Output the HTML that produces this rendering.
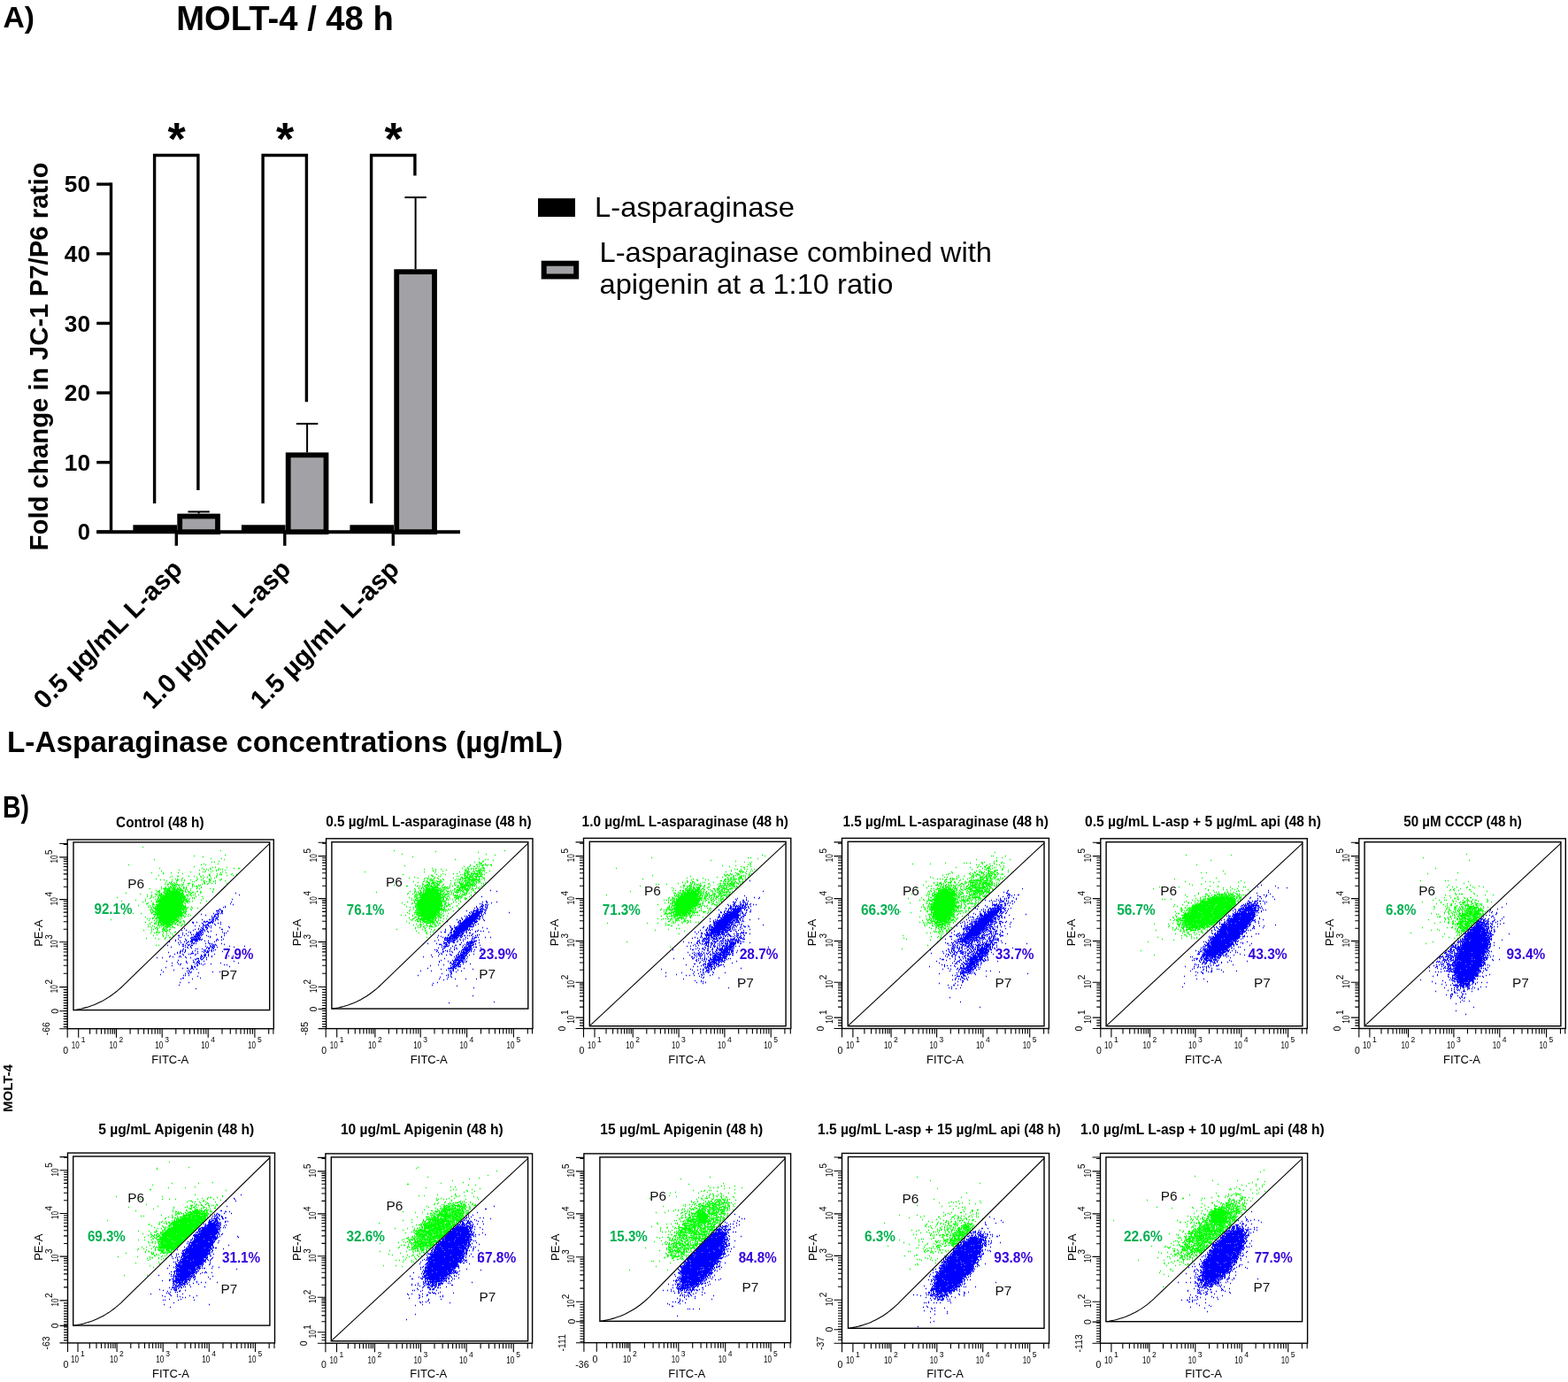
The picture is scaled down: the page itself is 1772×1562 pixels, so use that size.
<!DOCTYPE html>
<html><head><meta charset="utf-8"><title>MOLT-4 / 48 h</title>
<style>html,body{margin:0;padding:0;background:#fff;}svg{display:block;}</style></head>
<body><svg width="1772" height="1562" viewBox="0 0 1772 1562">
<rect width="1772" height="1562" fill="#fff"/>
<text x="3.5" y="31.2" font-family="Liberation Sans, Arial, sans-serif" font-weight="bold" font-size="33" textLength="35.5" lengthAdjust="spacingAndGlyphs">A)</text>
<text x="199.3" y="33.7" font-family="Liberation Sans, Arial, sans-serif" font-weight="bold" font-size="38.5" textLength="245.5" lengthAdjust="spacingAndGlyphs">MOLT-4 / 48 h</text>
<g stroke="#000" fill="none">
<line x1="125.5" y1="206.5" x2="125.5" y2="603" stroke-width="3.4"/>
<line x1="109.2" y1="601.2" x2="125.5" y2="601.2" stroke-width="3.4"/>
<line x1="109.2" y1="522.6" x2="125.5" y2="522.6" stroke-width="3.4"/>
<line x1="109.2" y1="444.0" x2="125.5" y2="444.0" stroke-width="3.4"/>
<line x1="109.2" y1="365.4" x2="125.5" y2="365.4" stroke-width="3.4"/>
<line x1="109.2" y1="286.8" x2="125.5" y2="286.8" stroke-width="3.4"/>
<line x1="109.2" y1="208.2" x2="125.5" y2="208.2" stroke-width="3.4"/>
<line x1="109.2" y1="601.2" x2="520" y2="601.2" stroke-width="3.9"/>
<line x1="199.3" y1="601" x2="199.3" y2="616.8" stroke-width="3.4"/>
<line x1="321.8" y1="601" x2="321.8" y2="616.8" stroke-width="3.4"/>
<line x1="444.3" y1="601" x2="444.3" y2="616.8" stroke-width="3.4"/>
</g>
<rect x="150.4" y="593.3" width="49.6" height="7.9" fill="#000"/>
<rect x="203.2" y="583.5" width="42.8" height="17.7" fill="#a2a2a6" stroke="#000" stroke-width="5.8"/>
<line x1="224.6" y1="578.4" x2="224.6" y2="580.6" stroke="#000" stroke-width="2"/>
<line x1="212.4" y1="578.4" x2="236.8" y2="578.4" stroke="#000" stroke-width="2"/>
<path d="M174.6 569 V175.5 H223.9 V554" fill="none" stroke="#000" stroke-width="3.4"/>
<text x="199.6" y="175" text-anchor="middle" font-family="Liberation Sans, Arial, sans-serif" font-weight="bold" font-size="52">*</text>
<rect x="272.9" y="593.3" width="49.6" height="7.9" fill="#000"/>
<rect x="325.7" y="514.3" width="42.8" height="86.9" fill="#a2a2a6" stroke="#000" stroke-width="5.8"/>
<line x1="347.1" y1="478.9" x2="347.1" y2="511.4" stroke="#000" stroke-width="2"/>
<line x1="334.9" y1="478.9" x2="359.3" y2="478.9" stroke="#000" stroke-width="2"/>
<path d="M297.1 569 V175.5 H346.4 V454.2" fill="none" stroke="#000" stroke-width="3.4"/>
<text x="322.1" y="175" text-anchor="middle" font-family="Liberation Sans, Arial, sans-serif" font-weight="bold" font-size="52">*</text>
<rect x="395.4" y="593.3" width="49.6" height="7.9" fill="#000"/>
<rect x="448.2" y="307.2" width="42.8" height="294.0" fill="#a2a2a6" stroke="#000" stroke-width="5.8"/>
<line x1="469.6" y1="223.1" x2="469.6" y2="304.3" stroke="#000" stroke-width="2"/>
<line x1="457.4" y1="223.1" x2="481.8" y2="223.1" stroke="#000" stroke-width="2"/>
<path d="M419.6 569 V175.5 H468.9 V198.5" fill="none" stroke="#000" stroke-width="3.4"/>
<text x="444.6" y="175" text-anchor="middle" font-family="Liberation Sans, Arial, sans-serif" font-weight="bold" font-size="52">*</text>
<text x="102" y="610.4" text-anchor="end" font-family="Liberation Sans, Arial, sans-serif" font-weight="bold" font-size="26" textLength="14.2" lengthAdjust="spacingAndGlyphs">0</text>
<text x="102" y="531.8" text-anchor="end" font-family="Liberation Sans, Arial, sans-serif" font-weight="bold" font-size="26" textLength="29.2" lengthAdjust="spacingAndGlyphs">10</text>
<text x="102" y="453.2" text-anchor="end" font-family="Liberation Sans, Arial, sans-serif" font-weight="bold" font-size="26" textLength="29.2" lengthAdjust="spacingAndGlyphs">20</text>
<text x="102" y="374.6" text-anchor="end" font-family="Liberation Sans, Arial, sans-serif" font-weight="bold" font-size="26" textLength="29.2" lengthAdjust="spacingAndGlyphs">30</text>
<text x="102" y="296.0" text-anchor="end" font-family="Liberation Sans, Arial, sans-serif" font-weight="bold" font-size="26" textLength="29.2" lengthAdjust="spacingAndGlyphs">40</text>
<text x="102" y="217.4" text-anchor="end" font-family="Liberation Sans, Arial, sans-serif" font-weight="bold" font-size="26" textLength="29.2" lengthAdjust="spacingAndGlyphs">50</text>
<text transform="translate(53.5 403) rotate(-90)" text-anchor="middle" font-family="Liberation Sans, Arial, sans-serif" font-weight="bold" font-size="29.5" textLength="439" lengthAdjust="spacingAndGlyphs">Fold change in JC-1 P7/P6 ratio</text>
<text transform="translate(207.8 645) rotate(-45)" text-anchor="end" font-family="Liberation Sans, Arial, sans-serif" font-weight="bold" font-size="29.5">0.5 µg/mL L-asp</text>
<text transform="translate(330.3 645) rotate(-45)" text-anchor="end" font-family="Liberation Sans, Arial, sans-serif" font-weight="bold" font-size="29.5">1.0 µg/mL L-asp</text>
<text transform="translate(452.8 645) rotate(-45)" text-anchor="end" font-family="Liberation Sans, Arial, sans-serif" font-weight="bold" font-size="29.5">1.5 µg/mL L-asp</text>
<text x="8" y="850.4" font-family="Liberation Sans, Arial, sans-serif" font-weight="bold" font-size="33" textLength="628" lengthAdjust="spacingAndGlyphs">L-Asparaginase concentrations (µg/mL)</text>
<rect x="608" y="224.2" width="42" height="20.8" fill="#000"/>
<rect x="614.7" y="297.7" width="36.5" height="14.8" fill="#a2a2a6" stroke="#000" stroke-width="6"/>
<text x="672" y="245" font-family="Liberation Sans, Arial, sans-serif" font-size="31.5" textLength="226" lengthAdjust="spacingAndGlyphs">L-asparaginase</text>
<text x="677.5" y="296.2" font-family="Liberation Sans, Arial, sans-serif" font-size="31.5" textLength="443.5" lengthAdjust="spacingAndGlyphs">L-asparaginase combined with</text>
<text x="677.5" y="331.9" font-family="Liberation Sans, Arial, sans-serif" font-size="31.5" textLength="332" lengthAdjust="spacingAndGlyphs">apigenin at a 1:10 ratio</text>
<text x="3" y="924.4" font-family="Liberation Sans, Arial, sans-serif" font-weight="bold" font-size="35" textLength="30" lengthAdjust="spacingAndGlyphs">B)</text>
<text transform="translate(13.8 1230.1) rotate(-90)" text-anchor="middle" font-family="Liberation Sans, Arial, sans-serif" font-weight="bold" font-size="15" textLength="54" lengthAdjust="spacingAndGlyphs">MOLT-4</text>
<text x="131.1" y="934.7" font-family="Liberation Sans, Arial, sans-serif" font-weight="bold" font-size="16.5" textLength="99.4" lengthAdjust="spacingAndGlyphs">Control (48 h)</text>
<clipPath id="c6a"><polygon points="83.0,1141.6 83.0,951.9 304.7,951.9 304.7,953.4 139.0,1114.1 137.0,1116.0 134.9,1117.8 132.9,1119.6 130.8,1121.3 128.7,1122.9 126.6,1124.5 124.4,1126.0 122.3,1127.4 120.1,1128.8 117.8,1130.1 115.6,1131.4 113.3,1132.5 111.0,1133.6 108.6,1134.7 106.3,1135.7 103.9,1136.6 101.4,1137.4 99.0,1138.2 96.5,1138.9 93.9,1139.6 91.4,1140.2 88.8,1140.7 86.1,1141.2 83.5,1141.6"/></clipPath>
<clipPath id="c7a"><polygon points="83.0,1141.6 83.5,1141.6 86.1,1141.2 88.8,1140.7 91.4,1140.2 93.9,1139.6 96.5,1138.9 99.0,1138.2 101.4,1137.4 103.9,1136.6 106.3,1135.7 108.6,1134.7 111.0,1133.6 113.3,1132.5 115.6,1131.4 117.8,1130.1 120.1,1128.8 122.3,1127.4 124.4,1126.0 126.6,1124.5 128.7,1122.9 130.8,1121.3 132.9,1119.6 134.9,1117.8 137.0,1116.0 139.0,1114.1 304.7,953.4 304.7,951.9 304.7,1141.6"/></clipPath>
<path d="M161 957.5h1M249 961.5h1M254 966.5h1M219 967.5h1M229 968.5h1M238 970.5h1M250 970.5h1M174 971.5h1M253 971.5h1M247 973.5h1M239 974.5h1M242 974.5h1M230 976.5h1M246 976.5h1M145 977.5h1M227 977.5h1M232 977.5h1M219 979.5h1M240 980.5h1M243 980.5h1M256 980.5h1M180 981.5h1M228 981.5h1M237 981.5h1M247 981.5h1M264 981.5h1M269 981.5h2M230 982.5h1M233 982.5h1M238 982.5h1M247 982.5h1M249 982.5h1M251 982.5h1M202 983.5h1M225 983.5h1M235 983.5h1M244 983.5h1M246 983.5h1M254 983.5h1M182 984.5h1M232 984.5h1M240 984.5h1M244 984.5h1M215 985.5h1M229 985.5h1M231 985.5h1M238 985.5h1M251 985.5h1M171 986.5h1M184 986.5h1M193 986.5h1M201 986.5h1M249 986.5h1M255 986.5h1M184 987.5h1M206 987.5h1M225 987.5h1M245 987.5h1M262 987.5h1M225 988.5h1M236 988.5h2M248 988.5h3M261 988.5h1M267 988.5h1M179 989.5h1M229 989.5h1M236 989.5h1M245 989.5h1M256 989.5h1M263 989.5h1M194 990.5h1M200 990.5h2M213 990.5h1M219 990.5h1M226 990.5h1M237 990.5h1M244 990.5h1M192 991.5h1M222 991.5h1M227 991.5h1M230 991.5h1M234 991.5h1M244 991.5h1M206 992.5h1M238 992.5h1M242 992.5h1M176 993.5h1M198 993.5h1M200 993.5h1M205 993.5h1M223 993.5h1M229 993.5h1M236 993.5h1M250 993.5h1M181 994.5h1M185 994.5h1M194 994.5h1M200 994.5h2M208 994.5h1M215 994.5h1M222 994.5h1M227 994.5h1M236 994.5h3M248 994.5h2M188 995.5h1M199 995.5h2M205 995.5h1M208 995.5h1M221 995.5h1M229 995.5h1M231 995.5h1M237 995.5h1M243 995.5h1M254 995.5h1M194 996.5h1M217 996.5h1M219 996.5h1M230 996.5h1M233 996.5h1M236 996.5h1M241 996.5h1M243 996.5h1M187 997.5h1M191 997.5h1M193 997.5h1M196 997.5h1M199 997.5h1M207 997.5h1M231 997.5h1M237 997.5h1M192 998.5h1M194 998.5h1M197 998.5h1M212 998.5h3M230 998.5h2M235 998.5h1M239 998.5h1M243 998.5h1M256 998.5h1M186 999.5h1M189 999.5h2M193 999.5h1M195 999.5h1M198 999.5h3M205 999.5h1M207 999.5h1M217 999.5h2M228 999.5h1M234 999.5h1M189 1000.5h1M194 1000.5h4M201 1000.5h3M206 1000.5h1M212 1000.5h1M217 1000.5h1M224 1000.5h1M226 1000.5h1M192 1001.5h1M194 1001.5h1M197 1001.5h3M205 1001.5h1M217 1001.5h1M219 1001.5h1M221 1001.5h2M225 1001.5h1M182 1002.5h1M187 1002.5h1M190 1002.5h1M192 1002.5h2M195 1002.5h2M202 1002.5h1M207 1002.5h1M210 1002.5h1M217 1002.5h1M223 1002.5h1M227 1002.5h1M186 1003.5h1M191 1003.5h1M193 1003.5h1M195 1003.5h4M200 1003.5h1M202 1003.5h2M207 1003.5h2M210 1003.5h1M222 1003.5h1M227 1003.5h1M169 1004.5h1M182 1004.5h1M184 1004.5h9M194 1004.5h4M200 1004.5h2M204 1004.5h1M207 1004.5h1M210 1004.5h1M215 1004.5h1M222 1004.5h1M225 1004.5h1M237 1004.5h1M241 1004.5h1M186 1005.5h2M189 1005.5h3M194 1005.5h1M196 1005.5h10M209 1005.5h1M211 1005.5h1M241 1005.5h1M176 1006.5h1M180 1006.5h1M185 1006.5h2M188 1006.5h6M195 1006.5h3M199 1006.5h2M203 1006.5h4M209 1006.5h1M215 1006.5h1M178 1007.5h3M186 1007.5h18M205 1007.5h1M207 1007.5h1M209 1007.5h1M212 1007.5h2M222 1007.5h2M226 1007.5h1M240 1007.5h1M171 1008.5h1M177 1008.5h1M179 1008.5h2M184 1008.5h2M188 1008.5h2M191 1008.5h13M205 1008.5h2M210 1008.5h1M214 1008.5h1M217 1008.5h2M227 1008.5h1M240 1008.5h1M142 1009.5h1M182 1009.5h1M185 1009.5h22M213 1009.5h1M215 1009.5h2M220 1009.5h1M226 1009.5h1M158 1010.5h1M175 1010.5h1M177 1010.5h1M179 1010.5h4M186 1010.5h22M215 1010.5h1M166 1011.5h1M171 1011.5h1M176 1011.5h2M180 1011.5h1M182 1011.5h3M186 1011.5h22M210 1011.5h3M214 1011.5h2M218 1011.5h1M220 1011.5h1M224 1011.5h1M171 1012.5h1M179 1012.5h4M184 1012.5h23M208 1012.5h1M212 1012.5h1M216 1012.5h1M166 1013.5h1M171 1013.5h1M175 1013.5h1M178 1013.5h1M181 1013.5h29M212 1013.5h1M221 1013.5h1M228 1013.5h1M132 1014.5h1M170 1014.5h1M173 1014.5h1M179 1014.5h1M181 1014.5h29M217 1014.5h1M219 1014.5h1M169 1015.5h1M178 1015.5h2M181 1015.5h28M211 1015.5h1M214 1015.5h1M217 1015.5h1M219 1015.5h1M229 1015.5h1M164 1016.5h1M175 1016.5h1M177 1016.5h1M180 1016.5h26M207 1016.5h4M213 1016.5h1M153 1017.5h1M178 1017.5h31M210 1017.5h2M227 1017.5h1M137 1018.5h1M164 1018.5h1M171 1018.5h1M176 1018.5h32M209 1018.5h5M217 1018.5h1M233 1018.5h1M161 1019.5h1M176 1019.5h1M178 1019.5h30M210 1019.5h2M214 1019.5h1M167 1020.5h1M173 1020.5h1M177 1020.5h1M179 1020.5h28M208 1020.5h1M212 1020.5h1M226 1020.5h1M165 1021.5h2M172 1021.5h1M179 1021.5h28M209 1021.5h1M172 1022.5h3M176 1022.5h31M156 1023.5h1M169 1023.5h1M177 1023.5h31M209 1023.5h1M167 1024.5h1M172 1024.5h1M175 1024.5h35M168 1025.5h1M170 1025.5h1M173 1025.5h1M175 1025.5h1M177 1025.5h29M207 1025.5h4M212 1025.5h1M216 1025.5h1M171 1026.5h1M173 1026.5h37M211 1026.5h1M217 1026.5h1M223 1026.5h1M171 1027.5h1M175 1027.5h34M210 1027.5h1M215 1027.5h1M169 1028.5h2M172 1028.5h1M175 1028.5h30M206 1028.5h2M209 1028.5h2M216 1028.5h1M172 1029.5h2M176 1029.5h30M207 1029.5h1M210 1029.5h1M170 1030.5h1M173 1030.5h3M177 1030.5h29M207 1030.5h4M171 1031.5h2M175 1031.5h33M209 1031.5h1M150 1032.5h1M159 1032.5h1M171 1032.5h1M176 1032.5h31M208 1032.5h2M140 1033.5h1M173 1033.5h33M210 1033.5h1M213 1033.5h1M175 1034.5h1M177 1034.5h31M215 1034.5h1M174 1035.5h1M177 1035.5h2M180 1035.5h26M207 1035.5h1M209 1035.5h1M212 1035.5h1M164 1036.5h1M174 1036.5h1M177 1036.5h25M204 1036.5h2M208 1036.5h1M172 1037.5h2M176 1037.5h24M201 1037.5h2M166 1038.5h1M169 1038.5h1M172 1038.5h1M175 1038.5h2M179 1038.5h22M203 1038.5h1M205 1038.5h1M125 1039.5h1M177 1039.5h1M179 1039.5h23M203 1039.5h1M168 1040.5h1M174 1040.5h1M177 1040.5h1M179 1040.5h16M196 1040.5h6M207 1040.5h1M176 1041.5h1M179 1041.5h18M200 1041.5h3M204 1041.5h1M207 1041.5h2M164 1042.5h1M171 1042.5h1M176 1042.5h1M178 1042.5h4M183 1042.5h15M199 1042.5h1M203 1042.5h1M208 1042.5h1M169 1043.5h1M174 1043.5h3M178 1043.5h2M181 1043.5h12M194 1043.5h2M198 1043.5h1M202 1043.5h1M204 1043.5h1M169 1044.5h1M174 1044.5h1M176 1044.5h1M179 1044.5h1M182 1044.5h1M184 1044.5h12M197 1044.5h2M200 1044.5h1M206 1044.5h1M208 1044.5h1M167 1045.5h1M178 1045.5h2M181 1045.5h5M187 1045.5h7M200 1045.5h2M205 1045.5h1M172 1046.5h1M178 1046.5h1M180 1046.5h1M184 1046.5h1M186 1046.5h1M188 1046.5h3M192 1046.5h1M194 1046.5h1M204 1046.5h2M167 1047.5h1M169 1047.5h1M174 1047.5h1M182 1047.5h1M186 1047.5h6M195 1047.5h1M171 1048.5h1M176 1048.5h2M180 1048.5h1M184 1048.5h2M188 1048.5h2M192 1048.5h1M194 1048.5h1M196 1048.5h2M175 1049.5h1M178 1049.5h1M184 1049.5h2M187 1049.5h1M171 1050.5h1M173 1050.5h1M177 1050.5h1M183 1050.5h4M188 1050.5h1M191 1050.5h2M162 1051.5h1M178 1051.5h1M185 1051.5h1M189 1051.5h1M171 1052.5h1M183 1052.5h2M186 1052.5h3M191 1052.5h1M176 1053.5h3M180 1053.5h1M188 1053.5h1M197 1053.5h2M170 1054.5h1M174 1054.5h1M176 1054.5h1M179 1054.5h1M184 1054.5h1M192 1054.5h1M188 1055.5h1M194 1055.5h1M177 1056.5h1M183 1056.5h1M173 1057.5h1M184 1057.5h1M188 1057.5h1M190 1057.5h1M195 1057.5h1M184 1058.5h1M187 1059.5h1M191 1059.5h2M165 1060.5h1M175 1060.5h1M186 1060.5h1M179 1061.5h1M186 1061.5h1M176 1068.5h1M179 1068.5h1" stroke="#00ff00" stroke-width="1.4" fill="none"/>
<path d="M266 1009.5h1M270 1011.5h1M262 1016.5h1M261 1019.5h1M260 1021.5h1M263 1022.5h1M254 1024.5h1M252 1025.5h1M254 1025.5h1M248 1027.5h1M247 1028.5h1M249 1028.5h1M244 1029.5h3M250 1029.5h2M247 1030.5h1M250 1030.5h2M245 1031.5h1M250 1031.5h1M241 1032.5h1M246 1032.5h2M249 1032.5h1M251 1032.5h1M227 1033.5h1M243 1033.5h4M232 1034.5h1M242 1034.5h1M246 1034.5h1M239 1035.5h1M242 1035.5h2M246 1035.5h1M241 1036.5h2M244 1036.5h1M246 1036.5h1M239 1037.5h2M245 1037.5h1M241 1038.5h1M243 1038.5h3M228 1039.5h1M236 1039.5h2M239 1039.5h3M246 1039.5h1M240 1040.5h1M243 1040.5h1M230 1041.5h2M233 1041.5h2M238 1041.5h2M241 1041.5h1M217 1042.5h2M222 1042.5h1M230 1042.5h1M232 1042.5h1M235 1042.5h6M249 1042.5h1M218 1043.5h1M228 1043.5h1M235 1043.5h3M240 1043.5h1M246 1043.5h1M229 1044.5h1M234 1044.5h1M242 1044.5h1M249 1044.5h1M230 1045.5h1M232 1045.5h4M243 1045.5h1M220 1046.5h1M225 1046.5h1M229 1046.5h1M231 1046.5h1M235 1046.5h1M238 1046.5h1M229 1047.5h1M232 1047.5h2M236 1047.5h1M258 1047.5h1M227 1048.5h1M229 1048.5h1M232 1048.5h3M238 1048.5h1M248 1048.5h1M259 1048.5h1M208 1049.5h1M224 1049.5h1M228 1049.5h2M234 1049.5h1M220 1050.5h1M224 1050.5h1M226 1050.5h1M229 1050.5h2M233 1050.5h1M250 1050.5h2M205 1051.5h1M210 1051.5h1M218 1051.5h1M227 1051.5h3M231 1051.5h1M225 1052.5h3M231 1052.5h1M234 1052.5h1M238 1052.5h1M257 1052.5h1M213 1053.5h1M215 1053.5h1M222 1053.5h1M224 1053.5h1M226 1053.5h1M228 1053.5h2M235 1053.5h1M251 1053.5h1M206 1054.5h1M215 1054.5h1M222 1054.5h6M253 1054.5h1M255 1054.5h1M210 1055.5h1M221 1055.5h4M227 1055.5h1M229 1055.5h1M253 1055.5h1M206 1056.5h1M216 1056.5h1M218 1056.5h1M221 1056.5h6M228 1056.5h1M244 1056.5h1M201 1057.5h2M208 1057.5h1M212 1057.5h1M220 1057.5h1M222 1057.5h4M227 1057.5h1M233 1057.5h1M253 1057.5h1M219 1058.5h5M225 1058.5h1M235 1058.5h1M237 1058.5h1M250 1058.5h1M202 1059.5h1M204 1059.5h1M216 1059.5h3M220 1059.5h2M223 1059.5h2M226 1059.5h1M237 1059.5h1M250 1059.5h1M215 1060.5h1M219 1060.5h1M221 1060.5h2M224 1060.5h2M201 1061.5h1M209 1061.5h1M216 1061.5h11M228 1061.5h1M245 1061.5h1M252 1061.5h1M198 1062.5h1M210 1062.5h1M216 1062.5h7M225 1062.5h1M227 1062.5h1M244 1062.5h1M246 1062.5h1M250 1062.5h1M198 1063.5h1M203 1063.5h1M210 1063.5h1M215 1063.5h3M220 1063.5h4M231 1063.5h1M235 1063.5h1M244 1063.5h1M191 1064.5h1M208 1064.5h1M212 1064.5h2M215 1064.5h3M221 1064.5h1M242 1064.5h1M201 1065.5h1M204 1065.5h1M211 1065.5h1M217 1065.5h1M219 1065.5h1M235 1065.5h1M210 1066.5h1M216 1066.5h1M218 1066.5h2M221 1066.5h1M232 1066.5h1M236 1066.5h2M239 1066.5h1M250 1066.5h1M202 1067.5h1M206 1067.5h2M212 1067.5h1M214 1067.5h1M239 1067.5h1M241 1067.5h1M243 1067.5h1M253 1067.5h1M189 1068.5h1M209 1068.5h1M212 1068.5h2M216 1068.5h2M237 1068.5h1M240 1068.5h1M242 1068.5h1M244 1068.5h1M206 1069.5h2M215 1069.5h1M232 1069.5h1M238 1069.5h1M240 1069.5h2M259 1069.5h1M276 1069.5h1M193 1070.5h1M209 1070.5h1M211 1070.5h1M215 1070.5h1M234 1070.5h1M237 1070.5h1M239 1070.5h2M242 1070.5h1M245 1070.5h1M264 1070.5h1M212 1071.5h1M216 1071.5h1M233 1071.5h1M235 1071.5h2M239 1071.5h3M207 1072.5h1M221 1072.5h1M223 1072.5h1M228 1072.5h1M235 1072.5h2M241 1072.5h1M206 1073.5h1M209 1073.5h1M230 1073.5h1M232 1073.5h1M239 1073.5h1M243 1073.5h1M258 1073.5h1M204 1074.5h1M206 1074.5h1M209 1074.5h1M220 1074.5h1M231 1074.5h1M234 1074.5h1M236 1074.5h1M238 1074.5h2M241 1074.5h1M203 1075.5h2M206 1075.5h1M209 1075.5h1M217 1075.5h1M223 1075.5h1M228 1075.5h1M230 1075.5h1M232 1075.5h1M234 1075.5h2M239 1075.5h1M251 1075.5h1M190 1076.5h1M200 1076.5h1M203 1076.5h1M208 1076.5h1M230 1076.5h1M233 1076.5h3M200 1077.5h1M203 1077.5h1M216 1077.5h3M223 1077.5h1M197 1078.5h1M206 1078.5h1M213 1078.5h1M215 1078.5h1M221 1078.5h1M231 1078.5h2M235 1078.5h1M242 1078.5h1M207 1079.5h1M220 1079.5h1M227 1079.5h1M230 1079.5h3M235 1079.5h1M192 1080.5h1M203 1080.5h1M227 1080.5h2M231 1080.5h2M235 1080.5h1M239 1080.5h1M258 1080.5h1M263 1080.5h1M191 1081.5h1M195 1081.5h1M202 1081.5h1M204 1081.5h1M209 1081.5h1M226 1081.5h1M228 1081.5h1M230 1081.5h1M239 1081.5h1M177 1082.5h1M183 1082.5h1M210 1082.5h1M215 1082.5h1M227 1082.5h1M230 1082.5h1M233 1082.5h1M266 1082.5h1M222 1083.5h3M226 1083.5h1M229 1083.5h1M220 1084.5h2M227 1084.5h2M233 1084.5h1M201 1085.5h1M218 1085.5h1M224 1085.5h1M188 1086.5h1M210 1086.5h1M223 1086.5h1M225 1086.5h1M230 1086.5h1M264 1086.5h1M200 1087.5h1M210 1087.5h1M218 1087.5h2M222 1087.5h3M194 1088.5h1M211 1088.5h1M222 1088.5h1M224 1088.5h2M249 1088.5h1M269 1088.5h1M201 1089.5h1M204 1089.5h1M220 1089.5h1M222 1089.5h1M225 1089.5h1M227 1089.5h1M231 1089.5h1M238 1089.5h1M203 1090.5h1M223 1090.5h1M229 1090.5h1M253 1090.5h1M256 1090.5h1M194 1091.5h1M216 1091.5h1M222 1091.5h2M216 1092.5h2M219 1092.5h2M259 1092.5h1M187 1093.5h1M216 1093.5h2M220 1093.5h1M206 1094.5h1M211 1094.5h2M216 1094.5h2M215 1095.5h1M218 1095.5h1M222 1095.5h1M182 1096.5h1M196 1096.5h1M213 1096.5h1M211 1097.5h1M213 1097.5h1M184 1098.5h1M214 1098.5h1M216 1098.5h1M240 1098.5h1M248 1098.5h1M212 1099.5h1M215 1099.5h1M224 1099.5h1M209 1100.5h1M213 1100.5h1M181 1101.5h1M207 1102.5h1M209 1102.5h1M213 1102.5h1M223 1103.5h1M206 1105.5h2M226 1105.5h1M204 1106.5h1M217 1106.5h1M203 1110.5h1M213 1110.5h1M202 1113.5h1M221 1117.5h1" stroke="#0000ff" stroke-width="1.4" fill="none"/>
<g fill="none" stroke="#000">
<rect x="76.2" y="949.0" width="233.1" height="213.7" stroke-width="1.4"/>
<rect x="83.0" y="951.9" width="221.7" height="189.7" stroke-width="1.4"/>
<path d="M83.5 1141.6 L86.1 1141.2 L88.8 1140.7 L91.4 1140.2 L93.9 1139.6 L96.5 1138.9 L99.0 1138.2 L101.4 1137.4 L103.9 1136.6 L106.3 1135.7 L108.6 1134.7 L111.0 1133.6 L113.3 1132.5 L115.6 1131.4 L117.8 1130.1 L120.1 1128.8 L122.3 1127.4 L124.4 1126.0 L126.6 1124.5 L128.7 1122.9 L130.8 1121.3 L132.9 1119.6 L134.9 1117.8 L137.0 1116.0 L139.0 1114.1 L304.7 953.4" stroke-width="1.1"/>
<path d="M76.2 1162.7V1172.7M88.7 1162.7V1172.7M131.5 1162.7V1172.7M183.2 1162.7V1172.7M235.2 1162.7V1172.7M287.9 1162.7V1172.7M101.6 1162.7V1168.7M109.1 1162.7V1168.7M114.5 1162.7V1168.7M118.6 1162.7V1168.7M122.0 1162.7V1168.7M124.9 1162.7V1168.7M127.4 1162.7V1168.7M129.6 1162.7V1168.7M147.1 1162.7V1168.7M156.2 1162.7V1168.7M162.6 1162.7V1168.7M167.6 1162.7V1168.7M171.7 1162.7V1168.7M175.2 1162.7V1168.7M178.2 1162.7V1168.7M180.8 1162.7V1168.7M198.8 1162.7V1168.7M208.0 1162.7V1168.7M214.5 1162.7V1168.7M219.5 1162.7V1168.7M223.7 1162.7V1168.7M227.1 1162.7V1168.7M230.2 1162.7V1168.7M232.8 1162.7V1168.7M251.0 1162.7V1168.7M260.3 1162.7V1168.7M266.9 1162.7V1168.7M272.0 1162.7V1168.7M276.2 1162.7V1168.7M279.7 1162.7V1168.7M282.7 1162.7V1168.7M285.4 1162.7V1168.7M303.7 1162.7V1168.7M308.9 1162.7V1168.7M67.2 968.9H76.2M67.2 1016.6H76.2M67.2 1064.8H76.2M67.2 1115.6H76.2M67.2 1142.8H76.2M67.2 1162.7H76.2M71.7 954.5H76.2M67.2 953.5H76.2M71.7 1002.2H76.2M71.7 993.8H76.2M71.7 987.9H76.2M71.7 983.2H76.2M71.7 979.5H76.2M71.7 976.3H76.2M71.7 973.5H76.2M71.7 971.1H76.2M71.7 1050.3H76.2M71.7 1041.8H76.2M71.7 1035.8H76.2M71.7 1031.1H76.2M71.7 1027.3H76.2M71.7 1024.1H76.2M71.7 1021.3H76.2M71.7 1018.8H76.2M71.7 1100.3H76.2M71.7 1091.3H76.2M71.7 1085.0H76.2M71.7 1080.1H76.2M71.7 1076.0H76.2M71.7 1072.6H76.2M71.7 1069.7H76.2M71.7 1067.1H76.2M71.7 1118.6H76.2M71.7 1121.6H76.2M71.7 1124.6H76.2M71.7 1127.6H76.2M71.7 1130.6H76.2M71.7 1133.6H76.2M71.7 1136.6H76.2M71.7 1139.6H76.2M71.7 1142.6H76.2M71.7 1145.6H76.2M71.7 1148.6H76.2M71.7 1151.6H76.2M71.7 1154.6H76.2M71.7 1157.6H76.2M71.7 1160.6H76.2M67.2 1162.7H76.2" stroke-width="1.1"/>
</g>
<g font-family="Liberation Sans, Arial, sans-serif"><text x="74.2" y="1190.7" text-anchor="middle" font-size="10.5">0</text><text x="85.2" y="1185.2" text-anchor="middle" font-size="10.5" textLength="9" lengthAdjust="spacingAndGlyphs">10</text><text x="91.7" y="1178.2" font-size="8.5">1</text><text x="128.0" y="1185.2" text-anchor="middle" font-size="10.5" textLength="9" lengthAdjust="spacingAndGlyphs">10</text><text x="134.5" y="1178.2" font-size="8.5">2</text><text x="179.7" y="1185.2" text-anchor="middle" font-size="10.5" textLength="9" lengthAdjust="spacingAndGlyphs">10</text><text x="186.2" y="1178.2" font-size="8.5">3</text><text x="231.7" y="1185.2" text-anchor="middle" font-size="10.5" textLength="9" lengthAdjust="spacingAndGlyphs">10</text><text x="238.2" y="1178.2" font-size="8.5">4</text><text x="284.4" y="1185.2" text-anchor="middle" font-size="10.5" textLength="9" lengthAdjust="spacingAndGlyphs">10</text><text x="290.9" y="1178.2" font-size="8.5">5</text><text transform="translate(65.4 975.5) rotate(-90)" font-size="10.5" textLength="9" lengthAdjust="spacingAndGlyphs">10</text><text transform="translate(58.8 965.9) rotate(-90)" font-size="10">5</text><text transform="translate(65.4 1023.2) rotate(-90)" font-size="10.5" textLength="9" lengthAdjust="spacingAndGlyphs">10</text><text transform="translate(58.8 1013.6) rotate(-90)" font-size="10">4</text><text transform="translate(65.4 1071.4) rotate(-90)" font-size="10.5" textLength="9" lengthAdjust="spacingAndGlyphs">10</text><text transform="translate(58.8 1061.8) rotate(-90)" font-size="10">3</text><text transform="translate(65.4 1122.2) rotate(-90)" font-size="10.5" textLength="9" lengthAdjust="spacingAndGlyphs">10</text><text transform="translate(58.8 1112.6) rotate(-90)" font-size="10">2</text><text transform="translate(65.9 1142.8) rotate(-90)" text-anchor="middle" font-size="10.5">0</text><text transform="translate(55.7 1162.7) rotate(-90)" text-anchor="middle" font-size="10.5">-66</text><text x="192.3" y="1201.7" text-anchor="middle" font-size="13">FITC-A</text><text transform="translate(48.4 1054.7) rotate(-90)" text-anchor="middle" font-size="13">PE-A</text><text x="144.3" y="1003.7" font-size="15.4" fill="#111">P6</text><text x="249.2" y="1106.8" font-size="15.4" fill="#111">P7</text><text x="106.5" y="1033.4" font-size="17" font-weight="bold" fill="#00b050" textLength="43.0" lengthAdjust="spacingAndGlyphs">92.1%</text><text x="252.0" y="1083.6" font-size="17" font-weight="bold" fill="#3300e0" textLength="34.4" lengthAdjust="spacingAndGlyphs">7.9%</text></g>
<text x="368.2" y="934.0" font-family="Liberation Sans, Arial, sans-serif" font-weight="bold" font-size="16.5" textLength="232.4" lengthAdjust="spacingAndGlyphs">0.5 µg/mL L-asparaginase (48 h)</text>
<clipPath id="c6b"><polygon points="374.9,1140.1 374.9,951.7 596.8,951.7 596.8,953.2 430.9,1112.6 428.9,1114.5 426.9,1116.4 424.8,1118.1 422.7,1119.8 420.6,1121.5 418.5,1123.0 416.4,1124.5 414.2,1126.0 412.0,1127.3 409.8,1128.6 407.5,1129.9 405.2,1131.1 402.9,1132.2 400.6,1133.2 398.2,1134.2 395.8,1135.1 393.4,1136.0 390.9,1136.7 388.4,1137.5 385.9,1138.1 383.3,1138.7 380.7,1139.2 378.1,1139.7 375.4,1140.1"/></clipPath>
<clipPath id="c7b"><polygon points="374.9,1140.1 375.4,1140.1 378.1,1139.7 380.7,1139.2 383.3,1138.7 385.9,1138.1 388.4,1137.5 390.9,1136.7 393.4,1136.0 395.8,1135.1 398.2,1134.2 400.6,1133.2 402.9,1132.2 405.2,1131.1 407.5,1129.9 409.8,1128.6 412.0,1127.3 414.2,1126.0 416.4,1124.5 418.5,1123.0 420.6,1121.5 422.7,1119.8 424.8,1118.1 426.9,1116.4 428.9,1114.5 430.9,1112.6 596.8,953.2 596.8,951.7 596.8,1140.1"/></clipPath>
<path d="M445 961.5h1M570 961.5h1M492 962.5h1M540 963.5h1M454 965.5h1M549 965.5h1M559 966.5h1M466 968.5h1M541 970.5h1M514 971.5h1M548 971.5h1M551 971.5h1M557 972.5h1M545 973.5h2M536 974.5h1M541 974.5h1M541 975.5h4M543 976.5h1M548 976.5h1M531 977.5h1M538 977.5h2M541 977.5h1M543 977.5h1M545 977.5h2M548 977.5h2M551 977.5h1M554 977.5h2M457 978.5h1M531 978.5h1M544 978.5h2M550 978.5h1M555 978.5h1M524 979.5h1M530 979.5h1M535 979.5h2M539 979.5h1M541 979.5h1M528 980.5h1M545 980.5h2M488 981.5h1M522 981.5h1M528 981.5h2M532 981.5h1M534 981.5h1M537 981.5h2M540 981.5h1M542 981.5h1M544 981.5h1M546 981.5h2M479 982.5h1M492 982.5h1M498 982.5h1M526 982.5h1M529 982.5h1M532 982.5h1M535 982.5h1M542 982.5h1M489 983.5h1M504 983.5h1M525 983.5h1M527 983.5h1M529 983.5h1M537 983.5h1M540 983.5h5M546 983.5h2M489 984.5h1M492 984.5h1M500 984.5h1M526 984.5h1M528 984.5h1M535 984.5h1M538 984.5h2M541 984.5h1M545 984.5h1M553 984.5h1M412 985.5h1M479 985.5h1M519 985.5h1M525 985.5h1M527 985.5h4M534 985.5h1M536 985.5h1M540 985.5h4M547 985.5h1M491 986.5h1M525 986.5h1M527 986.5h2M532 986.5h1M536 986.5h1M539 986.5h1M541 986.5h1M544 986.5h1M549 986.5h1M500 987.5h1M512 987.5h1M516 987.5h1M524 987.5h3M528 987.5h2M532 987.5h8M541 987.5h3M455 988.5h1M493 988.5h1M498 988.5h1M503 988.5h1M520 988.5h1M522 988.5h1M524 988.5h1M528 988.5h3M532 988.5h1M535 988.5h1M537 988.5h4M542 988.5h1M544 988.5h2M547 988.5h1M487 989.5h2M524 989.5h3M528 989.5h1M531 989.5h1M533 989.5h2M539 989.5h1M543 989.5h1M484 990.5h1M488 990.5h2M495 990.5h1M497 990.5h1M516 990.5h1M518 990.5h1M525 990.5h1M527 990.5h2M530 990.5h3M534 990.5h1M536 990.5h9M468 991.5h1M491 991.5h1M521 991.5h2M526 991.5h3M530 991.5h5M537 991.5h2M541 991.5h1M545 991.5h1M462 992.5h1M472 992.5h1M480 992.5h1M482 992.5h1M484 992.5h1M490 992.5h1M494 992.5h1M512 992.5h1M520 992.5h1M522 992.5h1M524 992.5h7M533 992.5h1M535 992.5h1M538 992.5h1M541 992.5h1M546 992.5h2M479 993.5h1M483 993.5h1M486 993.5h2M490 993.5h1M495 993.5h1M500 993.5h1M516 993.5h1M518 993.5h1M520 993.5h1M522 993.5h2M525 993.5h2M529 993.5h3M533 993.5h6M541 993.5h2M544 993.5h1M485 994.5h1M488 994.5h2M497 994.5h1M501 994.5h1M514 994.5h1M519 994.5h2M526 994.5h1M528 994.5h14M547 994.5h1M479 995.5h1M482 995.5h1M486 995.5h4M491 995.5h1M493 995.5h1M497 995.5h2M509 995.5h1M517 995.5h1M522 995.5h1M524 995.5h4M530 995.5h1M532 995.5h5M540 995.5h1M542 995.5h1M467 996.5h1M478 996.5h1M482 996.5h2M489 996.5h1M494 996.5h4M499 996.5h1M519 996.5h1M521 996.5h1M525 996.5h1M528 996.5h3M532 996.5h2M535 996.5h1M537 996.5h2M541 996.5h2M472 997.5h1M481 997.5h1M483 997.5h3M488 997.5h5M497 997.5h2M514 997.5h1M516 997.5h1M518 997.5h2M523 997.5h1M526 997.5h6M534 997.5h2M538 997.5h1M540 997.5h1M542 997.5h1M548 997.5h1M477 998.5h1M484 998.5h2M487 998.5h4M493 998.5h2M496 998.5h1M509 998.5h1M513 998.5h1M519 998.5h5M526 998.5h1M528 998.5h1M530 998.5h2M533 998.5h1M535 998.5h2M538 998.5h1M544 998.5h1M546 998.5h1M478 999.5h1M482 999.5h2M485 999.5h1M489 999.5h1M491 999.5h1M494 999.5h2M501 999.5h1M513 999.5h1M520 999.5h4M525 999.5h4M530 999.5h5M537 999.5h1M546 999.5h1M445 1000.5h1M469 1000.5h1M477 1000.5h1M480 1000.5h6M487 1000.5h1M490 1000.5h2M493 1000.5h4M500 1000.5h1M508 1000.5h1M514 1000.5h2M517 1000.5h1M520 1000.5h3M524 1000.5h6M531 1000.5h6M459 1001.5h2M471 1001.5h2M474 1001.5h1M479 1001.5h1M483 1001.5h2M486 1001.5h3M490 1001.5h1M492 1001.5h1M494 1001.5h1M499 1001.5h1M511 1001.5h1M517 1001.5h2M521 1001.5h11M533 1001.5h2M536 1001.5h1M538 1001.5h1M544 1001.5h1M477 1002.5h1M480 1002.5h3M484 1002.5h1M486 1002.5h4M491 1002.5h4M502 1002.5h2M505 1002.5h1M508 1002.5h1M516 1002.5h2M520 1002.5h6M529 1002.5h1M531 1002.5h1M542 1002.5h1M473 1003.5h1M476 1003.5h1M478 1003.5h1M481 1003.5h3M485 1003.5h1M488 1003.5h8M497 1003.5h1M499 1003.5h4M504 1003.5h1M507 1003.5h1M516 1003.5h1M518 1003.5h9M528 1003.5h1M530 1003.5h2M533 1003.5h1M538 1003.5h1M540 1003.5h1M468 1004.5h1M473 1004.5h1M476 1004.5h1M478 1004.5h2M481 1004.5h11M493 1004.5h1M496 1004.5h2M503 1004.5h1M505 1004.5h2M513 1004.5h2M519 1004.5h1M522 1004.5h1M524 1004.5h1M526 1004.5h3M530 1004.5h1M533 1004.5h2M537 1004.5h1M541 1004.5h1M469 1005.5h1M480 1005.5h16M498 1005.5h2M501 1005.5h2M513 1005.5h1M516 1005.5h5M522 1005.5h1M524 1005.5h6M532 1005.5h1M534 1005.5h1M474 1006.5h2M478 1006.5h2M481 1006.5h18M500 1006.5h2M504 1006.5h1M509 1006.5h1M511 1006.5h1M515 1006.5h1M517 1006.5h3M521 1006.5h1M523 1006.5h1M526 1006.5h4M534 1006.5h2M463 1007.5h1M468 1007.5h2M472 1007.5h1M475 1007.5h1M478 1007.5h1M480 1007.5h16M497 1007.5h4M505 1007.5h3M509 1007.5h1M513 1007.5h1M516 1007.5h1M518 1007.5h1M520 1007.5h1M522 1007.5h2M527 1007.5h2M425 1008.5h1M470 1008.5h1M472 1008.5h1M475 1008.5h2M478 1008.5h1M480 1008.5h16M497 1008.5h2M502 1008.5h1M505 1008.5h1M510 1008.5h1M514 1008.5h5M523 1008.5h2M527 1008.5h1M532 1008.5h1M536 1008.5h2M461 1009.5h1M468 1009.5h1M473 1009.5h4M478 1009.5h21M500 1009.5h2M507 1009.5h1M512 1009.5h1M516 1009.5h1M520 1009.5h1M525 1009.5h3M530 1009.5h1M460 1010.5h1M466 1010.5h1M470 1010.5h1M473 1010.5h3M477 1010.5h22M501 1010.5h1M503 1010.5h4M510 1010.5h1M512 1010.5h1M522 1010.5h1M524 1010.5h1M527 1010.5h1M469 1011.5h1M471 1011.5h2M474 1011.5h27M502 1011.5h3M508 1011.5h1M512 1011.5h1M514 1011.5h1M516 1011.5h1M519 1011.5h1M522 1011.5h5M532 1011.5h1M468 1012.5h1M470 1012.5h1M474 1012.5h24M500 1012.5h1M502 1012.5h1M506 1012.5h1M513 1012.5h5M521 1012.5h1M532 1012.5h1M469 1013.5h1M471 1013.5h1M475 1013.5h24M500 1013.5h3M505 1013.5h1M507 1013.5h1M515 1013.5h1M518 1013.5h3M522 1013.5h1M530 1013.5h1M462 1014.5h1M468 1014.5h1M470 1014.5h1M473 1014.5h29M503 1014.5h1M513 1014.5h2M516 1014.5h3M521 1014.5h1M525 1014.5h1M465 1015.5h1M470 1015.5h3M476 1015.5h23M500 1015.5h2M504 1015.5h2M508 1015.5h1M515 1015.5h4M520 1015.5h1M525 1015.5h3M469 1016.5h1M474 1016.5h25M500 1016.5h2M504 1016.5h1M506 1016.5h1M511 1016.5h1M515 1016.5h1M525 1016.5h2M465 1017.5h1M467 1017.5h1M469 1017.5h30M500 1017.5h2M504 1017.5h1M506 1017.5h1M514 1017.5h1M518 1017.5h1M468 1018.5h1M471 1018.5h30M502 1018.5h2M520 1018.5h1M460 1019.5h1M468 1019.5h1M472 1019.5h28M501 1019.5h2M512 1019.5h1M515 1019.5h1M520 1019.5h1M454 1020.5h1M466 1020.5h1M468 1020.5h1M471 1020.5h29M503 1020.5h2M506 1020.5h1M465 1021.5h1M469 1021.5h31M502 1021.5h2M510 1021.5h1M518 1021.5h1M457 1022.5h1M470 1022.5h30M502 1022.5h2M506 1022.5h3M469 1023.5h1M471 1023.5h30M504 1023.5h1M506 1023.5h1M516 1023.5h1M459 1024.5h1M469 1024.5h31M502 1024.5h1M504 1024.5h2M508 1024.5h1M516 1024.5h1M463 1025.5h1M467 1025.5h1M469 1025.5h1M471 1025.5h26M499 1025.5h1M501 1025.5h1M511 1025.5h1M470 1026.5h1M472 1026.5h28M502 1026.5h1M518 1026.5h1M467 1027.5h1M470 1027.5h32M506 1027.5h1M509 1027.5h1M463 1028.5h1M471 1028.5h28M500 1028.5h5M507 1028.5h1M462 1029.5h1M469 1029.5h2M472 1029.5h25M499 1029.5h1M501 1029.5h1M505 1029.5h1M512 1029.5h1M471 1030.5h2M474 1030.5h23M501 1030.5h1M503 1030.5h1M460 1031.5h1M468 1031.5h29M498 1031.5h1M462 1032.5h1M471 1032.5h23M495 1032.5h2M500 1032.5h1M506 1032.5h1M468 1033.5h1M470 1033.5h2M473 1033.5h1M475 1033.5h20M496 1033.5h3M453 1034.5h1M458 1034.5h1M466 1034.5h1M471 1034.5h23M495 1034.5h1M499 1034.5h1M501 1034.5h1M466 1035.5h1M473 1035.5h20M494 1035.5h4M501 1035.5h1M505 1035.5h1M469 1036.5h2M472 1036.5h2M476 1036.5h1M478 1036.5h15M495 1036.5h2M498 1036.5h1M462 1037.5h1M468 1037.5h1M472 1037.5h1M476 1037.5h15M492 1037.5h2M497 1037.5h2M466 1038.5h2M472 1038.5h21M495 1038.5h1M501 1038.5h1M504 1038.5h1M463 1039.5h1M465 1039.5h1M470 1039.5h2M474 1039.5h13M488 1039.5h2M492 1039.5h1M465 1040.5h1M469 1040.5h1M472 1040.5h1M474 1040.5h1M477 1040.5h3M482 1040.5h8M491 1040.5h2M495 1040.5h1M497 1040.5h1M459 1041.5h1M471 1041.5h3M475 1041.5h1M478 1041.5h5M484 1041.5h7M493 1041.5h2M500 1041.5h1M475 1042.5h1M477 1042.5h1M479 1042.5h2M482 1042.5h3M486 1042.5h5M493 1042.5h1M462 1043.5h1M481 1043.5h6M489 1043.5h1M491 1043.5h1M494 1043.5h1M496 1043.5h2M470 1044.5h1M474 1044.5h2M478 1044.5h1M488 1044.5h1M490 1044.5h1M467 1045.5h1M475 1045.5h2M481 1045.5h2M486 1045.5h1M491 1045.5h2M495 1045.5h1M472 1046.5h1M474 1046.5h1M479 1046.5h1M483 1046.5h1M485 1046.5h3M492 1046.5h2M498 1046.5h1M475 1047.5h1M478 1047.5h1M485 1047.5h5M491 1047.5h1M469 1048.5h1M472 1048.5h1M474 1048.5h1M479 1048.5h1M481 1048.5h1M469 1049.5h1M480 1049.5h1M485 1049.5h1M495 1049.5h1M448 1050.5h1M477 1050.5h1M487 1050.5h1M491 1050.5h1M480 1051.5h2M490 1051.5h1M470 1052.5h1M480 1052.5h1M482 1053.5h1M486 1053.5h1M489 1053.5h1M473 1054.5h1M481 1054.5h1M482 1055.5h1M486 1056.5h1M482 1059.5h1" stroke="#00ff00" stroke-width="1.4" fill="none"/>
<path d="M554 1006.5h1M561 1007.5h1M544 1013.5h1M549 1018.5h1M545 1019.5h1M549 1019.5h2M561 1019.5h1M550 1020.5h1M555 1020.5h1M542 1021.5h1M544 1021.5h1M545 1022.5h1M548 1022.5h2M551 1022.5h1M544 1023.5h1M546 1023.5h1M550 1023.5h1M538 1024.5h1M543 1024.5h3M548 1024.5h1M550 1024.5h1M538 1025.5h1M542 1025.5h1M545 1025.5h1M548 1025.5h1M550 1025.5h1M536 1026.5h1M539 1026.5h1M544 1026.5h1M549 1026.5h2M539 1027.5h2M542 1027.5h5M535 1028.5h1M538 1028.5h3M542 1028.5h1M547 1028.5h3M527 1029.5h1M535 1029.5h6M542 1029.5h4M532 1030.5h1M534 1030.5h2M538 1030.5h8M548 1030.5h1M530 1031.5h1M533 1031.5h1M535 1031.5h1M537 1031.5h6M544 1031.5h1M547 1031.5h1M575 1031.5h1M531 1032.5h1M533 1032.5h11M548 1032.5h1M533 1033.5h9M544 1033.5h1M546 1033.5h1M529 1034.5h2M532 1034.5h10M544 1034.5h1M525 1035.5h1M527 1035.5h1M530 1035.5h14M545 1035.5h1M527 1036.5h2M530 1036.5h10M542 1036.5h1M521 1037.5h1M526 1037.5h1M528 1037.5h12M541 1037.5h1M545 1037.5h1M522 1038.5h1M526 1038.5h15M542 1038.5h1M516 1039.5h1M522 1039.5h1M525 1039.5h13M541 1039.5h1M546 1039.5h1M519 1040.5h2M524 1040.5h13M538 1040.5h1M547 1040.5h1M505 1041.5h1M518 1041.5h1M520 1041.5h1M523 1041.5h17M517 1042.5h2M520 1042.5h1M522 1042.5h12M536 1042.5h3M519 1043.5h16M536 1043.5h1M518 1044.5h1M520 1044.5h14M535 1044.5h1M540 1044.5h1M519 1045.5h13M534 1045.5h1M537 1045.5h1M508 1046.5h1M513 1046.5h1M517 1046.5h16M535 1046.5h1M509 1047.5h1M515 1047.5h2M518 1047.5h17M509 1048.5h1M513 1048.5h16M545 1048.5h1M510 1049.5h2M514 1049.5h15M530 1049.5h1M550 1049.5h1M503 1050.5h1M510 1050.5h2M514 1050.5h15M530 1050.5h1M533 1050.5h1M503 1051.5h1M509 1051.5h2M513 1051.5h1M515 1051.5h12M529 1051.5h1M531 1051.5h1M540 1051.5h1M512 1052.5h13M527 1052.5h1M537 1052.5h1M539 1052.5h1M543 1052.5h1M546 1052.5h1M498 1053.5h1M502 1053.5h2M509 1053.5h2M512 1053.5h11M524 1053.5h1M526 1053.5h1M537 1053.5h1M552 1053.5h1M508 1054.5h3M513 1054.5h7M521 1054.5h3M527 1054.5h1M530 1054.5h2M512 1055.5h9M522 1055.5h2M534 1055.5h1M506 1056.5h2M509 1056.5h10M521 1056.5h2M533 1056.5h1M539 1056.5h1M541 1056.5h1M495 1057.5h1M506 1057.5h1M509 1057.5h13M524 1057.5h2M528 1057.5h1M530 1057.5h1M532 1057.5h1M537 1057.5h1M539 1057.5h1M498 1058.5h1M508 1058.5h9M518 1058.5h1M520 1058.5h1M522 1058.5h1M534 1058.5h1M494 1059.5h1M500 1059.5h1M503 1059.5h1M505 1059.5h1M507 1059.5h3M511 1059.5h7M520 1059.5h2M526 1059.5h1M536 1059.5h3M540 1059.5h1M548 1059.5h1M554 1059.5h1M502 1060.5h15M528 1060.5h1M533 1060.5h2M536 1060.5h1M502 1061.5h1M505 1061.5h1M507 1061.5h3M511 1061.5h1M513 1061.5h1M515 1061.5h2M519 1061.5h1M523 1061.5h1M525 1061.5h1M533 1061.5h1M535 1061.5h1M495 1062.5h1M502 1062.5h7M510 1062.5h5M520 1062.5h1M533 1062.5h1M541 1062.5h1M491 1063.5h1M505 1063.5h5M512 1063.5h2M517 1063.5h1M523 1063.5h1M532 1063.5h2M535 1063.5h4M501 1064.5h1M505 1064.5h2M508 1064.5h1M510 1064.5h3M516 1064.5h1M528 1064.5h1M530 1064.5h5M536 1064.5h1M502 1065.5h3M506 1065.5h3M512 1065.5h2M521 1065.5h1M527 1065.5h3M531 1065.5h5M541 1065.5h1M483 1066.5h1M493 1066.5h1M501 1066.5h2M504 1066.5h1M507 1066.5h1M527 1066.5h1M529 1066.5h5M537 1066.5h1M496 1067.5h3M503 1067.5h3M519 1067.5h2M525 1067.5h1M527 1067.5h3M531 1067.5h1M534 1067.5h2M537 1067.5h1M499 1068.5h1M504 1068.5h1M507 1068.5h1M514 1068.5h2M523 1068.5h1M527 1068.5h1M529 1068.5h6M542 1068.5h1M501 1069.5h6M511 1069.5h1M526 1069.5h1M529 1069.5h4M499 1070.5h1M503 1070.5h1M513 1070.5h1M522 1070.5h1M524 1070.5h2M527 1070.5h6M535 1070.5h1M537 1070.5h2M495 1071.5h1M501 1071.5h2M509 1071.5h1M515 1071.5h1M525 1071.5h4M530 1071.5h3M543 1071.5h1M500 1072.5h1M513 1072.5h1M516 1072.5h1M523 1072.5h9M533 1072.5h1M491 1073.5h1M493 1073.5h1M500 1073.5h1M508 1073.5h1M513 1073.5h1M522 1073.5h11M536 1073.5h1M544 1073.5h1M494 1074.5h1M503 1074.5h1M505 1074.5h1M521 1074.5h1M523 1074.5h1M525 1074.5h6M532 1074.5h1M493 1075.5h1M500 1075.5h2M505 1075.5h1M508 1075.5h1M510 1075.5h1M519 1075.5h1M521 1075.5h1M523 1075.5h2M526 1075.5h3M530 1075.5h1M532 1075.5h1M535 1075.5h1M495 1076.5h1M500 1076.5h1M511 1076.5h1M518 1076.5h1M521 1076.5h7M529 1076.5h1M498 1077.5h1M520 1077.5h1M523 1077.5h6M544 1077.5h1M496 1078.5h1M499 1078.5h1M508 1078.5h1M517 1078.5h2M520 1078.5h6M527 1078.5h1M535 1078.5h1M487 1079.5h1M504 1079.5h1M509 1079.5h2M516 1079.5h1M518 1079.5h1M520 1079.5h4M525 1079.5h3M530 1079.5h1M495 1080.5h1M515 1080.5h1M518 1080.5h9M478 1081.5h1M488 1081.5h1M513 1081.5h1M516 1081.5h4M521 1081.5h4M528 1081.5h1M515 1082.5h1M517 1082.5h9M502 1083.5h1M514 1083.5h1M516 1083.5h2M519 1083.5h1M521 1083.5h4M527 1083.5h1M514 1084.5h5M520 1084.5h2M523 1084.5h1M525 1084.5h1M498 1085.5h1M511 1085.5h1M513 1085.5h11M525 1085.5h1M496 1086.5h1M506 1086.5h1M512 1086.5h1M515 1086.5h1M518 1086.5h2M521 1086.5h2M527 1086.5h1M496 1087.5h1M509 1087.5h1M512 1087.5h4M517 1087.5h4M522 1087.5h3M526 1087.5h1M508 1088.5h2M512 1088.5h1M514 1088.5h1M516 1088.5h4M510 1089.5h5M516 1089.5h4M523 1089.5h1M531 1089.5h1M495 1090.5h1M501 1090.5h1M511 1090.5h1M513 1090.5h6M520 1090.5h1M486 1091.5h1M509 1091.5h1M512 1091.5h2M515 1091.5h2M518 1091.5h1M511 1092.5h5M517 1092.5h4M509 1093.5h2M512 1093.5h2M483 1094.5h1M506 1094.5h7M514 1094.5h2M524 1094.5h1M498 1095.5h1M512 1095.5h1M534 1095.5h1M504 1096.5h1M507 1096.5h1M509 1096.5h1M511 1096.5h2M517 1096.5h1M475 1097.5h1M487 1097.5h1M509 1097.5h1M512 1097.5h1M521 1097.5h1M508 1098.5h1M510 1098.5h1M515 1098.5h1M509 1099.5h1M499 1100.5h1M510 1100.5h1M506 1101.5h1M509 1101.5h1M472 1102.5h1M504 1102.5h1M506 1102.5h1M509 1103.5h1M497 1104.5h1M506 1104.5h1M510 1104.5h1M496 1106.5h1M505 1106.5h1M514 1106.5h1M526 1106.5h1M538 1106.5h1M501 1107.5h1M494 1110.5h1M489 1111.5h1M488 1113.5h1M516 1114.5h1M535 1116.5h1M534 1125.5h1M558 1132.5h1M507 1133.5h1" stroke="#0000ff" stroke-width="1.4" fill="none"/>
<g fill="none" stroke="#000">
<rect x="368.6" y="947.8" width="233.4" height="214.8" stroke-width="1.4"/>
<rect x="374.9" y="951.7" width="221.9" height="188.4" stroke-width="1.4"/>
<path d="M375.4 1140.1 L378.1 1139.7 L380.7 1139.2 L383.3 1138.7 L385.9 1138.1 L388.4 1137.5 L390.9 1136.7 L393.4 1136.0 L395.8 1135.1 L398.2 1134.2 L400.6 1133.2 L402.9 1132.2 L405.2 1131.1 L407.5 1129.9 L409.8 1128.6 L412.0 1127.3 L414.2 1126.0 L416.4 1124.5 L418.5 1123.0 L420.6 1121.5 L422.7 1119.8 L424.8 1118.1 L426.9 1116.4 L428.9 1114.5 L430.9 1112.6 L596.8 953.2" stroke-width="1.1"/>
<path d="M368.2 1162.6V1172.6M380.7 1162.6V1172.6M423.9 1162.6V1172.6M475.2 1162.6V1172.6M527.6 1162.6V1172.6M580.4 1162.6V1172.6M393.7 1162.6V1168.6M401.3 1162.6V1168.6M406.7 1162.6V1168.6M410.9 1162.6V1168.6M414.3 1162.6V1168.6M417.2 1162.6V1168.6M419.7 1162.6V1168.6M421.9 1162.6V1168.6M439.3 1162.6V1168.6M448.4 1162.6V1168.6M454.8 1162.6V1168.6M459.7 1162.6V1168.6M463.8 1162.6V1168.6M467.2 1162.6V1168.6M470.2 1162.6V1168.6M472.8 1162.6V1168.6M491.0 1162.6V1168.6M500.2 1162.6V1168.6M506.8 1162.6V1168.6M511.8 1162.6V1168.6M516.0 1162.6V1168.6M519.5 1162.6V1168.6M522.5 1162.6V1168.6M525.2 1162.6V1168.6M543.5 1162.6V1168.6M552.8 1162.6V1168.6M559.4 1162.6V1168.6M564.5 1162.6V1168.6M568.7 1162.6V1168.6M572.3 1162.6V1168.6M575.3 1162.6V1168.6M578.0 1162.6V1168.6M596.3 1162.6V1168.6M601.5 1162.6V1168.6M359.6 967.6H368.6M359.6 1015.6H368.6M359.6 1064.6H368.6M359.6 1115.5H368.6M359.6 1140.5H368.6M359.6 1162.6H368.6M364.1 953.2H368.6M359.6 952.3H368.6M364.1 1001.2H368.6M364.1 992.7H368.6M364.1 986.7H368.6M364.1 982.1H368.6M364.1 978.3H368.6M364.1 975.1H368.6M364.1 972.3H368.6M364.1 969.8H368.6M364.1 1049.9H368.6M364.1 1041.3H368.6M364.1 1035.1H368.6M364.1 1030.4H368.6M364.1 1026.5H368.6M364.1 1023.2H368.6M364.1 1020.4H368.6M364.1 1017.9H368.6M364.1 1100.2H368.6M364.1 1091.2H368.6M364.1 1084.9H368.6M364.1 1080.0H368.6M364.1 1075.9H368.6M364.1 1072.5H368.6M364.1 1069.6H368.6M364.1 1067.0H368.6M364.1 1118.5H368.6M364.1 1121.5H368.6M364.1 1124.5H368.6M364.1 1127.5H368.6M364.1 1130.5H368.6M364.1 1133.5H368.6M364.1 1136.5H368.6M364.1 1139.5H368.6M364.1 1142.5H368.6M364.1 1145.5H368.6M364.1 1148.5H368.6M364.1 1151.5H368.6M364.1 1154.5H368.6M364.1 1157.5H368.6M364.1 1160.5H368.6M359.6 1162.6H368.6" stroke-width="1.1"/>
</g>
<g font-family="Liberation Sans, Arial, sans-serif"><text x="366.2" y="1190.6" text-anchor="middle" font-size="10.5">0</text><text x="377.2" y="1185.1" text-anchor="middle" font-size="10.5" textLength="9" lengthAdjust="spacingAndGlyphs">10</text><text x="383.7" y="1178.1" font-size="8.5">1</text><text x="420.4" y="1185.1" text-anchor="middle" font-size="10.5" textLength="9" lengthAdjust="spacingAndGlyphs">10</text><text x="426.9" y="1178.1" font-size="8.5">2</text><text x="471.7" y="1185.1" text-anchor="middle" font-size="10.5" textLength="9" lengthAdjust="spacingAndGlyphs">10</text><text x="478.2" y="1178.1" font-size="8.5">3</text><text x="524.1" y="1185.1" text-anchor="middle" font-size="10.5" textLength="9" lengthAdjust="spacingAndGlyphs">10</text><text x="530.6" y="1178.1" font-size="8.5">4</text><text x="576.9" y="1185.1" text-anchor="middle" font-size="10.5" textLength="9" lengthAdjust="spacingAndGlyphs">10</text><text x="583.4" y="1178.1" font-size="8.5">5</text><text transform="translate(357.8 974.2) rotate(-90)" font-size="10.5" textLength="9" lengthAdjust="spacingAndGlyphs">10</text><text transform="translate(351.2 964.6) rotate(-90)" font-size="10">5</text><text transform="translate(357.8 1022.2) rotate(-90)" font-size="10.5" textLength="9" lengthAdjust="spacingAndGlyphs">10</text><text transform="translate(351.2 1012.6) rotate(-90)" font-size="10">4</text><text transform="translate(357.8 1071.2) rotate(-90)" font-size="10.5" textLength="9" lengthAdjust="spacingAndGlyphs">10</text><text transform="translate(351.2 1061.6) rotate(-90)" font-size="10">3</text><text transform="translate(357.8 1122.1) rotate(-90)" font-size="10.5" textLength="9" lengthAdjust="spacingAndGlyphs">10</text><text transform="translate(351.2 1112.5) rotate(-90)" font-size="10">2</text><text transform="translate(358.3 1140.5) rotate(-90)" text-anchor="middle" font-size="10.5">0</text><text transform="translate(348.1 1162.6) rotate(-90)" text-anchor="middle" font-size="10.5">-85</text><text x="484.8" y="1201.6" text-anchor="middle" font-size="13">FITC-A</text><text transform="translate(340.3 1054.1) rotate(-90)" text-anchor="middle" font-size="13">PE-A</text><text x="436.1" y="1001.8" font-size="15.4" fill="#111">P6</text><text x="541.2" y="1105.5" font-size="15.4" fill="#111">P7</text><text x="391.8" y="1033.5" font-size="17" font-weight="bold" fill="#00b050" textLength="42.6" lengthAdjust="spacingAndGlyphs">76.1%</text><text x="541.1" y="1083.8" font-size="17" font-weight="bold" fill="#3300e0" textLength="43.6" lengthAdjust="spacingAndGlyphs">23.9%</text></g>
<text x="657.6" y="934.0" font-family="Liberation Sans, Arial, sans-serif" font-weight="bold" font-size="16.5" textLength="233.3" lengthAdjust="spacingAndGlyphs">1.0 µg/mL L-asparaginase (48 h)</text>
<clipPath id="c6c"><polygon points="666.3,1159.7 666.3,951.3 888.1,951.3 888.1,952.8 667.1,1158.9"/></clipPath>
<clipPath id="c7c"><polygon points="666.3,1159.7 667.1,1158.9 888.1,952.8 888.1,951.3 888.1,1159.7"/></clipPath>
<path d="M861 966.5h1M864 967.5h1M736 969.5h1M845 969.5h1M848 969.5h1M856 970.5h1M803 972.5h1M831 973.5h1M841 974.5h1M849 974.5h1M847 975.5h1M848 976.5h1M845 977.5h1M847 977.5h1M816 978.5h1M831 978.5h1M824 979.5h1M837 979.5h1M844 979.5h1M848 979.5h1M840 980.5h2M696 981.5h1M830 982.5h1M833 982.5h1M837 982.5h1M841 982.5h1M844 982.5h1M849 982.5h1M852 982.5h1M826 983.5h1M826 984.5h1M835 984.5h4M843 984.5h1M848 984.5h1M850 984.5h1M820 985.5h1M836 985.5h1M839 985.5h2M831 986.5h1M836 986.5h1M838 986.5h1M842 986.5h1M847 986.5h1M825 987.5h1M832 987.5h3M843 987.5h1M849 987.5h1M818 988.5h1M821 988.5h2M826 988.5h2M834 988.5h2M846 988.5h2M737 989.5h1M819 989.5h2M823 989.5h2M829 989.5h1M831 989.5h1M833 989.5h1M838 989.5h1M840 989.5h1M842 989.5h1M846 989.5h1M780 990.5h1M820 990.5h1M828 990.5h2M836 990.5h3M840 990.5h1M810 991.5h1M816 991.5h1M822 991.5h1M826 991.5h1M828 991.5h2M835 991.5h3M842 991.5h1M845 991.5h1M776 992.5h1M794 992.5h1M822 992.5h1M825 992.5h2M834 992.5h1M836 992.5h3M726 993.5h1M783 993.5h1M819 993.5h2M822 993.5h2M826 993.5h1M828 993.5h5M835 993.5h2M838 993.5h2M842 993.5h1M781 994.5h1M787 994.5h2M797 994.5h1M800 994.5h1M818 994.5h3M822 994.5h2M825 994.5h2M828 994.5h1M830 994.5h1M834 994.5h1M776 995.5h1M788 995.5h1M814 995.5h2M818 995.5h1M824 995.5h1M828 995.5h1M830 995.5h1M835 995.5h1M839 995.5h1M777 996.5h1M782 996.5h2M817 996.5h1M819 996.5h2M822 996.5h2M826 996.5h2M831 996.5h1M835 996.5h2M839 996.5h1M771 997.5h1M776 997.5h1M780 997.5h1M782 997.5h1M784 997.5h1M794 997.5h1M796 997.5h1M806 997.5h1M822 997.5h1M826 997.5h2M829 997.5h2M832 997.5h1M836 997.5h1M838 997.5h1M766 998.5h1M774 998.5h1M780 998.5h1M782 998.5h1M785 998.5h1M791 998.5h1M801 998.5h1M813 998.5h2M817 998.5h3M821 998.5h2M824 998.5h3M828 998.5h3M832 998.5h3M741 999.5h1M744 999.5h1M753 999.5h1M781 999.5h1M784 999.5h1M787 999.5h1M789 999.5h1M800 999.5h1M811 999.5h1M813 999.5h1M819 999.5h1M822 999.5h2M825 999.5h5M834 999.5h1M836 999.5h1M772 1000.5h2M779 1000.5h2M784 1000.5h1M786 1000.5h1M788 1000.5h1M790 1000.5h3M796 1000.5h1M802 1000.5h1M814 1000.5h1M816 1000.5h1M818 1000.5h3M822 1000.5h1M824 1000.5h1M826 1000.5h1M828 1000.5h2M723 1001.5h1M772 1001.5h2M776 1001.5h1M778 1001.5h2M781 1001.5h1M791 1001.5h1M795 1001.5h2M812 1001.5h2M815 1001.5h1M817 1001.5h1M821 1001.5h1M824 1001.5h2M827 1001.5h4M832 1001.5h1M769 1002.5h1M777 1002.5h1M779 1002.5h3M783 1002.5h2M787 1002.5h1M789 1002.5h3M795 1002.5h1M800 1002.5h2M812 1002.5h1M814 1002.5h1M818 1002.5h1M820 1002.5h1M823 1002.5h1M829 1002.5h1M832 1002.5h2M759 1003.5h1M772 1003.5h1M776 1003.5h1M779 1003.5h1M783 1003.5h1M785 1003.5h1M787 1003.5h4M795 1003.5h1M799 1003.5h1M811 1003.5h1M815 1003.5h4M820 1003.5h2M826 1003.5h2M829 1003.5h1M831 1003.5h1M761 1004.5h1M774 1004.5h2M778 1004.5h4M783 1004.5h3M788 1004.5h3M793 1004.5h2M806 1004.5h2M810 1004.5h4M817 1004.5h4M824 1004.5h4M831 1004.5h1M774 1005.5h1M776 1005.5h2M779 1005.5h2M782 1005.5h2M785 1005.5h6M792 1005.5h1M795 1005.5h2M800 1005.5h1M802 1005.5h1M807 1005.5h1M810 1005.5h2M815 1005.5h2M819 1005.5h1M821 1005.5h3M825 1005.5h1M760 1006.5h1M763 1006.5h1M768 1006.5h2M771 1006.5h2M775 1006.5h9M785 1006.5h5M791 1006.5h1M804 1006.5h1M808 1006.5h1M810 1006.5h1M812 1006.5h1M814 1006.5h1M816 1006.5h1M818 1006.5h1M823 1006.5h1M712 1007.5h1M771 1007.5h2M774 1007.5h1M776 1007.5h3M781 1007.5h10M792 1007.5h1M795 1007.5h1M798 1007.5h1M803 1007.5h1M805 1007.5h1M808 1007.5h1M812 1007.5h2M815 1007.5h2M821 1007.5h3M827 1007.5h1M766 1008.5h1M768 1008.5h1M771 1008.5h4M776 1008.5h11M789 1008.5h4M794 1008.5h1M797 1008.5h1M805 1008.5h1M810 1008.5h2M813 1008.5h2M817 1008.5h5M824 1008.5h2M761 1009.5h3M767 1009.5h1M769 1009.5h1M771 1009.5h1M773 1009.5h18M792 1009.5h1M794 1009.5h1M798 1009.5h1M800 1009.5h2M807 1009.5h1M812 1009.5h3M816 1009.5h1M818 1009.5h1M821 1009.5h1M824 1009.5h1M765 1010.5h1M767 1010.5h1M769 1010.5h21M791 1010.5h1M793 1010.5h1M795 1010.5h1M797 1010.5h3M805 1010.5h4M812 1010.5h4M820 1010.5h1M824 1010.5h1M685 1011.5h1M762 1011.5h1M764 1011.5h1M766 1011.5h2M769 1011.5h3M773 1011.5h17M791 1011.5h2M799 1011.5h1M801 1011.5h1M804 1011.5h1M807 1011.5h1M813 1011.5h1M817 1011.5h3M822 1011.5h2M762 1012.5h1M764 1012.5h1M766 1012.5h2M769 1012.5h20M790 1012.5h2M793 1012.5h2M796 1012.5h4M802 1012.5h3M806 1012.5h2M809 1012.5h1M811 1012.5h2M814 1012.5h3M818 1012.5h1M820 1012.5h2M763 1013.5h1M765 1013.5h2M768 1013.5h23M796 1013.5h1M798 1013.5h1M801 1013.5h1M807 1013.5h1M809 1013.5h3M815 1013.5h1M820 1013.5h2M756 1014.5h1M759 1014.5h2M766 1014.5h22M790 1014.5h4M796 1014.5h2M801 1014.5h1M804 1014.5h1M806 1014.5h1M809 1014.5h2M814 1014.5h1M817 1014.5h1M755 1015.5h1M760 1015.5h3M764 1015.5h1M766 1015.5h28M795 1015.5h3M799 1015.5h1M803 1015.5h1M808 1015.5h1M812 1015.5h1M814 1015.5h1M816 1015.5h1M759 1016.5h1M762 1016.5h1M764 1016.5h28M797 1016.5h1M800 1016.5h1M803 1016.5h1M805 1016.5h2M809 1016.5h1M814 1016.5h4M750 1017.5h1M753 1017.5h1M755 1017.5h1M757 1017.5h2M760 1017.5h2M764 1017.5h27M792 1017.5h2M795 1017.5h1M797 1017.5h2M803 1017.5h2M807 1017.5h1M812 1017.5h1M814 1017.5h1M760 1018.5h1M762 1018.5h1M764 1018.5h27M797 1018.5h1M804 1018.5h1M806 1018.5h1M814 1018.5h2M755 1019.5h1M759 1019.5h31M794 1019.5h1M800 1019.5h2M806 1019.5h1M809 1019.5h1M812 1019.5h1M815 1019.5h1M751 1020.5h1M755 1020.5h1M760 1020.5h1M762 1020.5h28M794 1020.5h1M800 1020.5h2M804 1020.5h1M810 1020.5h1M757 1021.5h4M762 1021.5h27M790 1021.5h2M793 1021.5h2M805 1021.5h2M812 1021.5h1M743 1022.5h1M762 1022.5h26M789 1022.5h3M804 1022.5h1M807 1022.5h2M810 1022.5h1M721 1023.5h1M756 1023.5h1M759 1023.5h30M791 1023.5h1M793 1023.5h1M795 1023.5h1M799 1023.5h1M809 1023.5h1M756 1024.5h1M759 1024.5h1M761 1024.5h1M764 1024.5h23M790 1024.5h1M792 1024.5h1M796 1024.5h1M798 1024.5h1M810 1024.5h1M754 1025.5h3M758 1025.5h2M761 1025.5h22M784 1025.5h1M788 1025.5h3M756 1026.5h1M761 1026.5h23M785 1026.5h2M792 1026.5h1M799 1026.5h1M802 1026.5h1M747 1027.5h1M753 1027.5h3M757 1027.5h1M759 1027.5h22M782 1027.5h2M786 1027.5h1M801 1027.5h1M803 1027.5h1M746 1028.5h1M750 1028.5h1M752 1028.5h1M756 1028.5h4M762 1028.5h20M785 1028.5h2M792 1028.5h1M753 1029.5h1M758 1029.5h1M760 1029.5h1M762 1029.5h23M790 1029.5h1M792 1029.5h1M800 1029.5h1M802 1029.5h1M750 1030.5h1M752 1030.5h1M758 1030.5h1M760 1030.5h18M779 1030.5h3M784 1030.5h1M786 1030.5h1M788 1030.5h1M794 1030.5h4M706 1031.5h1M752 1031.5h1M756 1031.5h1M758 1031.5h4M763 1031.5h17M782 1031.5h4M787 1031.5h2M795 1031.5h1M800 1031.5h1M751 1032.5h3M755 1032.5h4M761 1032.5h1M763 1032.5h13M777 1032.5h4M784 1032.5h1M799 1032.5h1M750 1033.5h1M752 1033.5h1M754 1033.5h1M758 1033.5h1M761 1033.5h9M771 1033.5h6M778 1033.5h2M782 1033.5h1M758 1034.5h1M760 1034.5h1M762 1034.5h10M773 1034.5h2M776 1034.5h1M778 1034.5h2M781 1034.5h1M783 1034.5h1M785 1034.5h1M788 1034.5h1M790 1034.5h1M747 1035.5h1M753 1035.5h1M756 1035.5h1M758 1035.5h2M761 1035.5h2M764 1035.5h2M768 1035.5h2M771 1035.5h6M780 1035.5h2M754 1036.5h1M759 1036.5h1M761 1036.5h3M765 1036.5h1M767 1036.5h1M769 1036.5h2M779 1036.5h2M794 1036.5h1M761 1037.5h1M766 1037.5h7M775 1037.5h1M780 1037.5h1M743 1038.5h1M749 1038.5h1M752 1038.5h1M754 1038.5h2M758 1038.5h2M763 1038.5h4M770 1038.5h1M772 1038.5h1M774 1038.5h1M747 1039.5h1M757 1039.5h1M759 1039.5h1M763 1039.5h1M766 1039.5h1M770 1039.5h1M773 1039.5h1M757 1040.5h1M763 1040.5h3M767 1040.5h1M773 1040.5h2M776 1040.5h2M780 1040.5h1M755 1041.5h2M760 1041.5h1M772 1041.5h3M778 1041.5h1M761 1042.5h1M763 1042.5h1M770 1042.5h1M777 1042.5h1M780 1042.5h1M786 1042.5h1M789 1042.5h1M686 1043.5h1M731 1043.5h1M743 1043.5h1M752 1043.5h1M759 1043.5h1M761 1043.5h1M771 1043.5h1M776 1043.5h1M752 1045.5h1M754 1045.5h3M766 1045.5h1M758 1046.5h2M764 1049.5h1M767 1049.5h1M755 1050.5h1M740 1051.5h1M773 1052.5h1M767 1055.5h1M708 1064.5h1M757 1070.5h1" stroke="#00ff00" stroke-width="1.4" fill="none"/>
<path d="M847 995.5h1M862 1007.5h1M841 1012.5h1M843 1014.5h1M852 1014.5h1M858 1014.5h1M833 1015.5h1M857 1015.5h1M831 1016.5h1M843 1016.5h1M832 1017.5h1M839 1017.5h2M843 1017.5h1M840 1018.5h1M845 1018.5h1M828 1019.5h2M831 1019.5h1M836 1019.5h1M839 1019.5h1M841 1019.5h1M830 1020.5h1M840 1020.5h1M842 1020.5h1M844 1020.5h1M829 1021.5h2M836 1021.5h2M842 1021.5h1M844 1021.5h1M848 1021.5h1M822 1022.5h1M828 1022.5h1M830 1022.5h1M836 1022.5h2M839 1022.5h2M842 1022.5h3M847 1022.5h1M851 1022.5h1M854 1022.5h1M823 1023.5h1M825 1023.5h1M829 1023.5h1M832 1023.5h1M834 1023.5h1M836 1023.5h1M838 1023.5h3M842 1023.5h1M825 1024.5h2M828 1024.5h1M830 1024.5h4M835 1024.5h2M838 1024.5h2M841 1024.5h2M845 1024.5h1M848 1024.5h1M825 1025.5h2M831 1025.5h1M834 1025.5h1M836 1025.5h2M839 1025.5h1M841 1025.5h1M843 1025.5h1M845 1025.5h1M820 1026.5h1M824 1026.5h3M828 1026.5h1M830 1026.5h2M833 1026.5h8M842 1026.5h1M846 1026.5h1M820 1027.5h1M823 1027.5h1M825 1027.5h1M827 1027.5h11M841 1027.5h1M812 1028.5h1M823 1028.5h1M826 1028.5h1M828 1028.5h10M841 1028.5h1M843 1028.5h2M848 1028.5h1M819 1029.5h1M822 1029.5h1M826 1029.5h1M828 1029.5h8M837 1029.5h1M843 1029.5h1M814 1030.5h1M818 1030.5h1M821 1030.5h5M827 1030.5h10M838 1030.5h1M847 1030.5h2M814 1031.5h2M818 1031.5h1M822 1031.5h13M838 1031.5h2M843 1031.5h1M819 1032.5h4M824 1032.5h10M836 1032.5h1M838 1032.5h2M842 1032.5h1M812 1033.5h1M817 1033.5h2M820 1033.5h15M840 1033.5h1M813 1034.5h1M816 1034.5h1M818 1034.5h19M841 1034.5h2M812 1035.5h1M816 1035.5h1M818 1035.5h17M839 1035.5h2M811 1036.5h3M816 1036.5h19M837 1036.5h2M840 1036.5h1M811 1037.5h1M814 1037.5h2M817 1037.5h18M837 1037.5h1M802 1038.5h1M815 1038.5h14M830 1038.5h1M832 1038.5h2M835 1038.5h2M839 1038.5h1M857 1038.5h1M808 1039.5h1M810 1039.5h1M813 1039.5h15M829 1039.5h1M831 1039.5h3M836 1039.5h1M847 1039.5h1M806 1040.5h1M810 1040.5h17M828 1040.5h3M832 1040.5h3M836 1040.5h1M839 1040.5h1M802 1041.5h1M806 1041.5h1M808 1041.5h2M811 1041.5h15M827 1041.5h2M830 1041.5h1M832 1041.5h1M834 1041.5h1M838 1041.5h1M840 1041.5h1M806 1042.5h2M809 1042.5h20M831 1042.5h5M806 1043.5h17M824 1043.5h3M828 1043.5h1M830 1043.5h1M807 1044.5h1M809 1044.5h16M826 1044.5h3M835 1044.5h1M838 1044.5h1M802 1045.5h2M806 1045.5h19M826 1045.5h1M829 1045.5h2M833 1045.5h1M837 1045.5h1M862 1045.5h1M801 1046.5h1M807 1046.5h15M823 1046.5h1M825 1046.5h2M828 1046.5h1M830 1046.5h2M840 1046.5h1M845 1046.5h1M795 1047.5h1M802 1047.5h4M807 1047.5h16M824 1047.5h2M828 1047.5h1M832 1047.5h1M837 1047.5h1M841 1047.5h2M846 1047.5h1M794 1048.5h1M799 1048.5h1M801 1048.5h1M804 1048.5h22M827 1048.5h1M829 1048.5h1M836 1048.5h1M799 1049.5h1M801 1049.5h1M803 1049.5h1M805 1049.5h15M821 1049.5h3M825 1049.5h1M827 1049.5h1M838 1049.5h1M798 1050.5h1M801 1050.5h20M824 1050.5h2M827 1050.5h1M829 1050.5h1M831 1050.5h1M836 1050.5h1M847 1050.5h1M791 1051.5h1M797 1051.5h2M800 1051.5h1M802 1051.5h13M816 1051.5h9M829 1051.5h1M834 1051.5h1M840 1051.5h1M801 1052.5h1M803 1052.5h11M815 1052.5h3M819 1052.5h1M821 1052.5h1M825 1052.5h2M831 1052.5h1M785 1053.5h1M789 1053.5h1M798 1053.5h2M803 1053.5h15M819 1053.5h4M832 1053.5h1M838 1053.5h1M840 1053.5h1M792 1054.5h2M798 1054.5h2M801 1054.5h13M815 1054.5h4M820 1054.5h1M837 1054.5h4M842 1054.5h2M787 1055.5h1M792 1055.5h2M796 1055.5h1M799 1055.5h2M803 1055.5h4M808 1055.5h1M810 1055.5h4M815 1055.5h2M818 1055.5h1M822 1055.5h2M829 1055.5h1M832 1055.5h3M836 1055.5h1M847 1055.5h1M797 1056.5h8M806 1056.5h9M816 1056.5h3M821 1056.5h1M823 1056.5h2M840 1056.5h1M792 1057.5h1M797 1057.5h8M806 1057.5h2M809 1057.5h1M811 1057.5h2M819 1057.5h2M824 1057.5h2M830 1057.5h1M832 1057.5h3M837 1057.5h1M841 1057.5h1M792 1058.5h1M798 1058.5h1M801 1058.5h1M803 1058.5h2M806 1058.5h3M810 1058.5h1M814 1058.5h1M817 1058.5h1M819 1058.5h1M822 1058.5h1M825 1058.5h2M828 1058.5h1M832 1058.5h1M836 1058.5h1M785 1059.5h1M791 1059.5h1M793 1059.5h1M798 1059.5h1M800 1059.5h2M803 1059.5h3M809 1059.5h1M812 1059.5h1M814 1059.5h2M830 1059.5h1M833 1059.5h1M835 1059.5h1M837 1059.5h1M840 1059.5h1M782 1060.5h1M788 1060.5h1M795 1060.5h3M799 1060.5h3M805 1060.5h3M809 1060.5h2M812 1060.5h3M817 1060.5h2M829 1060.5h1M834 1060.5h1M836 1060.5h3M794 1061.5h6M801 1061.5h1M803 1061.5h1M806 1061.5h5M812 1061.5h1M816 1061.5h2M822 1061.5h1M825 1061.5h6M832 1061.5h1M834 1061.5h1M839 1061.5h3M790 1062.5h1M794 1062.5h1M798 1062.5h1M800 1062.5h2M805 1062.5h1M810 1062.5h1M819 1062.5h2M822 1062.5h2M826 1062.5h1M828 1062.5h1M830 1062.5h3M834 1062.5h2M788 1063.5h2M793 1063.5h1M795 1063.5h2M800 1063.5h2M805 1063.5h1M807 1063.5h1M810 1063.5h2M814 1063.5h4M819 1063.5h2M822 1063.5h4M827 1063.5h2M830 1063.5h1M832 1063.5h3M836 1063.5h1M772 1064.5h1M788 1064.5h1M790 1064.5h1M794 1064.5h1M797 1064.5h4M806 1064.5h4M813 1064.5h1M821 1064.5h1M824 1064.5h1M826 1064.5h1M828 1064.5h1M831 1064.5h1M833 1064.5h2M836 1064.5h1M838 1064.5h1M840 1064.5h1M778 1065.5h1M781 1065.5h1M787 1065.5h1M790 1065.5h1M797 1065.5h5M803 1065.5h2M808 1065.5h1M815 1065.5h1M817 1065.5h1M819 1065.5h1M822 1065.5h1M824 1065.5h8M833 1065.5h2M847 1065.5h1M787 1066.5h2M791 1066.5h1M793 1066.5h1M796 1066.5h3M800 1066.5h1M803 1066.5h1M805 1066.5h1M807 1066.5h1M811 1066.5h1M813 1066.5h1M815 1066.5h2M819 1066.5h4M825 1066.5h7M836 1066.5h2M785 1067.5h1M793 1067.5h1M795 1067.5h1M798 1067.5h1M800 1067.5h1M804 1067.5h1M807 1067.5h1M813 1067.5h1M820 1067.5h1M822 1067.5h1M824 1067.5h7M783 1068.5h1M789 1068.5h1M797 1068.5h2M800 1068.5h1M803 1068.5h1M806 1068.5h1M811 1068.5h1M813 1068.5h1M815 1068.5h1M817 1068.5h2M820 1068.5h3M824 1068.5h3M828 1068.5h2M776 1069.5h1M780 1069.5h1M786 1069.5h1M799 1069.5h2M806 1069.5h3M813 1069.5h1M816 1069.5h2M819 1069.5h3M823 1069.5h7M831 1069.5h1M835 1069.5h1M796 1070.5h1M800 1070.5h1M802 1070.5h2M807 1070.5h1M810 1070.5h1M816 1070.5h1M818 1070.5h1M820 1070.5h8M868 1070.5h1M788 1071.5h1M794 1071.5h1M797 1071.5h1M805 1071.5h1M810 1071.5h2M813 1071.5h1M815 1071.5h2M819 1071.5h4M824 1071.5h3M828 1071.5h2M780 1072.5h1M786 1072.5h1M790 1072.5h1M793 1072.5h2M799 1072.5h2M805 1072.5h1M810 1072.5h2M813 1072.5h4M818 1072.5h8M827 1072.5h1M760 1073.5h1M782 1073.5h2M795 1073.5h2M804 1073.5h2M809 1073.5h1M812 1073.5h15M828 1073.5h1M789 1074.5h1M799 1074.5h2M809 1074.5h2M813 1074.5h3M817 1074.5h6M824 1074.5h1M826 1074.5h3M833 1074.5h1M793 1075.5h1M802 1075.5h1M805 1075.5h1M808 1075.5h1M815 1075.5h8M824 1075.5h1M826 1075.5h3M843 1075.5h1M777 1076.5h1M784 1076.5h1M790 1076.5h1M795 1076.5h1M801 1076.5h1M805 1076.5h1M809 1076.5h1M811 1076.5h2M814 1076.5h11M826 1076.5h1M832 1076.5h1M782 1077.5h1M786 1077.5h1M788 1077.5h2M792 1077.5h1M795 1077.5h1M798 1077.5h1M800 1077.5h1M805 1077.5h3M809 1077.5h2M813 1077.5h2M816 1077.5h4M821 1077.5h1M823 1077.5h1M827 1077.5h2M784 1078.5h1M789 1078.5h3M793 1078.5h1M799 1078.5h1M802 1078.5h2M808 1078.5h1M810 1078.5h6M817 1078.5h9M779 1079.5h1M785 1079.5h1M787 1079.5h1M789 1079.5h1M793 1079.5h1M796 1079.5h1M802 1079.5h2M805 1079.5h1M807 1079.5h3M812 1079.5h7M820 1079.5h3M824 1079.5h1M827 1079.5h2M785 1080.5h1M790 1080.5h3M806 1080.5h6M813 1080.5h2M816 1080.5h5M781 1081.5h2M787 1081.5h1M796 1081.5h1M800 1081.5h1M805 1081.5h1M807 1081.5h8M817 1081.5h5M784 1082.5h1M791 1082.5h1M796 1082.5h1M802 1082.5h1M805 1082.5h4M810 1082.5h10M761 1083.5h1M772 1083.5h1M782 1083.5h2M789 1083.5h1M791 1083.5h1M793 1083.5h1M796 1083.5h1M798 1083.5h1M802 1083.5h2M806 1083.5h4M811 1083.5h4M816 1083.5h1M818 1083.5h3M823 1083.5h1M825 1083.5h1M787 1084.5h1M795 1084.5h2M798 1084.5h1M802 1084.5h15M821 1084.5h1M786 1085.5h1M789 1085.5h1M793 1085.5h1M800 1085.5h3M804 1085.5h1M806 1085.5h8M815 1085.5h2M818 1085.5h2M787 1086.5h1M795 1086.5h1M797 1086.5h1M801 1086.5h1M804 1086.5h4M809 1086.5h1M811 1086.5h2M814 1086.5h1M816 1086.5h2M832 1086.5h1M791 1087.5h1M797 1087.5h1M801 1087.5h9M811 1087.5h3M815 1087.5h1M818 1087.5h1M790 1088.5h1M800 1088.5h1M802 1088.5h1M806 1088.5h4M827 1088.5h1M784 1089.5h2M795 1089.5h3M799 1089.5h7M807 1089.5h1M809 1089.5h4M775 1090.5h1M794 1090.5h1M797 1090.5h1M800 1090.5h5M806 1090.5h1M809 1090.5h1M811 1090.5h1M814 1090.5h2M817 1090.5h1M792 1091.5h1M795 1091.5h1M799 1091.5h5M807 1091.5h1M809 1091.5h1M812 1091.5h2M783 1092.5h1M788 1092.5h1M797 1092.5h1M799 1092.5h1M801 1092.5h5M807 1092.5h1M811 1092.5h1M818 1092.5h1M796 1093.5h1M798 1093.5h3M803 1093.5h1M808 1093.5h1M797 1094.5h2M800 1094.5h2M803 1094.5h2M806 1094.5h2M837 1094.5h1M747 1095.5h1M780 1095.5h1M791 1095.5h1M794 1095.5h2M801 1095.5h1M803 1095.5h2M807 1095.5h1M782 1096.5h1M788 1096.5h1M794 1096.5h1M798 1096.5h4M803 1096.5h1M794 1097.5h1M798 1097.5h1M800 1097.5h1M784 1098.5h1M791 1098.5h1M797 1098.5h1M799 1098.5h1M801 1098.5h1M805 1098.5h1M752 1099.5h1M770 1099.5h1M794 1099.5h2M800 1099.5h1M806 1099.5h1M819 1099.5h1M783 1100.5h1M789 1100.5h1M764 1101.5h1M792 1101.5h2M795 1101.5h1M805 1101.5h1M775 1102.5h1M779 1102.5h1M784 1102.5h1M793 1102.5h1M802 1102.5h1M752 1103.5h1M790 1103.5h1M792 1104.5h1M795 1104.5h1M794 1105.5h1M812 1105.5h1M772 1106.5h1M834 1106.5h1M785 1108.5h1M792 1108.5h1M834 1108.5h1M792 1109.5h1M794 1109.5h1M787 1110.5h1M797 1110.5h1M794 1111.5h1M823 1116.5h1" stroke="#0000ff" stroke-width="1.4" fill="none"/>
<g fill="none" stroke="#000">
<rect x="659.5" y="947.4" width="234.3" height="215.1" stroke-width="1.4"/>
<rect x="666.3" y="951.3" width="221.8" height="208.4" stroke-width="1.4"/>
<path d="M667.1 1158.9 L888.1 952.8" stroke-width="1.1"/>
<path d="M659.5 1162.5V1172.5M672.0 1162.5V1172.5M715.2 1162.5V1172.5M767.1 1162.5V1172.5M818.9 1162.5V1172.5M871.2 1162.5V1172.5M685.0 1162.5V1168.5M692.6 1162.5V1168.5M698.0 1162.5V1168.5M702.2 1162.5V1168.5M705.6 1162.5V1168.5M708.5 1162.5V1168.5M711.0 1162.5V1168.5M713.3 1162.5V1168.5M730.8 1162.5V1168.5M740.0 1162.5V1168.5M746.4 1162.5V1168.5M751.5 1162.5V1168.5M755.6 1162.5V1168.5M759.1 1162.5V1168.5M762.1 1162.5V1168.5M764.7 1162.5V1168.5M782.7 1162.5V1168.5M791.8 1162.5V1168.5M798.3 1162.5V1168.5M803.3 1162.5V1168.5M807.4 1162.5V1168.5M810.9 1162.5V1168.5M813.9 1162.5V1168.5M816.6 1162.5V1168.5M834.7 1162.5V1168.5M843.9 1162.5V1168.5M850.4 1162.5V1168.5M855.4 1162.5V1168.5M859.6 1162.5V1168.5M863.1 1162.5V1168.5M866.1 1162.5V1168.5M868.8 1162.5V1168.5M886.9 1162.5V1168.5M893.3 1162.5V1168.5M650.5 967.6H659.5M650.5 1015.6H659.5M650.5 1063.6H659.5M650.5 1110.3H659.5M650.5 1150.1H659.5M650.5 1162.5H659.5M655.0 953.2H659.5M650.5 951.9H659.5M655.0 1001.2H659.5M655.0 992.7H659.5M655.0 986.7H659.5M655.0 982.1H659.5M655.0 978.3H659.5M655.0 975.1H659.5M655.0 972.3H659.5M655.0 969.8H659.5M655.0 1049.2H659.5M655.0 1040.7H659.5M655.0 1034.7H659.5M655.0 1030.1H659.5M655.0 1026.3H659.5M655.0 1023.1H659.5M655.0 1020.3H659.5M655.0 1017.8H659.5M655.0 1096.3H659.5M655.0 1088.0H659.5M655.0 1082.2H659.5M655.0 1077.7H659.5M655.0 1074.0H659.5M655.0 1070.9H659.5M655.0 1068.2H659.5M655.0 1065.8H659.5M655.0 1138.1H659.5M655.0 1131.1H659.5M655.0 1126.1H659.5M655.0 1122.3H659.5M655.0 1119.1H659.5M655.0 1116.5H659.5M655.0 1114.2H659.5M655.0 1112.1H659.5M655.0 1153.1H659.5M655.0 1156.1H659.5M655.0 1159.1H659.5M650.5 1162.5H659.5" stroke-width="1.1"/>
</g>
<g font-family="Liberation Sans, Arial, sans-serif"><text x="657.5" y="1190.5" text-anchor="middle" font-size="10.5">0</text><text x="668.5" y="1185.0" text-anchor="middle" font-size="10.5" textLength="9" lengthAdjust="spacingAndGlyphs">10</text><text x="675.0" y="1178.0" font-size="8.5">1</text><text x="711.7" y="1185.0" text-anchor="middle" font-size="10.5" textLength="9" lengthAdjust="spacingAndGlyphs">10</text><text x="718.2" y="1178.0" font-size="8.5">2</text><text x="763.6" y="1185.0" text-anchor="middle" font-size="10.5" textLength="9" lengthAdjust="spacingAndGlyphs">10</text><text x="770.1" y="1178.0" font-size="8.5">3</text><text x="815.4" y="1185.0" text-anchor="middle" font-size="10.5" textLength="9" lengthAdjust="spacingAndGlyphs">10</text><text x="821.9" y="1178.0" font-size="8.5">4</text><text x="867.7" y="1185.0" text-anchor="middle" font-size="10.5" textLength="9" lengthAdjust="spacingAndGlyphs">10</text><text x="874.2" y="1178.0" font-size="8.5">5</text><text transform="translate(648.7 974.2) rotate(-90)" font-size="10.5" textLength="9" lengthAdjust="spacingAndGlyphs">10</text><text transform="translate(642.1 964.6) rotate(-90)" font-size="10">5</text><text transform="translate(648.7 1022.2) rotate(-90)" font-size="10.5" textLength="9" lengthAdjust="spacingAndGlyphs">10</text><text transform="translate(642.1 1012.6) rotate(-90)" font-size="10">4</text><text transform="translate(648.7 1070.2) rotate(-90)" font-size="10.5" textLength="9" lengthAdjust="spacingAndGlyphs">10</text><text transform="translate(642.1 1060.6) rotate(-90)" font-size="10">3</text><text transform="translate(648.7 1116.9) rotate(-90)" font-size="10.5" textLength="9" lengthAdjust="spacingAndGlyphs">10</text><text transform="translate(642.1 1107.3) rotate(-90)" font-size="10">2</text><text transform="translate(648.7 1156.7) rotate(-90)" font-size="10.5" textLength="9" lengthAdjust="spacingAndGlyphs">10</text><text transform="translate(642.1 1147.1) rotate(-90)" font-size="10">1</text><text transform="translate(639.0 1162.5) rotate(-90)" text-anchor="middle" font-size="10.5">0</text><text x="776.2" y="1201.5" text-anchor="middle" font-size="13">FITC-A</text><text transform="translate(630.7 1054.0) rotate(-90)" text-anchor="middle" font-size="13">PE-A</text><text x="728.0" y="1011.8" font-size="15.4" fill="#111">P6</text><text x="833.1" y="1115.5" font-size="15.4" fill="#111">P7</text><text x="680.7" y="1033.5" font-size="17" font-weight="bold" fill="#00b050" textLength="43.2" lengthAdjust="spacingAndGlyphs">71.3%</text><text x="835.8" y="1083.8" font-size="17" font-weight="bold" fill="#3300e0" textLength="43.6" lengthAdjust="spacingAndGlyphs">28.7%</text></g>
<text x="952.4" y="934.0" font-family="Liberation Sans, Arial, sans-serif" font-weight="bold" font-size="16.5" textLength="232.4" lengthAdjust="spacingAndGlyphs">1.5 µg/mL L-asparaginase (48 h)</text>
<clipPath id="c6d"><polygon points="958.2,1159.7 958.2,951.3 1180.0,951.3 1180.0,952.8 959.0,1158.9"/></clipPath>
<clipPath id="c7d"><polygon points="958.2,1159.7 959.0,1158.9 1180.0,952.8 1180.0,951.3 1180.0,1159.7"/></clipPath>
<path d="M1124 963.5h1M1120 967.5h1M1122 967.5h1M1136 967.5h1M1126 969.5h1M1132 969.5h1M1103 971.5h1M1141 971.5h1M1126 972.5h1M1123 973.5h1M1126 973.5h1M1109 974.5h1M1112 974.5h1M1132 974.5h1M1068 975.5h1M1089 975.5h1M1092 975.5h1M1096 975.5h1M1109 975.5h2M1123 975.5h1M1131 975.5h1M1134 975.5h1M1031 976.5h1M1051 976.5h1M1110 976.5h1M1118 976.5h1M1123 976.5h1M1103 977.5h1M1106 977.5h1M1115 977.5h1M1126 977.5h1M1129 977.5h1M1114 978.5h1M1119 978.5h1M1121 978.5h1M1134 978.5h1M1105 979.5h1M1108 979.5h1M1112 979.5h2M1117 979.5h2M1130 979.5h1M1080 980.5h1M1096 980.5h1M1104 980.5h1M1113 980.5h1M1116 980.5h1M1118 980.5h1M1123 980.5h1M1125 980.5h1M1134 980.5h1M1110 981.5h1M1115 981.5h4M1121 981.5h1M1132 981.5h1M1098 982.5h1M1112 982.5h1M1114 982.5h1M1119 982.5h1M1133 982.5h1M1107 983.5h1M1114 983.5h1M1116 983.5h2M1124 983.5h1M1126 983.5h2M1132 983.5h1M1139 983.5h1M1103 984.5h1M1116 984.5h3M1123 984.5h3M1075 985.5h1M1101 985.5h1M1106 985.5h4M1112 985.5h1M1117 985.5h1M1119 985.5h3M1123 985.5h2M1139 985.5h1M1076 986.5h1M1096 986.5h1M1101 986.5h2M1109 986.5h3M1114 986.5h1M1116 986.5h2M1119 986.5h1M1122 986.5h1M1126 986.5h2M1071 987.5h1M1073 987.5h1M1095 987.5h1M1099 987.5h1M1104 987.5h1M1109 987.5h1M1111 987.5h1M1116 987.5h3M1120 987.5h2M1123 987.5h1M1128 987.5h1M1132 987.5h1M1069 988.5h1M1071 988.5h1M1096 988.5h1M1100 988.5h1M1103 988.5h4M1112 988.5h1M1114 988.5h1M1116 988.5h1M1118 988.5h1M1121 988.5h1M1123 988.5h3M1127 988.5h1M1131 988.5h1M1133 988.5h1M1065 989.5h1M1083 989.5h1M1098 989.5h1M1100 989.5h1M1102 989.5h1M1106 989.5h2M1111 989.5h1M1114 989.5h2M1117 989.5h4M1124 989.5h1M1081 990.5h1M1089 990.5h1M1098 990.5h3M1103 990.5h1M1108 990.5h1M1110 990.5h1M1113 990.5h3M1117 990.5h2M1120 990.5h1M1124 990.5h1M1126 990.5h1M1135 990.5h1M1051 991.5h1M1067 991.5h1M1070 991.5h1M1083 991.5h1M1097 991.5h1M1100 991.5h1M1107 991.5h4M1112 991.5h1M1114 991.5h2M1117 991.5h1M1119 991.5h1M1122 991.5h2M1125 991.5h1M1130 991.5h1M1054 992.5h1M1074 992.5h1M1076 992.5h1M1081 992.5h1M1095 992.5h1M1097 992.5h1M1099 992.5h1M1107 992.5h1M1109 992.5h1M1111 992.5h2M1114 992.5h3M1118 992.5h2M1124 992.5h1M1133 992.5h1M1059 993.5h1M1062 993.5h1M1065 993.5h1M1069 993.5h1M1073 993.5h2M1076 993.5h3M1081 993.5h1M1088 993.5h1M1093 993.5h1M1105 993.5h1M1107 993.5h2M1110 993.5h1M1115 993.5h2M1119 993.5h3M1123 993.5h1M1127 993.5h2M1130 993.5h1M1132 993.5h1M1068 994.5h2M1076 994.5h1M1085 994.5h1M1097 994.5h2M1100 994.5h1M1102 994.5h4M1107 994.5h5M1114 994.5h3M1118 994.5h1M1125 994.5h1M1127 994.5h2M1067 995.5h1M1074 995.5h1M1084 995.5h1M1095 995.5h3M1099 995.5h3M1103 995.5h6M1112 995.5h3M1116 995.5h1M1118 995.5h3M1129 995.5h1M1046 996.5h1M1067 996.5h1M1069 996.5h1M1074 996.5h2M1078 996.5h1M1090 996.5h2M1095 996.5h2M1098 996.5h1M1102 996.5h1M1104 996.5h1M1106 996.5h1M1108 996.5h2M1111 996.5h1M1113 996.5h1M1115 996.5h1M1118 996.5h2M1121 996.5h1M1055 997.5h1M1059 997.5h1M1062 997.5h2M1068 997.5h1M1071 997.5h4M1078 997.5h2M1083 997.5h1M1092 997.5h1M1094 997.5h1M1096 997.5h6M1103 997.5h2M1107 997.5h2M1110 997.5h6M1117 997.5h1M1120 997.5h2M1126 997.5h1M1055 998.5h1M1061 998.5h3M1066 998.5h1M1074 998.5h1M1079 998.5h1M1086 998.5h2M1090 998.5h2M1096 998.5h1M1098 998.5h2M1102 998.5h1M1104 998.5h1M1106 998.5h3M1110 998.5h9M1120 998.5h2M1123 998.5h1M1128 998.5h1M1059 999.5h1M1064 999.5h1M1066 999.5h1M1069 999.5h1M1071 999.5h1M1081 999.5h1M1085 999.5h1M1088 999.5h1M1094 999.5h1M1096 999.5h1M1099 999.5h1M1101 999.5h3M1105 999.5h1M1107 999.5h1M1109 999.5h3M1113 999.5h2M1116 999.5h4M1121 999.5h1M1126 999.5h1M1043 1000.5h1M1057 1000.5h3M1061 1000.5h1M1063 1000.5h1M1068 1000.5h2M1072 1000.5h1M1074 1000.5h2M1077 1000.5h1M1080 1000.5h1M1083 1000.5h2M1089 1000.5h1M1094 1000.5h1M1097 1000.5h5M1103 1000.5h1M1106 1000.5h2M1109 1000.5h3M1114 1000.5h4M1120 1000.5h2M1123 1000.5h1M1126 1000.5h1M1128 1000.5h1M1049 1001.5h1M1052 1001.5h1M1060 1001.5h1M1063 1001.5h1M1065 1001.5h2M1068 1001.5h1M1071 1001.5h1M1073 1001.5h1M1075 1001.5h1M1078 1001.5h2M1086 1001.5h1M1092 1001.5h2M1096 1001.5h7M1104 1001.5h2M1107 1001.5h1M1110 1001.5h3M1114 1001.5h2M1117 1001.5h3M1123 1001.5h1M1125 1001.5h1M1062 1002.5h1M1065 1002.5h1M1068 1002.5h4M1073 1002.5h1M1077 1002.5h1M1079 1002.5h1M1082 1002.5h1M1085 1002.5h1M1089 1002.5h1M1092 1002.5h1M1095 1002.5h2M1098 1002.5h2M1101 1002.5h3M1106 1002.5h2M1109 1002.5h5M1115 1002.5h1M1118 1002.5h1M1035 1003.5h1M1047 1003.5h1M1059 1003.5h1M1062 1003.5h1M1064 1003.5h3M1068 1003.5h2M1071 1003.5h2M1074 1003.5h1M1077 1003.5h1M1079 1003.5h2M1091 1003.5h1M1094 1003.5h3M1098 1003.5h16M1116 1003.5h1M1118 1003.5h3M1052 1004.5h1M1055 1004.5h1M1059 1004.5h4M1066 1004.5h4M1071 1004.5h4M1076 1004.5h1M1078 1004.5h4M1085 1004.5h1M1089 1004.5h1M1092 1004.5h3M1096 1004.5h3M1102 1004.5h2M1106 1004.5h3M1110 1004.5h2M1114 1004.5h3M1118 1004.5h1M1121 1004.5h1M1057 1005.5h2M1061 1005.5h1M1063 1005.5h14M1081 1005.5h1M1086 1005.5h2M1090 1005.5h2M1095 1005.5h4M1103 1005.5h4M1109 1005.5h1M1112 1005.5h2M1115 1005.5h1M1117 1005.5h2M1121 1005.5h2M1051 1006.5h1M1055 1006.5h1M1060 1006.5h12M1073 1006.5h3M1077 1006.5h2M1080 1006.5h2M1084 1006.5h1M1088 1006.5h1M1093 1006.5h1M1096 1006.5h1M1098 1006.5h13M1113 1006.5h2M1117 1006.5h2M1049 1007.5h1M1052 1007.5h1M1056 1007.5h1M1060 1007.5h1M1062 1007.5h12M1075 1007.5h5M1085 1007.5h1M1092 1007.5h1M1094 1007.5h1M1096 1007.5h3M1100 1007.5h3M1104 1007.5h7M1112 1007.5h6M1050 1008.5h1M1056 1008.5h1M1058 1008.5h1M1060 1008.5h19M1081 1008.5h1M1083 1008.5h1M1086 1008.5h2M1095 1008.5h1M1100 1008.5h1M1102 1008.5h5M1108 1008.5h2M1111 1008.5h2M1115 1008.5h4M1048 1009.5h1M1054 1009.5h2M1059 1009.5h21M1081 1009.5h1M1084 1009.5h1M1087 1009.5h2M1092 1009.5h2M1095 1009.5h1M1097 1009.5h1M1099 1009.5h4M1104 1009.5h1M1106 1009.5h2M1110 1009.5h2M1114 1009.5h1M1117 1009.5h1M1030 1010.5h1M1050 1010.5h1M1053 1010.5h1M1056 1010.5h25M1083 1010.5h1M1085 1010.5h2M1088 1010.5h1M1095 1010.5h1M1100 1010.5h2M1103 1010.5h2M1107 1010.5h3M1111 1010.5h1M1047 1011.5h1M1049 1011.5h1M1053 1011.5h1M1055 1011.5h27M1083 1011.5h1M1085 1011.5h1M1095 1011.5h8M1106 1011.5h1M1108 1011.5h1M1113 1011.5h1M1115 1011.5h1M1047 1012.5h1M1053 1012.5h3M1057 1012.5h23M1081 1012.5h1M1084 1012.5h1M1089 1012.5h1M1092 1012.5h1M1096 1012.5h1M1104 1012.5h1M1107 1012.5h1M1110 1012.5h1M1112 1012.5h1M1114 1012.5h2M1049 1013.5h1M1056 1013.5h21M1078 1013.5h1M1080 1013.5h1M1082 1013.5h2M1086 1013.5h3M1091 1013.5h1M1094 1013.5h2M1098 1013.5h2M1101 1013.5h3M1105 1013.5h2M1111 1013.5h3M1041 1014.5h1M1051 1014.5h2M1055 1014.5h1M1057 1014.5h22M1080 1014.5h1M1082 1014.5h3M1089 1014.5h1M1091 1014.5h1M1096 1014.5h1M1098 1014.5h10M1026 1015.5h1M1049 1015.5h1M1055 1015.5h26M1086 1015.5h1M1093 1015.5h4M1100 1015.5h1M1102 1015.5h1M1106 1015.5h3M1043 1016.5h1M1049 1016.5h1M1053 1016.5h30M1088 1016.5h2M1091 1016.5h1M1093 1016.5h1M1096 1016.5h1M1098 1016.5h1M1102 1016.5h1M1105 1016.5h1M1107 1016.5h1M1110 1016.5h1M1039 1017.5h1M1044 1017.5h1M1049 1017.5h4M1054 1017.5h26M1084 1017.5h1M1086 1017.5h5M1092 1017.5h3M1098 1017.5h1M1103 1017.5h1M1107 1017.5h1M1109 1017.5h1M1047 1018.5h2M1051 1018.5h3M1056 1018.5h23M1080 1018.5h1M1082 1018.5h1M1085 1018.5h1M1088 1018.5h1M1090 1018.5h1M1092 1018.5h2M1095 1018.5h1M1097 1018.5h1M1102 1018.5h1M1105 1018.5h1M1055 1019.5h25M1081 1019.5h3M1086 1019.5h1M1088 1019.5h4M1028 1020.5h1M1047 1020.5h1M1050 1020.5h1M1053 1020.5h31M1095 1020.5h2M1098 1020.5h1M1102 1020.5h2M1105 1020.5h1M1047 1021.5h1M1050 1021.5h1M1052 1021.5h1M1054 1021.5h25M1080 1021.5h1M1086 1021.5h1M1089 1021.5h1M1093 1021.5h2M1097 1021.5h3M1101 1021.5h1M1043 1022.5h1M1049 1022.5h1M1051 1022.5h30M1086 1022.5h1M1090 1022.5h1M1102 1022.5h1M1104 1022.5h1M1052 1023.5h1M1054 1023.5h27M1083 1023.5h2M1086 1023.5h1M1091 1023.5h1M1101 1023.5h1M1043 1024.5h1M1048 1024.5h3M1052 1024.5h32M1085 1024.5h1M1091 1024.5h1M1098 1024.5h1M1100 1024.5h1M1041 1025.5h1M1044 1025.5h1M1051 1025.5h28M1080 1025.5h4M1086 1025.5h1M1090 1025.5h1M1095 1025.5h1M1045 1026.5h1M1048 1026.5h1M1050 1026.5h1M1052 1026.5h26M1079 1026.5h1M1081 1026.5h3M1085 1026.5h1M1089 1026.5h1M1094 1026.5h3M1045 1027.5h1M1051 1027.5h28M1090 1027.5h1M1045 1028.5h1M1050 1028.5h32M1083 1028.5h1M1094 1028.5h1M1040 1029.5h1M1047 1029.5h2M1052 1029.5h2M1055 1029.5h21M1077 1029.5h2M1080 1029.5h1M1083 1029.5h1M1085 1029.5h3M1091 1029.5h2M1017 1030.5h1M1047 1030.5h2M1052 1030.5h1M1055 1030.5h23M1079 1030.5h1M1081 1030.5h2M1084 1030.5h1M1091 1030.5h1M1095 1030.5h1M1029 1031.5h1M1052 1031.5h25M1078 1031.5h1M1088 1031.5h1M1091 1031.5h1M1052 1032.5h1M1054 1032.5h22M1077 1032.5h1M1083 1032.5h1M1085 1032.5h1M1049 1033.5h4M1054 1033.5h25M1082 1033.5h1M1052 1034.5h1M1054 1034.5h24M1081 1034.5h1M1046 1035.5h1M1050 1035.5h1M1053 1035.5h20M1074 1035.5h2M1077 1035.5h2M1087 1035.5h1M1039 1036.5h1M1050 1036.5h1M1054 1036.5h21M1076 1036.5h3M1051 1037.5h1M1053 1037.5h3M1057 1037.5h18M1079 1037.5h1M1082 1037.5h1M1047 1038.5h1M1050 1038.5h1M1052 1038.5h1M1055 1038.5h15M1071 1038.5h4M1077 1038.5h1M1081 1038.5h1M1047 1039.5h1M1049 1039.5h2M1052 1039.5h1M1054 1039.5h1M1057 1039.5h17M1075 1039.5h3M1080 1039.5h1M1042 1040.5h1M1048 1040.5h1M1051 1040.5h2M1054 1040.5h1M1056 1040.5h1M1059 1040.5h11M1071 1040.5h2M1074 1040.5h3M1078 1040.5h1M1052 1041.5h5M1058 1041.5h2M1061 1041.5h10M1072 1041.5h1M1079 1041.5h1M1039 1042.5h1M1043 1042.5h1M1048 1042.5h2M1052 1042.5h1M1056 1042.5h9M1067 1042.5h8M1077 1042.5h1M1044 1043.5h1M1046 1043.5h1M1048 1043.5h1M1050 1043.5h2M1053 1043.5h1M1057 1043.5h3M1061 1043.5h1M1064 1043.5h3M1068 1043.5h2M1072 1043.5h1M1077 1043.5h1M1056 1044.5h3M1060 1044.5h9M1070 1044.5h3M1044 1045.5h1M1047 1045.5h1M1053 1045.5h1M1058 1045.5h8M1067 1045.5h1M1073 1045.5h1M1045 1046.5h1M1053 1046.5h2M1057 1046.5h1M1059 1046.5h2M1064 1046.5h2M1067 1046.5h2M1070 1046.5h1M1058 1047.5h1M1060 1047.5h2M1063 1047.5h3M1070 1047.5h1M1072 1047.5h1M1050 1048.5h1M1057 1048.5h2M1062 1048.5h3M1066 1048.5h1M1068 1048.5h1M1074 1048.5h2M1052 1049.5h1M1060 1049.5h1M1064 1049.5h1M1067 1049.5h2M1071 1049.5h1M1057 1050.5h1M1061 1050.5h1M1063 1050.5h1M1066 1050.5h1M1072 1050.5h1M1064 1051.5h1M1069 1051.5h2M1072 1051.5h1M1055 1052.5h1M1057 1052.5h1M1061 1052.5h2M1065 1052.5h1M1070 1052.5h1M1056 1053.5h1M1058 1053.5h1M1060 1053.5h1M1063 1053.5h1M1065 1053.5h1M1069 1053.5h1M1047 1054.5h1M1051 1054.5h1M1061 1054.5h1M1061 1055.5h1M1063 1055.5h1M1065 1055.5h1M1020 1057.5h1M1063 1057.5h1M1052 1058.5h1M1060 1058.5h1M1059 1059.5h1M1063 1059.5h1M1021 1060.5h1M1062 1060.5h1M1024 1061.5h1M1051 1062.5h1M1059 1064.5h1M1048 1068.5h1M1019 1072.5h1" stroke="#00ff00" stroke-width="1.4" fill="none"/>
<path d="M1155 1004.5h1M1139 1006.5h1M1138 1007.5h1M1134 1008.5h1M1137 1009.5h2M1139 1010.5h2M1139 1011.5h1M1141 1011.5h1M1146 1011.5h1M1150 1011.5h2M1128 1012.5h1M1138 1012.5h1M1140 1012.5h1M1143 1012.5h1M1133 1013.5h1M1139 1014.5h2M1145 1014.5h1M1130 1015.5h1M1135 1015.5h1M1137 1015.5h1M1139 1015.5h1M1148 1015.5h1M1126 1016.5h1M1130 1016.5h1M1135 1016.5h1M1148 1016.5h1M1113 1017.5h1M1120 1017.5h1M1128 1017.5h1M1130 1017.5h2M1137 1017.5h1M1118 1018.5h1M1123 1018.5h1M1125 1018.5h1M1132 1018.5h3M1137 1018.5h1M1139 1018.5h1M1143 1018.5h2M1121 1019.5h1M1129 1019.5h3M1133 1019.5h1M1146 1019.5h1M1135 1020.5h1M1139 1020.5h1M1141 1020.5h1M1121 1021.5h1M1126 1021.5h1M1129 1021.5h1M1135 1021.5h2M1138 1021.5h1M1144 1021.5h1M1122 1022.5h5M1128 1022.5h1M1130 1022.5h3M1136 1022.5h1M1113 1023.5h1M1121 1023.5h1M1123 1023.5h3M1127 1023.5h2M1131 1023.5h1M1135 1023.5h2M1140 1023.5h1M1105 1024.5h1M1115 1024.5h1M1124 1024.5h1M1126 1024.5h5M1132 1024.5h1M1115 1025.5h1M1124 1025.5h1M1127 1025.5h2M1130 1025.5h2M1134 1025.5h1M1102 1026.5h1M1118 1026.5h2M1121 1026.5h10M1132 1026.5h3M1136 1026.5h1M1142 1026.5h1M1104 1027.5h1M1111 1027.5h1M1117 1027.5h1M1119 1027.5h4M1124 1027.5h2M1127 1027.5h5M1134 1027.5h2M1139 1027.5h1M1109 1028.5h1M1113 1028.5h1M1116 1028.5h1M1119 1028.5h2M1122 1028.5h10M1135 1028.5h1M1111 1029.5h1M1117 1029.5h1M1119 1029.5h10M1130 1029.5h2M1136 1029.5h1M1138 1029.5h1M1107 1030.5h1M1111 1030.5h1M1113 1030.5h1M1115 1030.5h14M1130 1030.5h3M1134 1030.5h1M1112 1031.5h2M1116 1031.5h12M1130 1031.5h1M1133 1031.5h1M1137 1031.5h1M1100 1032.5h1M1107 1032.5h2M1112 1032.5h1M1114 1032.5h1M1116 1032.5h11M1129 1032.5h1M1131 1032.5h2M1136 1032.5h1M1102 1033.5h1M1107 1033.5h3M1112 1033.5h15M1159 1033.5h1M1094 1034.5h1M1107 1034.5h4M1112 1034.5h16M1130 1034.5h2M1140 1034.5h1M1105 1035.5h1M1108 1035.5h16M1127 1035.5h3M1132 1035.5h1M1096 1036.5h1M1098 1036.5h2M1104 1036.5h1M1107 1036.5h1M1109 1036.5h1M1111 1036.5h13M1125 1036.5h1M1127 1036.5h3M1131 1036.5h1M1135 1036.5h1M1094 1037.5h1M1100 1037.5h1M1106 1037.5h1M1108 1037.5h14M1123 1037.5h3M1132 1037.5h1M1135 1037.5h1M1103 1038.5h18M1122 1038.5h4M1127 1038.5h1M1129 1038.5h1M1145 1038.5h1M1092 1039.5h1M1098 1039.5h1M1100 1039.5h1M1102 1039.5h1M1106 1039.5h16M1124 1039.5h2M1128 1039.5h1M1095 1040.5h1M1103 1040.5h1M1105 1040.5h18M1089 1041.5h1M1098 1041.5h1M1100 1041.5h22M1123 1041.5h3M1129 1041.5h3M1137 1041.5h1M1087 1042.5h1M1093 1042.5h1M1097 1042.5h1M1099 1042.5h1M1101 1042.5h3M1105 1042.5h13M1119 1042.5h4M1126 1042.5h1M1132 1042.5h2M1136 1042.5h1M1142 1042.5h1M1085 1043.5h1M1090 1043.5h1M1097 1043.5h1M1099 1043.5h1M1101 1043.5h17M1119 1043.5h1M1124 1043.5h2M1129 1043.5h2M1095 1044.5h4M1101 1044.5h15M1117 1044.5h1M1119 1044.5h3M1123 1044.5h1M1130 1044.5h1M1141 1044.5h1M1090 1045.5h1M1093 1045.5h1M1098 1045.5h2M1101 1045.5h19M1123 1045.5h1M1130 1045.5h1M1081 1046.5h1M1086 1046.5h1M1090 1046.5h1M1092 1046.5h1M1097 1046.5h17M1115 1046.5h1M1118 1046.5h1M1120 1046.5h1M1127 1046.5h1M1135 1046.5h1M1086 1047.5h1M1090 1047.5h1M1093 1047.5h4M1098 1047.5h17M1117 1047.5h1M1119 1047.5h3M1124 1047.5h1M1126 1047.5h1M1131 1047.5h1M1141 1047.5h1M1091 1048.5h3M1095 1048.5h1M1097 1048.5h16M1114 1048.5h3M1118 1048.5h1M1122 1048.5h1M1127 1048.5h1M1088 1049.5h3M1092 1049.5h1M1094 1049.5h2M1097 1049.5h18M1118 1049.5h2M1121 1049.5h2M1136 1049.5h1M1088 1050.5h2M1091 1050.5h22M1114 1050.5h3M1119 1050.5h1M1122 1050.5h3M1091 1051.5h1M1095 1051.5h17M1113 1051.5h3M1117 1051.5h1M1126 1051.5h1M1130 1051.5h1M1078 1052.5h1M1089 1052.5h1M1092 1052.5h2M1095 1052.5h14M1110 1052.5h1M1112 1052.5h1M1117 1052.5h4M1124 1052.5h3M1132 1052.5h1M1092 1053.5h1M1094 1053.5h14M1109 1053.5h3M1113 1053.5h1M1115 1053.5h1M1119 1053.5h1M1122 1053.5h1M1124 1053.5h2M1132 1053.5h2M1075 1054.5h1M1084 1054.5h1M1088 1054.5h2M1093 1054.5h16M1111 1054.5h1M1119 1054.5h2M1130 1054.5h1M1082 1055.5h2M1088 1055.5h1M1090 1055.5h19M1112 1055.5h1M1117 1055.5h2M1120 1055.5h1M1122 1055.5h1M1124 1055.5h4M1138 1055.5h1M1078 1056.5h1M1081 1056.5h1M1085 1056.5h1M1087 1056.5h4M1092 1056.5h15M1110 1056.5h2M1114 1056.5h3M1120 1056.5h1M1124 1056.5h1M1129 1056.5h2M1080 1057.5h1M1083 1057.5h2M1086 1057.5h1M1088 1057.5h1M1090 1057.5h15M1106 1057.5h1M1109 1057.5h2M1112 1057.5h2M1121 1057.5h1M1123 1057.5h1M1131 1057.5h3M1073 1058.5h3M1081 1058.5h2M1086 1058.5h1M1088 1058.5h1M1090 1058.5h9M1100 1058.5h2M1103 1058.5h1M1105 1058.5h1M1109 1058.5h2M1115 1058.5h1M1118 1058.5h1M1120 1058.5h1M1122 1058.5h1M1124 1058.5h1M1130 1058.5h1M1084 1059.5h1M1086 1059.5h1M1088 1059.5h13M1102 1059.5h6M1109 1059.5h4M1117 1059.5h1M1120 1059.5h1M1122 1059.5h2M1085 1060.5h3M1089 1060.5h8M1098 1060.5h6M1107 1060.5h4M1112 1060.5h1M1117 1060.5h3M1122 1060.5h2M1125 1060.5h1M1127 1060.5h1M1068 1061.5h1M1075 1061.5h1M1082 1061.5h13M1096 1061.5h3M1100 1061.5h1M1103 1061.5h2M1106 1061.5h1M1111 1061.5h1M1113 1061.5h1M1117 1061.5h1M1122 1061.5h2M1125 1061.5h1M1127 1061.5h2M1080 1062.5h1M1082 1062.5h1M1085 1062.5h1M1087 1062.5h5M1093 1062.5h12M1106 1062.5h1M1108 1062.5h1M1110 1062.5h1M1115 1062.5h1M1118 1062.5h2M1121 1062.5h2M1124 1062.5h1M1126 1062.5h2M1078 1063.5h1M1082 1063.5h2M1085 1063.5h8M1095 1063.5h2M1098 1063.5h2M1101 1063.5h1M1103 1063.5h1M1105 1063.5h2M1115 1063.5h1M1118 1063.5h5M1128 1063.5h1M1131 1063.5h1M1079 1064.5h2M1082 1064.5h14M1097 1064.5h3M1101 1064.5h1M1104 1064.5h1M1107 1064.5h1M1110 1064.5h1M1114 1064.5h1M1116 1064.5h1M1118 1064.5h1M1120 1064.5h1M1068 1065.5h1M1075 1065.5h1M1077 1065.5h1M1081 1065.5h1M1087 1065.5h1M1090 1065.5h3M1094 1065.5h2M1097 1065.5h2M1104 1065.5h2M1107 1065.5h1M1110 1065.5h1M1112 1065.5h1M1114 1065.5h1M1119 1065.5h3M1123 1065.5h4M1132 1065.5h1M1070 1066.5h2M1076 1066.5h1M1080 1066.5h1M1082 1066.5h1M1084 1066.5h1M1087 1066.5h1M1091 1066.5h4M1096 1066.5h3M1107 1066.5h1M1111 1066.5h1M1113 1066.5h3M1117 1066.5h1M1119 1066.5h1M1121 1066.5h1M1136 1066.5h1M1160 1066.5h1M1076 1067.5h1M1078 1067.5h1M1085 1067.5h2M1088 1067.5h2M1091 1067.5h1M1095 1067.5h1M1097 1067.5h2M1100 1067.5h1M1102 1067.5h1M1105 1067.5h2M1109 1067.5h3M1113 1067.5h7M1121 1067.5h3M1072 1068.5h1M1074 1068.5h1M1077 1068.5h1M1079 1068.5h1M1082 1068.5h1M1087 1068.5h2M1090 1068.5h2M1094 1068.5h2M1097 1068.5h2M1103 1068.5h6M1110 1068.5h1M1112 1068.5h1M1114 1068.5h5M1122 1068.5h1M1126 1068.5h1M1076 1069.5h2M1081 1069.5h1M1087 1069.5h1M1090 1069.5h1M1092 1069.5h3M1096 1069.5h1M1098 1069.5h2M1104 1069.5h1M1106 1069.5h1M1108 1069.5h1M1110 1069.5h1M1112 1069.5h6M1119 1069.5h1M1121 1069.5h1M1078 1070.5h2M1081 1070.5h1M1084 1070.5h1M1086 1070.5h1M1093 1070.5h2M1097 1070.5h1M1099 1070.5h2M1102 1070.5h1M1104 1070.5h3M1109 1070.5h2M1112 1070.5h1M1114 1070.5h6M1121 1070.5h1M1126 1070.5h1M1075 1071.5h3M1081 1071.5h2M1084 1071.5h1M1086 1071.5h2M1092 1071.5h1M1095 1071.5h1M1098 1071.5h2M1104 1071.5h1M1106 1071.5h1M1108 1071.5h8M1119 1071.5h1M1121 1071.5h1M1123 1071.5h1M1144 1071.5h1M1071 1072.5h1M1076 1072.5h1M1078 1072.5h1M1083 1072.5h2M1090 1072.5h1M1096 1072.5h1M1099 1072.5h1M1101 1072.5h2M1104 1072.5h2M1107 1072.5h9M1117 1072.5h3M1124 1072.5h1M1051 1073.5h1M1072 1073.5h1M1075 1073.5h1M1077 1073.5h1M1083 1073.5h1M1087 1073.5h1M1093 1073.5h2M1097 1073.5h1M1100 1073.5h1M1102 1073.5h1M1104 1073.5h13M1119 1073.5h2M1069 1074.5h1M1075 1074.5h1M1077 1074.5h2M1083 1074.5h1M1085 1074.5h2M1093 1074.5h1M1097 1074.5h1M1100 1074.5h1M1104 1074.5h8M1113 1074.5h5M1065 1075.5h1M1072 1075.5h1M1075 1075.5h1M1079 1075.5h1M1082 1075.5h1M1084 1075.5h2M1087 1075.5h1M1089 1075.5h1M1091 1075.5h1M1095 1075.5h1M1098 1075.5h2M1101 1075.5h1M1103 1075.5h2M1106 1075.5h9M1116 1075.5h2M1073 1076.5h1M1076 1076.5h1M1078 1076.5h1M1080 1076.5h2M1086 1076.5h3M1091 1076.5h1M1096 1076.5h2M1101 1076.5h1M1103 1076.5h2M1107 1076.5h10M1120 1076.5h1M1052 1077.5h1M1066 1077.5h1M1074 1077.5h1M1078 1077.5h1M1081 1077.5h1M1085 1077.5h2M1088 1077.5h1M1090 1077.5h1M1093 1077.5h3M1099 1077.5h2M1102 1077.5h14M1130 1077.5h1M1069 1078.5h1M1071 1078.5h1M1077 1078.5h2M1087 1078.5h2M1094 1078.5h1M1097 1078.5h1M1099 1078.5h2M1102 1078.5h1M1104 1078.5h7M1112 1078.5h2M1115 1078.5h2M1122 1078.5h1M1071 1079.5h2M1076 1079.5h1M1079 1079.5h2M1091 1079.5h1M1093 1079.5h1M1098 1079.5h1M1100 1079.5h3M1104 1079.5h4M1109 1079.5h3M1113 1079.5h2M1068 1080.5h1M1075 1080.5h1M1089 1080.5h2M1093 1080.5h2M1096 1080.5h1M1099 1080.5h5M1105 1080.5h9M1115 1080.5h1M1070 1081.5h1M1076 1081.5h1M1079 1081.5h1M1083 1081.5h2M1087 1081.5h1M1089 1081.5h2M1095 1081.5h1M1097 1081.5h1M1099 1081.5h12M1113 1081.5h1M1115 1081.5h1M1084 1082.5h1M1091 1082.5h1M1096 1082.5h9M1106 1082.5h5M1116 1082.5h1M1062 1083.5h1M1073 1083.5h1M1079 1083.5h1M1088 1083.5h1M1091 1083.5h1M1093 1083.5h2M1096 1083.5h9M1106 1083.5h4M1112 1083.5h1M1064 1084.5h3M1079 1084.5h1M1085 1084.5h1M1093 1084.5h18M1113 1084.5h1M1116 1084.5h1M1069 1085.5h1M1084 1085.5h1M1086 1085.5h1M1091 1085.5h1M1094 1085.5h1M1096 1085.5h4M1101 1085.5h5M1107 1085.5h2M1110 1085.5h2M1113 1085.5h2M1116 1085.5h1M1058 1086.5h1M1078 1086.5h1M1082 1086.5h2M1091 1086.5h3M1095 1086.5h10M1106 1086.5h1M1108 1086.5h1M1111 1086.5h2M1127 1086.5h1M1081 1087.5h1M1084 1087.5h1M1088 1087.5h1M1096 1087.5h6M1103 1087.5h3M1061 1088.5h1M1076 1088.5h1M1080 1088.5h1M1089 1088.5h2M1092 1088.5h12M1108 1088.5h2M1079 1089.5h1M1081 1089.5h1M1086 1089.5h2M1090 1089.5h3M1094 1089.5h8M1103 1089.5h3M1064 1090.5h1M1067 1090.5h1M1088 1090.5h1M1091 1090.5h3M1095 1090.5h7M1103 1090.5h3M1108 1090.5h1M1067 1091.5h1M1070 1091.5h1M1074 1091.5h1M1078 1091.5h1M1085 1091.5h1M1088 1091.5h2M1093 1091.5h6M1100 1091.5h3M1105 1091.5h1M1050 1092.5h1M1067 1092.5h1M1079 1092.5h1M1088 1092.5h2M1092 1092.5h6M1099 1092.5h3M1103 1092.5h1M1085 1093.5h2M1089 1093.5h1M1091 1093.5h9M1101 1093.5h2M1105 1093.5h1M1107 1093.5h1M1071 1094.5h1M1082 1094.5h1M1085 1094.5h10M1096 1094.5h3M1101 1094.5h2M1065 1095.5h1M1074 1095.5h1M1081 1095.5h1M1084 1095.5h1M1089 1095.5h3M1093 1095.5h8M1106 1095.5h1M1083 1096.5h1M1086 1096.5h3M1091 1096.5h7M1099 1096.5h1M1103 1096.5h1M1073 1097.5h1M1088 1097.5h2M1091 1097.5h7M1099 1097.5h1M1114 1097.5h1M1119 1097.5h1M1083 1098.5h1M1085 1098.5h7M1094 1098.5h2M1097 1098.5h1M1129 1098.5h1M1081 1099.5h1M1085 1099.5h1M1087 1099.5h8M1096 1099.5h1M1099 1099.5h1M1101 1099.5h1M1061 1100.5h1M1085 1100.5h4M1095 1100.5h1M1097 1100.5h1M1101 1100.5h1M1161 1100.5h1M1081 1101.5h1M1085 1101.5h1M1088 1101.5h2M1093 1101.5h1M1102 1101.5h1M1076 1102.5h1M1079 1102.5h1M1088 1102.5h3M1081 1103.5h4M1086 1103.5h1M1089 1103.5h1M1091 1103.5h1M1114 1103.5h1M1086 1104.5h2M1094 1104.5h1M1080 1105.5h1M1087 1105.5h2M1092 1105.5h1M1079 1106.5h1M1083 1106.5h1M1085 1106.5h1M1089 1106.5h2M1092 1106.5h1M1076 1107.5h1M1079 1107.5h1M1085 1107.5h1M1093 1107.5h1M1087 1108.5h2M1082 1109.5h1M1088 1109.5h1M1087 1110.5h1M1061 1111.5h1M1079 1111.5h1M1071 1113.5h1M1077 1113.5h2M1082 1113.5h1M1086 1113.5h1M1075 1115.5h1M1072 1116.5h1M1085 1116.5h1M1075 1117.5h1M1080 1117.5h1M1073 1127.5h1M1085 1132.5h1M1107 1138.5h1" stroke="#0000ff" stroke-width="1.4" fill="none"/>
<g fill="none" stroke="#000">
<rect x="951.5" y="947.4" width="233.9" height="215.1" stroke-width="1.4"/>
<rect x="958.2" y="951.3" width="221.8" height="208.4" stroke-width="1.4"/>
<path d="M959.0 1158.9 L1180.0 952.8" stroke-width="1.1"/>
<path d="M951.5 1162.5V1172.5M963.9 1162.5V1172.5M1007.1 1162.5V1172.5M1058.6 1162.5V1172.5M1110.9 1162.5V1172.5M1163.7 1162.5V1172.5M976.9 1162.5V1168.5M984.6 1162.5V1168.5M990.0 1162.5V1168.5M994.1 1162.5V1168.5M997.6 1162.5V1168.5M1000.5 1162.5V1168.5M1003.0 1162.5V1168.5M1005.2 1162.5V1168.5M1022.6 1162.5V1168.5M1031.7 1162.5V1168.5M1038.1 1162.5V1168.5M1043.1 1162.5V1168.5M1047.2 1162.5V1168.5M1050.6 1162.5V1168.5M1053.6 1162.5V1168.5M1056.3 1162.5V1168.5M1074.3 1162.5V1168.5M1083.5 1162.5V1168.5M1090.1 1162.5V1168.5M1095.1 1162.5V1168.5M1099.3 1162.5V1168.5M1102.8 1162.5V1168.5M1105.8 1162.5V1168.5M1108.5 1162.5V1168.5M1126.8 1162.5V1168.5M1136.1 1162.5V1168.5M1142.7 1162.5V1168.5M1147.8 1162.5V1168.5M1152.0 1162.5V1168.5M1155.5 1162.5V1168.5M1158.6 1162.5V1168.5M1161.3 1162.5V1168.5M1179.6 1162.5V1168.5M1184.9 1162.5V1168.5M942.5 967.6H951.5M942.5 1015.6H951.5M942.5 1063.6H951.5M942.5 1110.3H951.5M942.5 1150.1H951.5M942.5 1162.5H951.5M947.0 953.2H951.5M942.5 951.9H951.5M947.0 1001.2H951.5M947.0 992.7H951.5M947.0 986.7H951.5M947.0 982.1H951.5M947.0 978.3H951.5M947.0 975.1H951.5M947.0 972.3H951.5M947.0 969.8H951.5M947.0 1049.2H951.5M947.0 1040.7H951.5M947.0 1034.7H951.5M947.0 1030.1H951.5M947.0 1026.3H951.5M947.0 1023.1H951.5M947.0 1020.3H951.5M947.0 1017.8H951.5M947.0 1096.3H951.5M947.0 1088.0H951.5M947.0 1082.2H951.5M947.0 1077.7H951.5M947.0 1074.0H951.5M947.0 1070.9H951.5M947.0 1068.2H951.5M947.0 1065.8H951.5M947.0 1138.1H951.5M947.0 1131.1H951.5M947.0 1126.1H951.5M947.0 1122.3H951.5M947.0 1119.1H951.5M947.0 1116.5H951.5M947.0 1114.2H951.5M947.0 1112.1H951.5M947.0 1153.1H951.5M947.0 1156.1H951.5M947.0 1159.1H951.5M942.5 1162.5H951.5" stroke-width="1.1"/>
</g>
<g font-family="Liberation Sans, Arial, sans-serif"><text x="949.5" y="1190.5" text-anchor="middle" font-size="10.5">0</text><text x="960.4" y="1185.0" text-anchor="middle" font-size="10.5" textLength="9" lengthAdjust="spacingAndGlyphs">10</text><text x="966.9" y="1178.0" font-size="8.5">1</text><text x="1003.6" y="1185.0" text-anchor="middle" font-size="10.5" textLength="9" lengthAdjust="spacingAndGlyphs">10</text><text x="1010.1" y="1178.0" font-size="8.5">2</text><text x="1055.1" y="1185.0" text-anchor="middle" font-size="10.5" textLength="9" lengthAdjust="spacingAndGlyphs">10</text><text x="1061.6" y="1178.0" font-size="8.5">3</text><text x="1107.4" y="1185.0" text-anchor="middle" font-size="10.5" textLength="9" lengthAdjust="spacingAndGlyphs">10</text><text x="1113.9" y="1178.0" font-size="8.5">4</text><text x="1160.2" y="1185.0" text-anchor="middle" font-size="10.5" textLength="9" lengthAdjust="spacingAndGlyphs">10</text><text x="1166.7" y="1178.0" font-size="8.5">5</text><text transform="translate(940.7 974.2) rotate(-90)" font-size="10.5" textLength="9" lengthAdjust="spacingAndGlyphs">10</text><text transform="translate(934.1 964.6) rotate(-90)" font-size="10">5</text><text transform="translate(940.7 1022.2) rotate(-90)" font-size="10.5" textLength="9" lengthAdjust="spacingAndGlyphs">10</text><text transform="translate(934.1 1012.6) rotate(-90)" font-size="10">4</text><text transform="translate(940.7 1070.2) rotate(-90)" font-size="10.5" textLength="9" lengthAdjust="spacingAndGlyphs">10</text><text transform="translate(934.1 1060.6) rotate(-90)" font-size="10">3</text><text transform="translate(940.7 1116.9) rotate(-90)" font-size="10.5" textLength="9" lengthAdjust="spacingAndGlyphs">10</text><text transform="translate(934.1 1107.3) rotate(-90)" font-size="10">2</text><text transform="translate(940.7 1156.7) rotate(-90)" font-size="10.5" textLength="9" lengthAdjust="spacingAndGlyphs">10</text><text transform="translate(934.1 1147.1) rotate(-90)" font-size="10">1</text><text transform="translate(931.0 1162.5) rotate(-90)" text-anchor="middle" font-size="10.5">0</text><text x="1067.9" y="1201.5" text-anchor="middle" font-size="13">FITC-A</text><text transform="translate(921.7 1054.0) rotate(-90)" text-anchor="middle" font-size="13">PE-A</text><text x="1020.0" y="1011.8" font-size="15.4" fill="#111">P6</text><text x="1124.6" y="1115.5" font-size="15.4" fill="#111">P7</text><text x="973.0" y="1033.5" font-size="17" font-weight="bold" fill="#00b050" textLength="43.8" lengthAdjust="spacingAndGlyphs">66.3%</text><text x="1124.7" y="1083.8" font-size="17" font-weight="bold" fill="#3300e0" textLength="43.8" lengthAdjust="spacingAndGlyphs">33.7%</text></g>
<text x="1226.1" y="934.0" font-family="Liberation Sans, Arial, sans-serif" font-weight="bold" font-size="16.5" textLength="266.9" lengthAdjust="spacingAndGlyphs">0.5 µg/mL L-asp + 5 µg/mL api (48 h)</text>
<clipPath id="c6e"><polygon points="1250.1,1159.7 1250.1,951.7 1471.9,951.7 1471.9,953.2 1250.9,1158.9"/></clipPath>
<clipPath id="c7e"><polygon points="1250.1,1159.7 1250.9,1158.9 1471.9,953.2 1471.9,951.7 1471.9,1159.7"/></clipPath>
<path d="M1340 966.5h1M1391 966.5h1M1368 972.5h1M1352 977.5h1M1382 984.5h1M1357 986.5h1M1363 986.5h1M1384 987.5h1M1358 992.5h1M1374 992.5h1M1327 993.5h1M1402 995.5h1M1339 996.5h1M1362 996.5h1M1367 996.5h1M1377 996.5h1M1371 997.5h1M1399 997.5h1M1406 997.5h1M1344 999.5h1M1357 999.5h1M1347 1000.5h1M1367 1001.5h1M1376 1001.5h1M1399 1001.5h1M1310 1002.5h1M1332 1002.5h1M1376 1002.5h1M1390 1002.5h1M1405 1002.5h1M1407 1002.5h1M1382 1003.5h1M1303 1004.5h1M1362 1004.5h1M1392 1004.5h1M1398 1004.5h1M1365 1005.5h1M1382 1005.5h1M1386 1005.5h1M1395 1005.5h1M1410 1005.5h1M1365 1006.5h1M1371 1006.5h1M1390 1006.5h1M1399 1006.5h1M1404 1006.5h1M1387 1007.5h1M1397 1007.5h1M1400 1007.5h1M1412 1007.5h1M1372 1008.5h1M1374 1008.5h1M1377 1008.5h1M1384 1008.5h1M1387 1008.5h1M1394 1008.5h1M1354 1009.5h1M1367 1009.5h1M1383 1009.5h1M1388 1009.5h1M1390 1009.5h1M1396 1009.5h1M1354 1010.5h1M1362 1010.5h2M1375 1010.5h4M1380 1010.5h2M1383 1010.5h4M1388 1010.5h1M1391 1010.5h3M1397 1010.5h2M1400 1010.5h1M1339 1011.5h1M1364 1011.5h1M1369 1011.5h1M1372 1011.5h2M1375 1011.5h1M1377 1011.5h1M1379 1011.5h4M1385 1011.5h1M1388 1011.5h6M1401 1011.5h1M1403 1011.5h1M1405 1011.5h1M1407 1011.5h1M1350 1012.5h1M1362 1012.5h1M1365 1012.5h2M1372 1012.5h3M1377 1012.5h2M1380 1012.5h2M1383 1012.5h5M1389 1012.5h1M1392 1012.5h1M1394 1012.5h2M1398 1012.5h3M1341 1013.5h1M1359 1013.5h1M1361 1013.5h2M1365 1013.5h1M1370 1013.5h3M1374 1013.5h3M1378 1013.5h6M1385 1013.5h4M1390 1013.5h2M1393 1013.5h3M1397 1013.5h1M1400 1013.5h1M1402 1013.5h1M1356 1014.5h1M1367 1014.5h27M1397 1014.5h2M1400 1014.5h3M1351 1015.5h1M1356 1015.5h1M1360 1015.5h1M1362 1015.5h1M1364 1015.5h4M1369 1015.5h27M1397 1015.5h1M1400 1015.5h1M1402 1015.5h1M1313 1016.5h1M1316 1016.5h1M1323 1016.5h1M1356 1016.5h1M1360 1016.5h3M1364 1016.5h33M1401 1016.5h1M1347 1017.5h1M1353 1017.5h1M1356 1017.5h1M1358 1017.5h3M1365 1017.5h20M1386 1017.5h10M1399 1017.5h1M1401 1017.5h1M1340 1018.5h1M1350 1018.5h1M1354 1018.5h1M1357 1018.5h40M1398 1018.5h1M1338 1019.5h1M1356 1019.5h41M1399 1019.5h1M1342 1020.5h2M1346 1020.5h1M1350 1020.5h1M1353 1020.5h1M1356 1020.5h40M1352 1021.5h1M1354 1021.5h4M1359 1021.5h31M1391 1021.5h6M1327 1022.5h1M1336 1022.5h1M1348 1022.5h1M1350 1022.5h16M1367 1022.5h7M1375 1022.5h21M1341 1023.5h1M1347 1023.5h1M1349 1023.5h24M1374 1023.5h21M1326 1024.5h1M1330 1024.5h1M1347 1024.5h46M1339 1025.5h1M1344 1025.5h1M1346 1025.5h17M1364 1025.5h8M1373 1025.5h21M1334 1026.5h2M1339 1026.5h1M1342 1026.5h2M1345 1026.5h1M1347 1026.5h45M1335 1027.5h1M1341 1027.5h1M1343 1027.5h41M1385 1027.5h6M1334 1028.5h1M1336 1028.5h1M1341 1028.5h1M1344 1028.5h1M1346 1028.5h44M1335 1029.5h1M1338 1029.5h1M1340 1029.5h1M1342 1029.5h28M1371 1029.5h18M1328 1030.5h1M1335 1030.5h1M1344 1030.5h1M1346 1030.5h8M1355 1030.5h33M1337 1031.5h1M1339 1031.5h1M1342 1031.5h15M1358 1031.5h11M1370 1031.5h17M1329 1032.5h1M1331 1032.5h2M1338 1032.5h48M1338 1033.5h6M1345 1033.5h40M1328 1034.5h1M1335 1034.5h49M1329 1035.5h1M1338 1035.5h21M1360 1035.5h11M1372 1035.5h10M1325 1036.5h1M1329 1036.5h1M1336 1036.5h45M1326 1037.5h1M1332 1037.5h1M1334 1037.5h1M1336 1037.5h44M1330 1038.5h2M1333 1038.5h2M1336 1038.5h20M1357 1038.5h11M1369 1038.5h10M1322 1039.5h1M1327 1039.5h1M1329 1039.5h1M1332 1039.5h2M1335 1039.5h1M1339 1039.5h12M1352 1039.5h24M1377 1039.5h1M1326 1040.5h1M1329 1040.5h3M1333 1040.5h44M1331 1041.5h1M1338 1041.5h38M1330 1042.5h1M1332 1042.5h1M1334 1042.5h1M1336 1042.5h39M1325 1043.5h1M1334 1043.5h1M1336 1043.5h1M1339 1043.5h2M1342 1043.5h6M1349 1043.5h24M1304 1044.5h1M1320 1044.5h1M1330 1044.5h4M1336 1044.5h16M1353 1044.5h17M1371 1044.5h1M1331 1045.5h3M1335 1045.5h2M1339 1045.5h15M1355 1045.5h10M1366 1045.5h5M1321 1046.5h1M1332 1046.5h1M1337 1046.5h5M1343 1046.5h2M1346 1046.5h16M1363 1046.5h3M1320 1047.5h1M1332 1047.5h1M1335 1047.5h1M1337 1047.5h2M1340 1047.5h3M1344 1047.5h18M1363 1047.5h5M1325 1048.5h1M1329 1048.5h1M1335 1048.5h3M1340 1048.5h14M1355 1048.5h1M1357 1048.5h4M1362 1048.5h1M1364 1048.5h1M1329 1049.5h1M1336 1049.5h2M1343 1049.5h3M1347 1049.5h1M1350 1049.5h3M1354 1049.5h3M1360 1049.5h2M1325 1050.5h1M1328 1050.5h1M1331 1050.5h1M1334 1050.5h1M1337 1050.5h1M1340 1050.5h7M1348 1050.5h1M1350 1050.5h2M1353 1050.5h3M1359 1050.5h1M1361 1050.5h1M1306 1051.5h1M1327 1051.5h1M1338 1051.5h1M1340 1051.5h2M1345 1051.5h7M1353 1051.5h1M1357 1051.5h1M1364 1051.5h1M1333 1052.5h2M1337 1052.5h1M1341 1052.5h1M1345 1052.5h1M1358 1052.5h1M1338 1053.5h1M1343 1053.5h1M1349 1053.5h1M1354 1053.5h1M1357 1053.5h2M1336 1054.5h1M1341 1054.5h2M1349 1054.5h1M1359 1054.5h1M1328 1055.5h1M1343 1055.5h1M1352 1055.5h1M1338 1056.5h2M1344 1056.5h1M1346 1056.5h1M1350 1056.5h1M1355 1056.5h1M1335 1057.5h1M1340 1057.5h1M1341 1058.5h1M1346 1058.5h1M1308 1059.5h1M1352 1059.5h1M1335 1060.5h1M1346 1060.5h1M1349 1060.5h1M1352 1060.5h1M1313 1061.5h1M1326 1062.5h1M1297 1064.5h1M1289 1074.5h1M1304 1079.5h1" stroke="#00ff00" stroke-width="1.4" fill="none"/>
<path d="M1424 997.5h1M1425 1000.5h1M1441 1001.5h1M1421 1002.5h1M1444 1003.5h1M1454 1003.5h1M1433 1006.5h1M1433 1008.5h1M1420 1009.5h1M1435 1010.5h1M1428 1011.5h1M1431 1011.5h1M1421 1012.5h1M1431 1012.5h1M1423 1013.5h2M1430 1013.5h1M1438 1013.5h1M1413 1014.5h1M1412 1015.5h1M1421 1015.5h1M1425 1015.5h1M1440 1016.5h1M1421 1017.5h1M1410 1018.5h2M1415 1018.5h1M1418 1018.5h3M1423 1018.5h2M1427 1018.5h1M1412 1019.5h1M1417 1019.5h2M1429 1019.5h1M1431 1019.5h1M1409 1020.5h1M1411 1020.5h4M1418 1020.5h1M1420 1020.5h2M1407 1021.5h1M1409 1021.5h3M1416 1021.5h3M1420 1021.5h1M1424 1021.5h1M1429 1021.5h1M1405 1022.5h1M1407 1022.5h1M1409 1022.5h1M1411 1022.5h1M1413 1022.5h4M1419 1022.5h2M1403 1023.5h2M1406 1023.5h3M1410 1023.5h3M1414 1023.5h9M1402 1024.5h1M1406 1024.5h1M1408 1024.5h1M1410 1024.5h7M1419 1024.5h1M1421 1024.5h2M1425 1024.5h1M1404 1025.5h2M1407 1025.5h8M1417 1025.5h3M1423 1025.5h1M1402 1026.5h2M1405 1026.5h1M1407 1026.5h13M1421 1026.5h2M1424 1026.5h1M1426 1026.5h1M1395 1027.5h1M1400 1027.5h16M1417 1027.5h2M1396 1028.5h1M1399 1028.5h2M1402 1028.5h1M1404 1028.5h1M1406 1028.5h14M1421 1028.5h2M1427 1028.5h1M1430 1028.5h1M1393 1029.5h1M1399 1029.5h4M1404 1029.5h18M1425 1029.5h1M1396 1030.5h1M1398 1030.5h1M1401 1030.5h8M1410 1030.5h2M1413 1030.5h4M1418 1030.5h1M1420 1030.5h1M1425 1030.5h1M1395 1031.5h1M1398 1031.5h1M1400 1031.5h1M1402 1031.5h7M1410 1031.5h9M1420 1031.5h1M1422 1031.5h1M1393 1032.5h1M1396 1032.5h22M1393 1033.5h26M1388 1034.5h1M1393 1034.5h25M1420 1034.5h1M1386 1035.5h1M1389 1035.5h2M1392 1035.5h1M1394 1035.5h7M1402 1035.5h12M1415 1035.5h4M1388 1036.5h1M1393 1036.5h25M1389 1037.5h1M1391 1037.5h1M1393 1037.5h24M1423 1037.5h1M1387 1038.5h30M1423 1038.5h1M1383 1039.5h1M1387 1039.5h2M1390 1039.5h26M1418 1039.5h1M1427 1039.5h1M1380 1040.5h1M1386 1040.5h14M1401 1040.5h13M1415 1040.5h3M1384 1041.5h1M1386 1041.5h1M1388 1041.5h25M1414 1041.5h1M1418 1041.5h1M1422 1041.5h1M1378 1042.5h1M1383 1042.5h2M1387 1042.5h27M1418 1042.5h1M1378 1043.5h1M1383 1043.5h1M1385 1043.5h2M1388 1043.5h3M1392 1043.5h4M1397 1043.5h15M1422 1043.5h1M1378 1044.5h1M1380 1044.5h5M1386 1044.5h28M1380 1045.5h30M1412 1045.5h1M1441 1045.5h1M1381 1046.5h6M1388 1046.5h22M1411 1046.5h2M1416 1046.5h1M1423 1046.5h1M1428 1046.5h1M1371 1047.5h1M1374 1047.5h1M1378 1047.5h33M1417 1047.5h1M1372 1048.5h1M1375 1048.5h1M1380 1048.5h29M1416 1048.5h1M1427 1048.5h1M1376 1049.5h1M1379 1049.5h29M1409 1049.5h1M1415 1049.5h1M1417 1049.5h1M1372 1050.5h1M1377 1050.5h29M1408 1050.5h1M1369 1051.5h1M1373 1051.5h1M1378 1051.5h23M1402 1051.5h4M1408 1051.5h1M1410 1051.5h1M1413 1051.5h1M1369 1052.5h1M1375 1052.5h11M1387 1052.5h21M1376 1053.5h31M1369 1054.5h1M1373 1054.5h1M1375 1054.5h2M1378 1054.5h9M1388 1054.5h14M1403 1054.5h2M1408 1054.5h1M1370 1055.5h1M1372 1055.5h2M1375 1055.5h30M1419 1055.5h1M1422 1055.5h1M1372 1056.5h30M1403 1056.5h1M1373 1057.5h28M1406 1057.5h1M1366 1058.5h1M1368 1058.5h1M1370 1058.5h2M1373 1058.5h29M1404 1058.5h3M1409 1058.5h1M1414 1058.5h1M1366 1059.5h1M1368 1059.5h1M1370 1059.5h31M1367 1060.5h1M1369 1060.5h14M1384 1060.5h17M1404 1060.5h1M1368 1061.5h12M1381 1061.5h18M1402 1061.5h1M1365 1062.5h1M1367 1062.5h2M1370 1062.5h27M1366 1063.5h1M1368 1063.5h24M1393 1063.5h5M1399 1063.5h1M1360 1064.5h1M1362 1064.5h1M1366 1064.5h1M1368 1064.5h26M1395 1064.5h2M1398 1064.5h1M1409 1064.5h1M1363 1065.5h1M1365 1065.5h1M1367 1065.5h23M1391 1065.5h3M1396 1065.5h1M1402 1065.5h1M1404 1065.5h1M1364 1066.5h3M1368 1066.5h26M1396 1066.5h1M1404 1066.5h1M1414 1066.5h1M1361 1067.5h1M1364 1067.5h3M1368 1067.5h17M1386 1067.5h9M1397 1067.5h2M1362 1068.5h6M1369 1068.5h23M1394 1068.5h1M1412 1068.5h1M1360 1069.5h1M1362 1069.5h1M1365 1069.5h27M1394 1069.5h1M1359 1070.5h1M1361 1070.5h1M1364 1070.5h26M1399 1070.5h1M1401 1070.5h1M1357 1071.5h1M1365 1071.5h24M1391 1071.5h2M1359 1072.5h6M1366 1072.5h21M1394 1072.5h1M1356 1073.5h1M1360 1073.5h3M1364 1073.5h24M1389 1073.5h1M1406 1073.5h1M1351 1074.5h1M1358 1074.5h1M1360 1074.5h24M1385 1074.5h4M1392 1074.5h1M1396 1074.5h1M1354 1075.5h1M1356 1075.5h2M1361 1075.5h19M1381 1075.5h5M1387 1075.5h2M1355 1076.5h1M1359 1076.5h1M1361 1076.5h24M1390 1076.5h1M1396 1076.5h1M1398 1076.5h1M1354 1077.5h1M1360 1077.5h2M1363 1077.5h14M1378 1077.5h5M1386 1077.5h1M1353 1078.5h3M1359 1078.5h21M1381 1078.5h1M1385 1078.5h1M1401 1078.5h1M1358 1079.5h17M1376 1079.5h5M1382 1079.5h1M1384 1079.5h1M1386 1079.5h1M1394 1079.5h1M1406 1079.5h1M1359 1080.5h3M1363 1080.5h11M1377 1080.5h3M1382 1080.5h1M1384 1080.5h1M1388 1080.5h1M1345 1081.5h1M1347 1081.5h1M1357 1081.5h4M1362 1081.5h3M1366 1081.5h2M1369 1081.5h8M1379 1081.5h1M1386 1081.5h1M1357 1082.5h1M1360 1082.5h1M1362 1082.5h4M1367 1082.5h4M1372 1082.5h2M1376 1082.5h3M1390 1082.5h1M1349 1083.5h1M1351 1083.5h3M1356 1083.5h1M1358 1083.5h1M1360 1083.5h6M1367 1083.5h1M1369 1083.5h2M1373 1083.5h1M1375 1083.5h1M1377 1083.5h1M1352 1084.5h1M1357 1084.5h2M1361 1084.5h3M1366 1084.5h1M1368 1084.5h1M1371 1084.5h4M1347 1085.5h1M1349 1085.5h1M1355 1085.5h1M1357 1085.5h1M1360 1085.5h1M1362 1085.5h8M1371 1085.5h1M1373 1085.5h2M1376 1085.5h1M1389 1085.5h1M1355 1086.5h1M1360 1086.5h1M1363 1086.5h2M1367 1086.5h3M1372 1086.5h1M1375 1086.5h1M1391 1086.5h1M1409 1086.5h1M1356 1087.5h1M1359 1087.5h3M1363 1087.5h1M1368 1087.5h1M1370 1087.5h1M1372 1087.5h1M1375 1087.5h1M1380 1087.5h1M1387 1087.5h1M1359 1088.5h1M1362 1088.5h2M1371 1088.5h3M1380 1088.5h1M1350 1089.5h1M1358 1089.5h1M1361 1089.5h2M1367 1089.5h1M1350 1090.5h1M1352 1090.5h1M1354 1090.5h1M1371 1090.5h1M1377 1090.5h1M1393 1090.5h1M1365 1091.5h1M1368 1091.5h1M1374 1091.5h3M1339 1092.5h1M1349 1092.5h1M1354 1092.5h1M1359 1092.5h1M1361 1092.5h1M1363 1092.5h1M1365 1092.5h1M1353 1093.5h1M1356 1093.5h1M1359 1093.5h1M1363 1093.5h1M1366 1093.5h1M1349 1094.5h1M1363 1094.5h1M1369 1094.5h1M1347 1095.5h1M1360 1095.5h1M1375 1095.5h1M1377 1095.5h1M1359 1096.5h1M1363 1096.5h1M1369 1096.5h1M1380 1096.5h1M1345 1097.5h1M1363 1097.5h1M1369 1097.5h1M1397 1097.5h1M1351 1098.5h1M1357 1098.5h1M1365 1098.5h1M1368 1098.5h2M1382 1098.5h1M1353 1099.5h1M1358 1099.5h2M1359 1100.5h1M1351 1102.5h1M1338 1103.5h1M1352 1106.5h1M1360 1106.5h1M1364 1109.5h1M1338 1111.5h1M1336 1115.5h1" stroke="#0000ff" stroke-width="1.4" fill="none"/>
<g fill="none" stroke="#000">
<rect x="1243.8" y="947.8" width="233.5" height="214.7" stroke-width="1.4"/>
<rect x="1250.1" y="951.7" width="221.8" height="208.0" stroke-width="1.4"/>
<path d="M1250.9 1158.9 L1471.9 953.2" stroke-width="1.1"/>
<path d="M1243.8 1162.5V1172.5M1255.9 1162.5V1172.5M1299.5 1162.5V1172.5M1350.9 1162.5V1172.5M1402.8 1162.5V1172.5M1455.6 1162.5V1172.5M1269.0 1162.5V1168.5M1276.7 1162.5V1168.5M1282.1 1162.5V1168.5M1286.3 1162.5V1168.5M1289.8 1162.5V1168.5M1292.7 1162.5V1168.5M1295.2 1162.5V1168.5M1297.5 1162.5V1168.5M1314.9 1162.5V1168.5M1324.0 1162.5V1168.5M1330.4 1162.5V1168.5M1335.4 1162.5V1168.5M1339.5 1162.5V1168.5M1343.0 1162.5V1168.5M1345.9 1162.5V1168.5M1348.6 1162.5V1168.5M1366.5 1162.5V1168.5M1375.7 1162.5V1168.5M1382.1 1162.5V1168.5M1387.2 1162.5V1168.5M1391.3 1162.5V1168.5M1394.7 1162.5V1168.5M1397.8 1162.5V1168.5M1400.4 1162.5V1168.5M1418.7 1162.5V1168.5M1428.0 1162.5V1168.5M1434.6 1162.5V1168.5M1439.7 1162.5V1168.5M1443.9 1162.5V1168.5M1447.4 1162.5V1168.5M1450.5 1162.5V1168.5M1453.2 1162.5V1168.5M1471.5 1162.5V1168.5M1476.8 1162.5V1168.5M1234.8 967.6H1243.8M1234.8 1015.6H1243.8M1234.8 1063.6H1243.8M1234.8 1110.3H1243.8M1234.8 1150.1H1243.8M1234.8 1162.5H1243.8M1239.3 953.2H1243.8M1234.8 952.3H1243.8M1239.3 1001.2H1243.8M1239.3 992.7H1243.8M1239.3 986.7H1243.8M1239.3 982.1H1243.8M1239.3 978.3H1243.8M1239.3 975.1H1243.8M1239.3 972.3H1243.8M1239.3 969.8H1243.8M1239.3 1049.2H1243.8M1239.3 1040.7H1243.8M1239.3 1034.7H1243.8M1239.3 1030.1H1243.8M1239.3 1026.3H1243.8M1239.3 1023.1H1243.8M1239.3 1020.3H1243.8M1239.3 1017.8H1243.8M1239.3 1096.3H1243.8M1239.3 1088.0H1243.8M1239.3 1082.2H1243.8M1239.3 1077.7H1243.8M1239.3 1074.0H1243.8M1239.3 1070.9H1243.8M1239.3 1068.2H1243.8M1239.3 1065.8H1243.8M1239.3 1138.1H1243.8M1239.3 1131.1H1243.8M1239.3 1126.1H1243.8M1239.3 1122.3H1243.8M1239.3 1119.1H1243.8M1239.3 1116.5H1243.8M1239.3 1114.2H1243.8M1239.3 1112.1H1243.8M1239.3 1153.1H1243.8M1239.3 1156.1H1243.8M1239.3 1159.1H1243.8M1234.8 1162.5H1243.8" stroke-width="1.1"/>
</g>
<g font-family="Liberation Sans, Arial, sans-serif"><text x="1241.8" y="1190.5" text-anchor="middle" font-size="10.5">0</text><text x="1252.4" y="1185.0" text-anchor="middle" font-size="10.5" textLength="9" lengthAdjust="spacingAndGlyphs">10</text><text x="1258.9" y="1178.0" font-size="8.5">1</text><text x="1296.0" y="1185.0" text-anchor="middle" font-size="10.5" textLength="9" lengthAdjust="spacingAndGlyphs">10</text><text x="1302.5" y="1178.0" font-size="8.5">2</text><text x="1347.4" y="1185.0" text-anchor="middle" font-size="10.5" textLength="9" lengthAdjust="spacingAndGlyphs">10</text><text x="1353.9" y="1178.0" font-size="8.5">3</text><text x="1399.3" y="1185.0" text-anchor="middle" font-size="10.5" textLength="9" lengthAdjust="spacingAndGlyphs">10</text><text x="1405.8" y="1178.0" font-size="8.5">4</text><text x="1452.1" y="1185.0" text-anchor="middle" font-size="10.5" textLength="9" lengthAdjust="spacingAndGlyphs">10</text><text x="1458.6" y="1178.0" font-size="8.5">5</text><text transform="translate(1233.0 974.2) rotate(-90)" font-size="10.5" textLength="9" lengthAdjust="spacingAndGlyphs">10</text><text transform="translate(1226.4 964.6) rotate(-90)" font-size="10">5</text><text transform="translate(1233.0 1022.2) rotate(-90)" font-size="10.5" textLength="9" lengthAdjust="spacingAndGlyphs">10</text><text transform="translate(1226.4 1012.6) rotate(-90)" font-size="10">4</text><text transform="translate(1233.0 1070.2) rotate(-90)" font-size="10.5" textLength="9" lengthAdjust="spacingAndGlyphs">10</text><text transform="translate(1226.4 1060.6) rotate(-90)" font-size="10">3</text><text transform="translate(1233.0 1116.9) rotate(-90)" font-size="10.5" textLength="9" lengthAdjust="spacingAndGlyphs">10</text><text transform="translate(1226.4 1107.3) rotate(-90)" font-size="10">2</text><text transform="translate(1233.0 1156.7) rotate(-90)" font-size="10.5" textLength="9" lengthAdjust="spacingAndGlyphs">10</text><text transform="translate(1226.4 1147.1) rotate(-90)" font-size="10">1</text><text transform="translate(1223.3 1162.5) rotate(-90)" text-anchor="middle" font-size="10.5">0</text><text x="1360.0" y="1201.5" text-anchor="middle" font-size="13">FITC-A</text><text transform="translate(1214.6 1054.0) rotate(-90)" text-anchor="middle" font-size="13">PE-A</text><text x="1311.3" y="1011.8" font-size="15.4" fill="#111">P6</text><text x="1416.9" y="1115.5" font-size="15.4" fill="#111">P7</text><text x="1262.2" y="1033.5" font-size="17" font-weight="bold" fill="#00b050" textLength="43.6" lengthAdjust="spacingAndGlyphs">56.7%</text><text x="1410.5" y="1083.8" font-size="17" font-weight="bold" fill="#3300e0" textLength="44.2" lengthAdjust="spacingAndGlyphs">43.3%</text></g>
<text x="1586.3" y="934.0" font-family="Liberation Sans, Arial, sans-serif" font-weight="bold" font-size="16.5" textLength="133.5" lengthAdjust="spacingAndGlyphs">50 µM CCCP (48 h)</text>
<clipPath id="c6f"><polygon points="1542.1,1159.7 1542.1,951.7 1763.9,951.7 1763.9,953.2 1542.9,1158.9"/></clipPath>
<clipPath id="c7f"><polygon points="1542.1,1159.7 1542.9,1158.9 1763.9,953.2 1763.9,951.7 1763.9,1159.7"/></clipPath>
<path d="M1657 965.5h1M1608 969.5h1M1660 972.5h1M1622 981.5h1M1647 986.5h1M1613 987.5h1M1645 994.5h1M1605 995.5h1M1633 995.5h1M1636 995.5h1M1659 996.5h1M1654 998.5h1M1637 1000.5h1M1661 1000.5h1M1605 1001.5h1M1671 1001.5h1M1635 1002.5h1M1641 1002.5h1M1646 1002.5h1M1658 1002.5h1M1664 1002.5h1M1676 1002.5h1M1657 1003.5h1M1666 1003.5h1M1643 1004.5h1M1650 1004.5h1M1639 1005.5h1M1642 1005.5h1M1660 1005.5h2M1638 1006.5h1M1643 1006.5h1M1648 1006.5h1M1662 1007.5h1M1680 1007.5h1M1619 1009.5h1M1644 1009.5h1M1665 1009.5h1M1645 1010.5h1M1649 1010.5h1M1651 1010.5h2M1666 1010.5h1M1633 1011.5h1M1645 1011.5h1M1678 1011.5h1M1687 1011.5h1M1638 1012.5h1M1669 1012.5h1M1647 1013.5h1M1632 1014.5h1M1639 1014.5h1M1647 1014.5h1M1654 1014.5h1M1661 1014.5h2M1622 1015.5h1M1643 1015.5h2M1655 1015.5h1M1658 1015.5h1M1647 1016.5h2M1658 1016.5h1M1664 1016.5h1M1680 1016.5h1M1619 1017.5h1M1626 1017.5h1M1632 1017.5h1M1634 1017.5h1M1641 1017.5h1M1653 1017.5h1M1657 1017.5h1M1659 1017.5h1M1667 1017.5h2M1681 1017.5h1M1642 1018.5h1M1645 1018.5h1M1655 1018.5h1M1658 1018.5h1M1660 1018.5h1M1662 1018.5h2M1670 1018.5h1M1681 1018.5h1M1607 1019.5h1M1628 1019.5h1M1642 1019.5h1M1650 1019.5h1M1653 1019.5h3M1662 1019.5h1M1666 1019.5h1M1680 1019.5h1M1685 1019.5h1M1628 1020.5h1M1649 1020.5h1M1652 1020.5h4M1658 1020.5h1M1663 1020.5h1M1667 1020.5h1M1623 1021.5h1M1635 1021.5h1M1640 1021.5h1M1644 1021.5h1M1653 1021.5h1M1663 1021.5h2M1668 1021.5h3M1672 1021.5h1M1674 1021.5h1M1631 1022.5h1M1639 1022.5h2M1650 1022.5h2M1653 1022.5h1M1655 1022.5h1M1657 1022.5h3M1662 1022.5h1M1667 1022.5h2M1673 1022.5h1M1635 1023.5h1M1639 1023.5h2M1646 1023.5h1M1655 1023.5h5M1665 1023.5h1M1668 1023.5h2M1671 1023.5h1M1674 1023.5h1M1620 1024.5h1M1633 1024.5h1M1644 1024.5h1M1646 1024.5h1M1651 1024.5h2M1656 1024.5h1M1658 1024.5h8M1676 1024.5h1M1621 1025.5h1M1635 1025.5h1M1637 1025.5h1M1643 1025.5h3M1649 1025.5h1M1652 1025.5h2M1660 1025.5h4M1665 1025.5h6M1681 1025.5h1M1635 1026.5h1M1644 1026.5h1M1650 1026.5h1M1653 1026.5h1M1655 1026.5h2M1658 1026.5h11M1670 1026.5h1M1672 1026.5h2M1676 1026.5h1M1620 1027.5h1M1634 1027.5h1M1637 1027.5h1M1643 1027.5h1M1645 1027.5h1M1648 1027.5h1M1650 1027.5h1M1652 1027.5h2M1657 1027.5h6M1664 1027.5h3M1668 1027.5h1M1670 1027.5h2M1673 1027.5h2M1638 1028.5h1M1644 1028.5h1M1647 1028.5h1M1649 1028.5h1M1651 1028.5h1M1654 1028.5h2M1657 1028.5h1M1659 1028.5h1M1661 1028.5h1M1663 1028.5h2M1666 1028.5h2M1670 1028.5h4M1675 1028.5h1M1633 1029.5h1M1637 1029.5h1M1639 1029.5h1M1647 1029.5h1M1649 1029.5h1M1652 1029.5h1M1656 1029.5h7M1664 1029.5h1M1666 1029.5h9M1676 1029.5h1M1680 1029.5h1M1636 1030.5h1M1642 1030.5h1M1644 1030.5h1M1647 1030.5h2M1652 1030.5h1M1655 1030.5h1M1657 1030.5h1M1659 1030.5h5M1665 1030.5h7M1675 1030.5h1M1678 1030.5h1M1632 1031.5h1M1636 1031.5h1M1640 1031.5h1M1643 1031.5h1M1645 1031.5h1M1649 1031.5h1M1652 1031.5h1M1656 1031.5h3M1660 1031.5h5M1666 1031.5h6M1617 1032.5h1M1632 1032.5h1M1637 1032.5h1M1641 1032.5h1M1649 1032.5h2M1652 1032.5h4M1657 1032.5h7M1665 1032.5h9M1675 1032.5h2M1623 1033.5h1M1625 1033.5h1M1637 1033.5h1M1643 1033.5h1M1646 1033.5h1M1648 1033.5h2M1652 1033.5h6M1660 1033.5h3M1664 1033.5h10M1676 1033.5h1M1641 1034.5h1M1643 1034.5h1M1649 1034.5h11M1661 1034.5h9M1674 1034.5h2M1627 1035.5h1M1639 1035.5h1M1644 1035.5h1M1647 1035.5h2M1650 1035.5h4M1655 1035.5h1M1657 1035.5h5M1665 1035.5h3M1669 1035.5h1M1671 1035.5h3M1624 1036.5h1M1626 1036.5h2M1636 1036.5h1M1638 1036.5h2M1648 1036.5h1M1651 1036.5h2M1654 1036.5h3M1658 1036.5h4M1663 1036.5h9M1632 1037.5h1M1636 1037.5h1M1643 1037.5h2M1646 1037.5h1M1649 1037.5h1M1652 1037.5h5M1661 1037.5h2M1665 1037.5h7M1633 1038.5h1M1636 1038.5h1M1640 1038.5h1M1646 1038.5h2M1649 1038.5h4M1654 1038.5h9M1664 1038.5h5M1614 1039.5h1M1633 1039.5h1M1637 1039.5h1M1646 1039.5h2M1649 1039.5h1M1651 1039.5h1M1653 1039.5h1M1655 1039.5h1M1658 1039.5h3M1662 1039.5h8M1642 1040.5h1M1650 1040.5h1M1652 1040.5h2M1655 1040.5h2M1659 1040.5h6M1666 1040.5h3M1632 1041.5h1M1637 1041.5h1M1641 1041.5h1M1644 1041.5h1M1648 1041.5h19M1627 1042.5h1M1636 1042.5h1M1642 1042.5h1M1648 1042.5h1M1650 1042.5h4M1656 1042.5h1M1658 1042.5h2M1661 1042.5h2M1664 1042.5h4M1621 1043.5h1M1636 1043.5h2M1641 1043.5h2M1646 1043.5h6M1653 1043.5h1M1655 1043.5h8M1664 1043.5h2M1641 1044.5h2M1644 1044.5h1M1646 1044.5h3M1650 1044.5h3M1654 1044.5h5M1660 1044.5h1M1662 1044.5h2M1644 1045.5h1M1646 1045.5h2M1649 1045.5h4M1656 1045.5h5M1663 1045.5h1M1650 1046.5h4M1655 1046.5h8M1641 1047.5h1M1645 1047.5h1M1648 1047.5h3M1652 1047.5h3M1657 1047.5h3M1607 1048.5h1M1635 1048.5h1M1640 1048.5h2M1648 1048.5h4M1653 1048.5h6M1660 1048.5h1M1644 1049.5h1M1647 1049.5h1M1650 1049.5h3M1654 1049.5h5M1624 1050.5h1M1644 1050.5h1M1646 1050.5h1M1652 1050.5h3M1656 1050.5h2M1617 1051.5h1M1626 1051.5h1M1647 1051.5h1M1649 1051.5h1M1651 1051.5h5M1646 1052.5h1M1651 1052.5h5M1645 1053.5h1M1647 1053.5h3M1653 1053.5h1M1594 1054.5h1M1649 1054.5h1M1651 1054.5h1M1632 1055.5h1M1647 1055.5h1M1651 1055.5h1M1649 1056.5h1M1646 1057.5h1M1649 1057.5h1M1630 1058.5h1M1637 1059.5h1M1643 1060.5h1M1647 1060.5h1M1619 1064.5h1M1611 1066.5h1" stroke="#00ff00" stroke-width="1.4" fill="none"/>
<path d="M1702 1021.5h1M1697 1025.5h1M1692 1027.5h1M1684 1028.5h1M1683 1030.5h1M1686 1030.5h1M1685 1031.5h1M1691 1031.5h1M1691 1032.5h1M1690 1033.5h1M1679 1034.5h1M1683 1034.5h1M1686 1035.5h2M1676 1036.5h1M1685 1036.5h1M1699 1036.5h1M1688 1037.5h1M1673 1038.5h3M1678 1038.5h1M1682 1038.5h1M1697 1038.5h1M1673 1039.5h2M1676 1039.5h2M1681 1039.5h1M1689 1039.5h1M1671 1040.5h1M1673 1040.5h1M1676 1040.5h2M1679 1040.5h1M1681 1040.5h1M1688 1040.5h1M1695 1040.5h1M1670 1041.5h4M1676 1041.5h1M1678 1041.5h1M1680 1041.5h1M1682 1041.5h1M1686 1041.5h2M1692 1041.5h1M1669 1042.5h1M1671 1042.5h7M1681 1042.5h1M1690 1042.5h1M1668 1043.5h5M1674 1043.5h4M1679 1043.5h3M1684 1043.5h1M1686 1043.5h1M1699 1043.5h1M1668 1044.5h4M1673 1044.5h3M1677 1044.5h4M1682 1044.5h1M1685 1044.5h1M1692 1044.5h1M1695 1044.5h1M1667 1045.5h10M1678 1045.5h2M1681 1045.5h1M1686 1045.5h1M1666 1046.5h1M1668 1046.5h7M1676 1046.5h4M1684 1046.5h1M1665 1047.5h11M1678 1047.5h5M1684 1047.5h2M1688 1047.5h1M1692 1047.5h1M1662 1048.5h16M1682 1048.5h1M1686 1048.5h1M1664 1049.5h14M1679 1049.5h4M1685 1049.5h1M1660 1050.5h19M1680 1050.5h2M1688 1050.5h1M1659 1051.5h1M1661 1051.5h13M1675 1051.5h7M1683 1051.5h1M1685 1051.5h1M1688 1051.5h1M1659 1052.5h1M1661 1052.5h2M1664 1052.5h14M1680 1052.5h2M1683 1052.5h1M1685 1052.5h1M1689 1052.5h1M1658 1053.5h24M1683 1053.5h2M1688 1053.5h1M1656 1054.5h1M1658 1054.5h15M1674 1054.5h9M1684 1054.5h1M1655 1055.5h26M1682 1055.5h4M1705 1055.5h1M1657 1056.5h24M1682 1056.5h1M1684 1056.5h1M1686 1056.5h2M1655 1057.5h28M1684 1057.5h2M1654 1058.5h25M1681 1058.5h1M1683 1058.5h3M1654 1059.5h3M1658 1059.5h26M1652 1060.5h1M1655 1060.5h26M1682 1060.5h2M1685 1060.5h1M1647 1061.5h1M1650 1061.5h1M1652 1061.5h34M1650 1062.5h1M1652 1062.5h1M1654 1062.5h7M1662 1062.5h21M1685 1062.5h1M1697 1062.5h1M1648 1063.5h1M1650 1063.5h2M1653 1063.5h2M1656 1063.5h4M1661 1063.5h23M1647 1064.5h1M1649 1064.5h1M1651 1064.5h30M1682 1064.5h2M1643 1065.5h1M1647 1065.5h2M1650 1065.5h1M1652 1065.5h1M1654 1065.5h21M1676 1065.5h8M1688 1065.5h1M1643 1066.5h1M1650 1066.5h1M1652 1066.5h30M1684 1066.5h1M1645 1067.5h1M1647 1067.5h1M1650 1067.5h1M1652 1067.5h33M1640 1068.5h3M1644 1068.5h2M1650 1068.5h32M1688 1068.5h1M1642 1069.5h1M1644 1069.5h2M1647 1069.5h2M1650 1069.5h1M1652 1069.5h30M1683 1069.5h2M1640 1070.5h5M1647 1070.5h35M1683 1070.5h1M1639 1071.5h1M1644 1071.5h6M1651 1071.5h30M1682 1071.5h2M1694 1071.5h1M1639 1072.5h2M1645 1072.5h1M1647 1072.5h35M1638 1073.5h3M1642 1073.5h2M1646 1073.5h32M1679 1073.5h3M1634 1074.5h1M1636 1074.5h1M1639 1074.5h1M1642 1074.5h1M1646 1074.5h2M1649 1074.5h4M1654 1074.5h25M1681 1074.5h2M1636 1075.5h3M1640 1075.5h2M1643 1075.5h1M1647 1075.5h34M1683 1075.5h1M1685 1075.5h1M1633 1076.5h2M1639 1076.5h1M1643 1076.5h1M1647 1076.5h1M1649 1076.5h14M1664 1076.5h16M1681 1076.5h1M1632 1077.5h2M1638 1077.5h1M1640 1077.5h2M1644 1077.5h34M1679 1077.5h1M1682 1077.5h1M1634 1078.5h3M1643 1078.5h1M1646 1078.5h1M1648 1078.5h30M1637 1079.5h3M1644 1079.5h30M1675 1079.5h4M1680 1079.5h2M1683 1079.5h1M1630 1080.5h1M1634 1080.5h3M1639 1080.5h3M1643 1080.5h3M1647 1080.5h30M1681 1080.5h1M1687 1080.5h1M1627 1081.5h4M1633 1081.5h2M1636 1081.5h2M1639 1081.5h1M1641 1081.5h2M1645 1081.5h32M1678 1081.5h2M1684 1081.5h1M1626 1082.5h1M1631 1082.5h1M1636 1082.5h1M1638 1082.5h1M1640 1082.5h1M1642 1082.5h1M1644 1082.5h19M1664 1082.5h11M1676 1082.5h6M1624 1083.5h1M1627 1083.5h1M1631 1083.5h1M1635 1083.5h2M1639 1083.5h2M1644 1083.5h1M1646 1083.5h32M1679 1083.5h2M1631 1084.5h3M1635 1084.5h1M1638 1084.5h2M1642 1084.5h1M1644 1084.5h19M1664 1084.5h2M1667 1084.5h8M1676 1084.5h2M1679 1084.5h2M1686 1084.5h1M1694 1084.5h1M1630 1085.5h2M1633 1085.5h2M1636 1085.5h1M1640 1085.5h3M1644 1085.5h4M1649 1085.5h27M1677 1085.5h2M1687 1085.5h1M1624 1086.5h1M1626 1086.5h1M1632 1086.5h1M1637 1086.5h1M1639 1086.5h1M1643 1086.5h3M1647 1086.5h3M1651 1086.5h24M1676 1086.5h1M1623 1087.5h1M1625 1087.5h1M1627 1087.5h1M1629 1087.5h1M1632 1087.5h1M1634 1087.5h1M1642 1087.5h36M1619 1088.5h1M1635 1088.5h1M1637 1088.5h1M1641 1088.5h4M1646 1088.5h17M1664 1088.5h10M1675 1088.5h1M1677 1088.5h2M1628 1089.5h1M1630 1089.5h2M1635 1089.5h3M1641 1089.5h1M1643 1089.5h13M1657 1089.5h18M1676 1089.5h2M1623 1090.5h1M1626 1090.5h1M1629 1090.5h1M1635 1090.5h1M1637 1090.5h6M1644 1090.5h31M1676 1090.5h1M1678 1090.5h1M1681 1090.5h1M1620 1091.5h1M1631 1091.5h1M1636 1091.5h1M1638 1091.5h1M1641 1091.5h20M1662 1091.5h15M1683 1091.5h1M1623 1092.5h2M1629 1092.5h1M1633 1092.5h1M1636 1092.5h2M1639 1092.5h1M1642 1092.5h2M1645 1092.5h30M1615 1093.5h1M1622 1093.5h1M1632 1093.5h1M1636 1093.5h1M1639 1093.5h1M1644 1093.5h28M1681 1093.5h1M1624 1094.5h1M1631 1094.5h1M1633 1094.5h1M1635 1094.5h1M1637 1094.5h3M1642 1094.5h15M1658 1094.5h14M1673 1094.5h2M1676 1094.5h1M1678 1094.5h1M1628 1095.5h1M1636 1095.5h2M1639 1095.5h3M1644 1095.5h28M1678 1095.5h1M1636 1096.5h1M1638 1096.5h1M1642 1096.5h8M1651 1096.5h22M1679 1096.5h2M1615 1097.5h1M1632 1097.5h1M1634 1097.5h3M1638 1097.5h3M1643 1097.5h31M1676 1097.5h1M1622 1098.5h1M1625 1098.5h1M1628 1098.5h1M1637 1098.5h2M1640 1098.5h29M1670 1098.5h1M1672 1098.5h2M1643 1099.5h27M1671 1099.5h1M1675 1099.5h1M1644 1100.5h27M1624 1101.5h1M1636 1101.5h2M1643 1101.5h3M1647 1101.5h23M1683 1101.5h1M1624 1102.5h1M1641 1102.5h3M1645 1102.5h26M1679 1102.5h1M1619 1103.5h1M1636 1103.5h1M1641 1103.5h1M1644 1103.5h1M1646 1103.5h20M1667 1103.5h4M1672 1103.5h1M1675 1103.5h1M1637 1104.5h1M1641 1104.5h1M1645 1104.5h9M1655 1104.5h12M1676 1104.5h1M1639 1105.5h1M1641 1105.5h4M1646 1105.5h21M1641 1106.5h1M1643 1106.5h3M1647 1106.5h21M1669 1106.5h1M1605 1107.5h1M1638 1107.5h1M1640 1107.5h1M1643 1107.5h1M1645 1107.5h20M1630 1108.5h1M1641 1108.5h2M1647 1108.5h1M1649 1108.5h10M1660 1108.5h6M1618 1109.5h1M1643 1109.5h2M1646 1109.5h16M1663 1109.5h3M1633 1110.5h1M1647 1110.5h8M1656 1110.5h1M1659 1110.5h2M1664 1110.5h2M1669 1110.5h1M1674 1110.5h1M1680 1110.5h1M1622 1111.5h1M1641 1111.5h1M1647 1111.5h1M1650 1111.5h11M1664 1111.5h1M1667 1111.5h1M1629 1112.5h1M1645 1112.5h1M1649 1112.5h3M1653 1112.5h8M1663 1112.5h1M1667 1112.5h1M1634 1113.5h1M1639 1113.5h1M1642 1113.5h6M1649 1113.5h6M1656 1113.5h4M1661 1113.5h1M1644 1114.5h2M1647 1114.5h2M1650 1114.5h5M1656 1114.5h3M1660 1114.5h1M1646 1115.5h2M1650 1115.5h1M1652 1115.5h3M1656 1115.5h1M1658 1115.5h2M1664 1115.5h1M1673 1115.5h1M1679 1115.5h1M1632 1116.5h1M1643 1116.5h1M1646 1116.5h2M1650 1116.5h1M1653 1116.5h2M1658 1116.5h1M1660 1116.5h1M1666 1116.5h1M1640 1117.5h1M1650 1117.5h1M1659 1117.5h2M1663 1117.5h1M1670 1117.5h1M1643 1118.5h1M1646 1118.5h1M1648 1118.5h1M1654 1118.5h1M1658 1118.5h1M1670 1118.5h1M1636 1119.5h1M1640 1119.5h1M1647 1119.5h1M1649 1119.5h1M1654 1119.5h1M1622 1120.5h1M1643 1120.5h1M1653 1120.5h3M1663 1120.5h1M1643 1121.5h2M1651 1121.5h1M1644 1122.5h1M1646 1122.5h1M1640 1123.5h2M1652 1123.5h2M1656 1123.5h1M1634 1124.5h1M1639 1124.5h1M1641 1124.5h1M1639 1125.5h1M1647 1125.5h1M1652 1125.5h1M1639 1126.5h2M1651 1126.5h1M1649 1127.5h1M1652 1127.5h1M1655 1127.5h1M1639 1128.5h1M1650 1128.5h1M1654 1128.5h1M1652 1130.5h1M1654 1131.5h1M1660 1131.5h1M1650 1132.5h1M1645 1134.5h1M1665 1138.5h1M1645 1142.5h1M1656 1146.5h1" stroke="#0000ff" stroke-width="1.4" fill="none"/>
<g fill="none" stroke="#000">
<rect x="1535.8" y="947.8" width="233.5" height="214.7" stroke-width="1.4"/>
<rect x="1542.1" y="951.7" width="221.8" height="208.0" stroke-width="1.4"/>
<path d="M1542.9 1158.9 L1763.9 953.2" stroke-width="1.1"/>
<path d="M1535.8 1162.5V1172.5M1547.9 1162.5V1172.5M1591.5 1162.5V1172.5M1642.9 1162.5V1172.5M1694.8 1162.5V1172.5M1747.6 1162.5V1172.5M1561.0 1162.5V1168.5M1568.7 1162.5V1168.5M1574.1 1162.5V1168.5M1578.3 1162.5V1168.5M1581.8 1162.5V1168.5M1584.7 1162.5V1168.5M1587.2 1162.5V1168.5M1589.5 1162.5V1168.5M1606.9 1162.5V1168.5M1616.0 1162.5V1168.5M1622.4 1162.5V1168.5M1627.4 1162.5V1168.5M1631.5 1162.5V1168.5M1635.0 1162.5V1168.5M1637.9 1162.5V1168.5M1640.6 1162.5V1168.5M1658.5 1162.5V1168.5M1667.7 1162.5V1168.5M1674.1 1162.5V1168.5M1679.2 1162.5V1168.5M1683.3 1162.5V1168.5M1686.7 1162.5V1168.5M1689.8 1162.5V1168.5M1692.4 1162.5V1168.5M1710.7 1162.5V1168.5M1720.0 1162.5V1168.5M1726.6 1162.5V1168.5M1731.7 1162.5V1168.5M1735.9 1162.5V1168.5M1739.4 1162.5V1168.5M1742.5 1162.5V1168.5M1745.2 1162.5V1168.5M1763.5 1162.5V1168.5M1768.8 1162.5V1168.5M1526.8 967.6H1535.8M1526.8 1015.6H1535.8M1526.8 1063.6H1535.8M1526.8 1110.3H1535.8M1526.8 1150.1H1535.8M1526.8 1162.5H1535.8M1531.3 953.2H1535.8M1526.8 952.3H1535.8M1531.3 1001.2H1535.8M1531.3 992.7H1535.8M1531.3 986.7H1535.8M1531.3 982.1H1535.8M1531.3 978.3H1535.8M1531.3 975.1H1535.8M1531.3 972.3H1535.8M1531.3 969.8H1535.8M1531.3 1049.2H1535.8M1531.3 1040.7H1535.8M1531.3 1034.7H1535.8M1531.3 1030.1H1535.8M1531.3 1026.3H1535.8M1531.3 1023.1H1535.8M1531.3 1020.3H1535.8M1531.3 1017.8H1535.8M1531.3 1096.3H1535.8M1531.3 1088.0H1535.8M1531.3 1082.2H1535.8M1531.3 1077.7H1535.8M1531.3 1074.0H1535.8M1531.3 1070.9H1535.8M1531.3 1068.2H1535.8M1531.3 1065.8H1535.8M1531.3 1138.1H1535.8M1531.3 1131.1H1535.8M1531.3 1126.1H1535.8M1531.3 1122.3H1535.8M1531.3 1119.1H1535.8M1531.3 1116.5H1535.8M1531.3 1114.2H1535.8M1531.3 1112.1H1535.8M1531.3 1153.1H1535.8M1531.3 1156.1H1535.8M1531.3 1159.1H1535.8M1526.8 1162.5H1535.8" stroke-width="1.1"/>
</g>
<g font-family="Liberation Sans, Arial, sans-serif"><text x="1533.8" y="1190.5" text-anchor="middle" font-size="10.5">0</text><text x="1544.4" y="1185.0" text-anchor="middle" font-size="10.5" textLength="9" lengthAdjust="spacingAndGlyphs">10</text><text x="1550.9" y="1178.0" font-size="8.5">1</text><text x="1588.0" y="1185.0" text-anchor="middle" font-size="10.5" textLength="9" lengthAdjust="spacingAndGlyphs">10</text><text x="1594.5" y="1178.0" font-size="8.5">2</text><text x="1639.4" y="1185.0" text-anchor="middle" font-size="10.5" textLength="9" lengthAdjust="spacingAndGlyphs">10</text><text x="1645.9" y="1178.0" font-size="8.5">3</text><text x="1691.3" y="1185.0" text-anchor="middle" font-size="10.5" textLength="9" lengthAdjust="spacingAndGlyphs">10</text><text x="1697.8" y="1178.0" font-size="8.5">4</text><text x="1744.1" y="1185.0" text-anchor="middle" font-size="10.5" textLength="9" lengthAdjust="spacingAndGlyphs">10</text><text x="1750.6" y="1178.0" font-size="8.5">5</text><text transform="translate(1525.0 974.2) rotate(-90)" font-size="10.5" textLength="9" lengthAdjust="spacingAndGlyphs">10</text><text transform="translate(1518.4 964.6) rotate(-90)" font-size="10">5</text><text transform="translate(1525.0 1022.2) rotate(-90)" font-size="10.5" textLength="9" lengthAdjust="spacingAndGlyphs">10</text><text transform="translate(1518.4 1012.6) rotate(-90)" font-size="10">4</text><text transform="translate(1525.0 1070.2) rotate(-90)" font-size="10.5" textLength="9" lengthAdjust="spacingAndGlyphs">10</text><text transform="translate(1518.4 1060.6) rotate(-90)" font-size="10">3</text><text transform="translate(1525.0 1116.9) rotate(-90)" font-size="10.5" textLength="9" lengthAdjust="spacingAndGlyphs">10</text><text transform="translate(1518.4 1107.3) rotate(-90)" font-size="10">2</text><text transform="translate(1525.0 1156.7) rotate(-90)" font-size="10.5" textLength="9" lengthAdjust="spacingAndGlyphs">10</text><text transform="translate(1518.4 1147.1) rotate(-90)" font-size="10">1</text><text transform="translate(1515.3 1162.5) rotate(-90)" text-anchor="middle" font-size="10.5">0</text><text x="1652.0" y="1201.5" text-anchor="middle" font-size="13">FITC-A</text><text transform="translate(1506.6 1054.0) rotate(-90)" text-anchor="middle" font-size="13">PE-A</text><text x="1603.3" y="1011.8" font-size="15.4" fill="#111">P6</text><text x="1708.9" y="1115.5" font-size="15.4" fill="#111">P7</text><text x="1566.1" y="1033.5" font-size="17" font-weight="bold" fill="#00b050" textLength="34.2" lengthAdjust="spacingAndGlyphs">6.8%</text><text x="1702.5" y="1083.8" font-size="17" font-weight="bold" fill="#3300e0" textLength="43.8" lengthAdjust="spacingAndGlyphs">93.4%</text></g>
<text x="111.2" y="1282.3" font-family="Liberation Sans, Arial, sans-serif" font-weight="bold" font-size="16.5" textLength="176.1" lengthAdjust="spacingAndGlyphs">5 µg/mL Apigenin (48 h)</text>
<clipPath id="c6g"><polygon points="82.7,1498.2 82.7,1307.0 304.9,1307.0 304.9,1308.5 138.7,1470.7 136.7,1472.6 134.7,1474.4 132.6,1476.2 130.5,1477.9 128.4,1479.5 126.3,1481.1 124.2,1482.6 122.0,1484.0 119.8,1485.4 117.6,1486.7 115.3,1488.0 113.0,1489.1 110.7,1490.2 108.4,1491.3 106.0,1492.3 103.6,1493.2 101.2,1494.0 98.7,1494.8 96.2,1495.5 93.7,1496.2 91.1,1496.8 88.5,1497.3 85.9,1497.8 83.2,1498.2"/></clipPath>
<clipPath id="c7g"><polygon points="82.7,1498.2 83.2,1498.2 85.9,1497.8 88.5,1497.3 91.1,1496.8 93.7,1496.2 96.2,1495.5 98.7,1494.8 101.2,1494.0 103.6,1493.2 106.0,1492.3 108.4,1491.3 110.7,1490.2 113.0,1489.1 115.3,1488.0 117.6,1486.7 119.8,1485.4 122.0,1484.0 124.2,1482.6 126.3,1481.1 128.4,1479.5 130.5,1477.9 132.6,1476.2 134.7,1474.4 136.7,1472.6 138.7,1470.7 304.9,1308.5 304.9,1307.0 304.9,1498.2"/></clipPath>
<path d="M191 1313.5h1M213 1319.5h1M177 1320.5h1M177 1321.5h1M240 1336.5h1M194 1337.5h1M224 1337.5h1M172 1339.5h1M220 1341.5h1M190 1342.5h1M209 1342.5h1M169 1344.5h2M255 1345.5h1M220 1350.5h1M251 1351.5h1M131 1352.5h1M183 1352.5h1M251 1352.5h1M235 1353.5h1M237 1353.5h2M245 1353.5h1M228 1354.5h1M234 1354.5h1M158 1355.5h1M183 1355.5h1M191 1355.5h1M198 1355.5h1M223 1355.5h1M234 1355.5h1M241 1355.5h1M230 1356.5h1M249 1356.5h1M213 1357.5h1M215 1357.5h2M229 1357.5h2M211 1358.5h1M217 1358.5h1M220 1358.5h1M225 1358.5h1M232 1358.5h1M243 1358.5h1M226 1359.5h1M234 1359.5h1M219 1360.5h1M233 1360.5h1M235 1360.5h1M165 1361.5h1M221 1361.5h2M227 1361.5h1M232 1361.5h1M244 1361.5h2M215 1362.5h3M221 1362.5h1M224 1362.5h1M227 1362.5h2M235 1362.5h2M239 1362.5h1M241 1362.5h1M245 1362.5h1M178 1363.5h1M211 1363.5h1M216 1363.5h1M220 1363.5h1M229 1363.5h1M243 1363.5h1M145 1364.5h1M196 1364.5h1M209 1364.5h1M211 1364.5h1M216 1364.5h1M218 1364.5h2M222 1364.5h1M230 1364.5h2M236 1364.5h1M196 1365.5h1M213 1365.5h1M215 1365.5h1M220 1365.5h1M227 1365.5h1M229 1365.5h1M233 1365.5h1M242 1365.5h2M173 1366.5h1M214 1366.5h3M220 1366.5h1M222 1366.5h1M227 1366.5h1M237 1366.5h1M195 1367.5h1M210 1367.5h1M220 1367.5h4M225 1367.5h1M227 1367.5h1M231 1367.5h3M235 1367.5h1M153 1368.5h1M210 1368.5h2M217 1368.5h1M219 1368.5h6M226 1368.5h3M230 1368.5h2M233 1368.5h2M237 1368.5h1M195 1369.5h1M198 1369.5h2M201 1369.5h1M214 1369.5h2M217 1369.5h9M227 1369.5h1M229 1369.5h3M233 1369.5h1M237 1369.5h3M201 1370.5h1M203 1370.5h2M209 1370.5h1M212 1370.5h5M218 1370.5h9M228 1370.5h2M231 1370.5h1M233 1370.5h2M198 1371.5h1M200 1371.5h3M205 1371.5h1M207 1371.5h1M210 1371.5h2M215 1371.5h18M234 1371.5h2M199 1372.5h1M202 1372.5h1M207 1372.5h1M210 1372.5h1M212 1372.5h6M219 1372.5h1M221 1372.5h3M225 1372.5h9M235 1372.5h1M237 1372.5h1M182 1373.5h1M194 1373.5h1M198 1373.5h1M207 1373.5h19M228 1373.5h1M230 1373.5h5M159 1374.5h1M162 1374.5h1M200 1374.5h1M206 1374.5h5M212 1374.5h4M217 1374.5h17M190 1375.5h1M194 1375.5h2M203 1375.5h3M207 1375.5h3M211 1375.5h1M213 1375.5h20M234 1375.5h1M187 1376.5h1M194 1376.5h1M197 1376.5h2M200 1376.5h2M204 1376.5h12M217 1376.5h4M222 1376.5h7M230 1376.5h3M234 1376.5h1M186 1377.5h1M199 1377.5h1M201 1377.5h1M203 1377.5h1M205 1377.5h28M197 1378.5h1M199 1378.5h34M121 1379.5h1M194 1379.5h1M196 1379.5h1M199 1379.5h1M201 1379.5h25M227 1379.5h4M183 1380.5h1M187 1380.5h1M196 1380.5h34M180 1381.5h1M182 1381.5h1M190 1381.5h2M194 1381.5h25M220 1381.5h10M185 1382.5h1M187 1382.5h2M191 1382.5h1M193 1382.5h9M203 1382.5h9M213 1382.5h15M168 1383.5h1M179 1383.5h2M188 1383.5h1M192 1383.5h33M226 1383.5h1M168 1384.5h1M191 1384.5h1M193 1384.5h1M195 1384.5h31M171 1385.5h1M183 1385.5h1M190 1385.5h3M195 1385.5h30M184 1386.5h1M187 1386.5h1M191 1386.5h1M193 1386.5h1M195 1386.5h29M174 1387.5h1M185 1387.5h1M187 1387.5h1M189 1387.5h1M191 1387.5h1M193 1387.5h30M178 1388.5h1M182 1388.5h1M186 1388.5h1M190 1388.5h28M219 1388.5h3M185 1389.5h2M189 1389.5h32M176 1390.5h1M183 1390.5h1M185 1390.5h2M188 1390.5h33M156 1391.5h1M168 1391.5h1M177 1391.5h1M184 1391.5h1M187 1391.5h32M129 1392.5h1M174 1392.5h3M181 1392.5h1M183 1392.5h1M186 1392.5h32M170 1393.5h1M181 1393.5h2M184 1393.5h33M161 1394.5h1M177 1394.5h2M181 1394.5h1M183 1394.5h16M200 1394.5h17M170 1395.5h2M174 1395.5h1M177 1395.5h1M179 1395.5h1M182 1395.5h33M167 1396.5h1M172 1396.5h1M174 1396.5h1M176 1396.5h1M179 1396.5h2M183 1396.5h31M171 1397.5h1M173 1397.5h1M177 1397.5h3M181 1397.5h1M183 1397.5h30M163 1398.5h1M170 1398.5h1M174 1398.5h1M177 1398.5h1M180 1398.5h9M190 1398.5h22M172 1399.5h1M175 1399.5h2M181 1399.5h10M192 1399.5h14M207 1399.5h4M173 1400.5h1M177 1400.5h1M179 1400.5h31M156 1401.5h1M163 1401.5h1M171 1401.5h1M177 1401.5h3M181 1401.5h28M180 1402.5h1M182 1402.5h12M195 1402.5h13M167 1403.5h1M172 1403.5h1M175 1403.5h1M178 1403.5h17M196 1403.5h1M198 1403.5h9M168 1404.5h1M171 1404.5h2M178 1404.5h2M181 1404.5h4M186 1404.5h20M175 1405.5h1M179 1405.5h1M181 1405.5h6M188 1405.5h17M179 1406.5h25M169 1407.5h1M179 1407.5h1M182 1407.5h14M197 1407.5h6M174 1408.5h1M179 1408.5h23M160 1409.5h1M165 1409.5h1M173 1409.5h1M176 1409.5h2M180 1409.5h21M175 1410.5h1M178 1410.5h21M156 1411.5h1M162 1411.5h1M171 1411.5h1M175 1411.5h1M181 1411.5h1M184 1411.5h2M187 1411.5h11M155 1412.5h1M165 1412.5h1M175 1412.5h1M178 1412.5h3M182 1412.5h2M185 1412.5h1M187 1412.5h4M193 1412.5h4M175 1413.5h1M179 1413.5h7M188 1413.5h4M193 1413.5h2M196 1413.5h1M164 1414.5h1M167 1414.5h2M182 1414.5h2M185 1414.5h1M187 1414.5h1M189 1414.5h1M191 1414.5h3M164 1415.5h1M171 1415.5h1M173 1415.5h1M182 1415.5h4M187 1415.5h1M189 1415.5h5M142 1416.5h1M171 1416.5h1M173 1416.5h1M181 1416.5h1M184 1416.5h3M188 1416.5h2M171 1417.5h3M176 1417.5h1M174 1418.5h1M177 1418.5h1M179 1418.5h1M188 1418.5h1M174 1419.5h2M183 1419.5h1M186 1419.5h1M133 1420.5h1M155 1420.5h1M169 1420.5h1M182 1420.5h1M169 1421.5h1M171 1421.5h2M179 1421.5h1M166 1422.5h1M179 1422.5h1M184 1422.5h1M187 1422.5h1M169 1423.5h1M182 1423.5h1M167 1424.5h1M179 1426.5h1M153 1427.5h1M180 1428.5h1M169 1430.5h1M173 1432.5h1M140 1441.5h1M166 1441.5h1" stroke="#00ff00" stroke-width="1.4" fill="none"/>
<path d="M272 1350.5h1M264 1354.5h1M265 1355.5h1M255 1357.5h1M266 1357.5h1M256 1363.5h1M249 1368.5h2M254 1369.5h2M259 1369.5h1M245 1371.5h1M253 1371.5h1M261 1371.5h1M242 1372.5h1M244 1372.5h1M246 1372.5h2M244 1373.5h1M248 1373.5h1M240 1374.5h1M242 1374.5h2M245 1374.5h1M247 1374.5h1M250 1374.5h1M245 1375.5h1M250 1375.5h2M239 1376.5h1M242 1376.5h1M244 1376.5h3M251 1376.5h1M254 1376.5h2M239 1377.5h1M241 1377.5h4M247 1377.5h1M251 1377.5h2M237 1378.5h1M239 1378.5h1M243 1378.5h3M248 1378.5h1M236 1379.5h1M239 1379.5h3M243 1379.5h3M236 1380.5h4M242 1380.5h5M254 1380.5h2M257 1380.5h1M235 1381.5h4M241 1381.5h3M245 1381.5h2M248 1381.5h1M254 1381.5h1M236 1382.5h7M244 1382.5h4M249 1382.5h1M230 1383.5h1M232 1383.5h1M235 1383.5h11M247 1383.5h2M232 1384.5h1M234 1384.5h13M249 1384.5h1M255 1384.5h1M231 1385.5h18M253 1385.5h1M231 1386.5h2M234 1386.5h10M245 1386.5h1M247 1386.5h1M227 1387.5h18M246 1387.5h1M248 1387.5h2M252 1387.5h1M254 1387.5h1M225 1388.5h2M228 1388.5h18M247 1388.5h1M224 1389.5h3M228 1389.5h21M224 1390.5h1M227 1390.5h19M224 1391.5h23M248 1391.5h1M222 1392.5h2M225 1392.5h1M227 1392.5h20M221 1393.5h1M223 1393.5h1M225 1393.5h23M224 1394.5h21M247 1394.5h1M251 1394.5h1M219 1395.5h25M245 1395.5h1M247 1395.5h1M250 1395.5h1M218 1396.5h7M226 1396.5h12M239 1396.5h4M245 1396.5h1M219 1397.5h25M245 1397.5h1M248 1397.5h1M268 1397.5h1M220 1398.5h25M246 1398.5h1M269 1398.5h1M217 1399.5h1M219 1399.5h1M221 1399.5h25M217 1400.5h1M219 1400.5h11M231 1400.5h9M241 1400.5h4M215 1401.5h2M219 1401.5h23M243 1401.5h1M218 1402.5h23M242 1402.5h1M247 1402.5h1M212 1403.5h1M215 1403.5h1M217 1403.5h18M237 1403.5h6M214 1404.5h28M246 1404.5h1M211 1405.5h1M213 1405.5h1M216 1405.5h6M223 1405.5h18M213 1406.5h2M216 1406.5h25M213 1407.5h28M258 1407.5h1M212 1408.5h1M214 1408.5h25M240 1408.5h1M208 1409.5h1M212 1409.5h5M218 1409.5h21M240 1409.5h2M210 1410.5h2M213 1410.5h18M232 1410.5h7M240 1410.5h2M243 1410.5h2M210 1411.5h26M237 1411.5h3M252 1411.5h1M200 1412.5h1M208 1412.5h30M239 1412.5h1M206 1413.5h3M210 1413.5h28M240 1413.5h1M206 1414.5h1M209 1414.5h28M239 1414.5h1M207 1415.5h1M209 1415.5h26M236 1415.5h2M239 1415.5h1M205 1416.5h32M199 1417.5h1M201 1417.5h1M206 1417.5h6M213 1417.5h25M241 1417.5h1M193 1418.5h1M206 1418.5h4M211 1418.5h24M199 1419.5h1M205 1419.5h29M237 1419.5h2M194 1420.5h1M202 1420.5h1M205 1420.5h1M207 1420.5h26M234 1420.5h1M198 1421.5h1M200 1421.5h1M204 1421.5h2M207 1421.5h28M240 1421.5h1M195 1422.5h1M206 1422.5h24M233 1422.5h1M239 1422.5h1M200 1423.5h1M204 1423.5h7M212 1423.5h19M232 1423.5h1M234 1423.5h1M238 1423.5h1M201 1424.5h1M203 1424.5h1M206 1424.5h12M219 1424.5h14M235 1424.5h1M237 1424.5h1M200 1425.5h1M203 1425.5h12M216 1425.5h16M253 1425.5h1M196 1426.5h1M198 1426.5h1M202 1426.5h27M230 1426.5h1M232 1426.5h1M237 1426.5h1M201 1427.5h2M204 1427.5h26M198 1428.5h2M202 1428.5h3M206 1428.5h24M237 1428.5h1M199 1429.5h5M205 1429.5h23M229 1429.5h1M236 1429.5h1M191 1430.5h1M199 1430.5h26M228 1430.5h1M198 1431.5h1M200 1431.5h22M223 1431.5h4M228 1431.5h1M240 1431.5h1M196 1432.5h1M199 1432.5h1M202 1432.5h19M222 1432.5h4M247 1432.5h1M189 1433.5h1M198 1433.5h1M200 1433.5h2M203 1433.5h18M222 1433.5h1M224 1433.5h3M228 1433.5h1M230 1433.5h2M239 1433.5h1M199 1434.5h25M225 1434.5h1M267 1434.5h1M199 1435.5h14M214 1435.5h7M197 1436.5h18M216 1436.5h6M223 1436.5h2M193 1437.5h1M196 1437.5h2M199 1437.5h21M221 1437.5h2M232 1437.5h1M197 1438.5h1M199 1438.5h1M201 1438.5h1M203 1438.5h18M222 1438.5h1M228 1438.5h1M231 1438.5h1M233 1438.5h1M239 1438.5h1M191 1439.5h1M197 1439.5h1M199 1439.5h20M221 1439.5h1M226 1439.5h1M193 1440.5h1M196 1440.5h1M199 1440.5h17M217 1440.5h1M219 1440.5h1M179 1441.5h1M196 1441.5h1M198 1441.5h1M200 1441.5h15M216 1441.5h1M218 1441.5h2M193 1442.5h1M195 1442.5h1M197 1442.5h21M220 1442.5h1M240 1442.5h1M196 1443.5h1M198 1443.5h2M201 1443.5h13M215 1443.5h2M218 1443.5h3M235 1443.5h1M198 1444.5h4M203 1444.5h9M213 1444.5h2M218 1444.5h1M194 1445.5h3M198 1445.5h13M212 1445.5h2M215 1445.5h1M220 1445.5h1M237 1445.5h1M191 1446.5h2M198 1446.5h17M219 1446.5h1M183 1447.5h1M191 1447.5h1M195 1447.5h13M209 1447.5h2M214 1447.5h1M195 1448.5h5M201 1448.5h3M205 1448.5h2M208 1448.5h4M222 1448.5h1M196 1449.5h1M198 1449.5h9M208 1449.5h3M213 1449.5h1M222 1449.5h1M227 1449.5h1M232 1449.5h1M245 1449.5h1M195 1450.5h2M199 1450.5h2M202 1450.5h3M206 1450.5h3M211 1450.5h1M218 1450.5h1M197 1451.5h1M202 1451.5h4M207 1451.5h3M211 1451.5h1M224 1451.5h1M195 1452.5h2M198 1452.5h2M201 1452.5h2M204 1452.5h3M208 1452.5h1M214 1452.5h1M198 1453.5h1M200 1453.5h2M203 1453.5h1M195 1454.5h1M197 1454.5h1M199 1454.5h2M202 1454.5h1M204 1454.5h1M207 1454.5h1M209 1454.5h1M215 1454.5h1M231 1454.5h1M191 1455.5h1M194 1455.5h3M198 1455.5h1M202 1455.5h1M204 1455.5h2M197 1456.5h1M199 1456.5h1M201 1456.5h1M180 1457.5h1M193 1457.5h1M196 1457.5h1M198 1457.5h2M184 1458.5h1M197 1458.5h3M203 1458.5h1M209 1458.5h1M189 1459.5h1M202 1459.5h2M192 1460.5h1M198 1460.5h1M200 1460.5h1M188 1461.5h1M190 1461.5h1M170 1462.5h1M191 1462.5h1M206 1462.5h1M192 1463.5h1M200 1463.5h1M183 1464.5h1M193 1464.5h1M214 1464.5h1M222 1464.5h1M186 1465.5h1M200 1465.5h1M203 1465.5h1M206 1466.5h1M209 1466.5h1M218 1466.5h1M191 1468.5h1M204 1468.5h1M184 1469.5h1M186 1469.5h1M201 1469.5h1M219 1469.5h1M196 1472.5h1M185 1474.5h1M236 1474.5h1M192 1477.5h1" stroke="#0000ff" stroke-width="1.4" fill="none"/>
<g fill="none" stroke="#000">
<rect x="76.5" y="1303.1" width="234.0" height="214.8" stroke-width="1.4"/>
<rect x="82.7" y="1307.0" width="222.2" height="191.1" stroke-width="1.4"/>
<path d="M83.2 1498.2 L85.9 1497.8 L88.5 1497.3 L91.1 1496.8 L93.7 1496.2 L96.2 1495.5 L98.7 1494.8 L101.2 1494.0 L103.6 1493.2 L106.0 1492.3 L108.4 1491.3 L110.7 1490.2 L113.0 1489.1 L115.3 1488.0 L117.6 1486.7 L119.8 1485.4 L122.0 1484.0 L124.2 1482.6 L126.3 1481.1 L128.4 1479.5 L130.5 1477.9 L132.6 1476.2 L134.7 1474.4 L136.7 1472.6 L138.7 1470.7 L304.9 1308.5" stroke-width="1.1"/>
<path d="M76.5 1517.9V1527.9M88.0 1517.9V1527.9M132.1 1517.9V1527.9M184.2 1517.9V1527.9M236.3 1517.9V1527.9M288.5 1517.9V1527.9M101.3 1517.9V1523.9M109.0 1517.9V1523.9M114.5 1517.9V1523.9M118.8 1517.9V1523.9M122.3 1517.9V1523.9M125.2 1517.9V1523.9M127.8 1517.9V1523.9M130.1 1517.9V1523.9M147.8 1517.9V1523.9M156.9 1517.9V1523.9M163.5 1517.9V1523.9M168.5 1517.9V1523.9M172.6 1517.9V1523.9M176.1 1517.9V1523.9M179.1 1517.9V1523.9M181.8 1517.9V1523.9M199.9 1517.9V1523.9M209.1 1517.9V1523.9M215.6 1517.9V1523.9M220.6 1517.9V1523.9M224.8 1517.9V1523.9M228.3 1517.9V1523.9M231.3 1517.9V1523.9M233.9 1517.9V1523.9M252.0 1517.9V1523.9M261.2 1517.9V1523.9M267.7 1517.9V1523.9M272.8 1517.9V1523.9M276.9 1517.9V1523.9M280.4 1517.9V1523.9M283.4 1517.9V1523.9M286.1 1517.9V1523.9M304.2 1517.9V1523.9M310.0 1517.9V1523.9M67.5 1322.8H76.5M67.5 1371.5H76.5M67.5 1420.1H76.5M67.5 1469.9H76.5M67.5 1498.4H76.5M67.5 1517.9H76.5M72.0 1308.2H76.5M67.5 1307.6H76.5M72.0 1356.8H76.5M72.0 1348.2H76.5M72.0 1342.2H76.5M72.0 1337.4H76.5M72.0 1333.6H76.5M72.0 1330.3H76.5M72.0 1327.5H76.5M72.0 1325.0H76.5M72.0 1405.5H76.5M72.0 1396.9H76.5M72.0 1390.8H76.5M72.0 1386.1H76.5M72.0 1382.2H76.5M72.0 1379.0H76.5M72.0 1376.2H76.5M72.0 1373.7H76.5M72.0 1454.9H76.5M72.0 1446.2H76.5M72.0 1439.9H76.5M72.0 1435.1H76.5M72.0 1431.2H76.5M72.0 1427.8H76.5M72.0 1424.9H76.5M72.0 1422.4H76.5M72.0 1472.9H76.5M72.0 1475.9H76.5M72.0 1478.9H76.5M72.0 1481.9H76.5M72.0 1484.9H76.5M72.0 1487.9H76.5M72.0 1490.9H76.5M72.0 1493.9H76.5M72.0 1496.9H76.5M72.0 1499.9H76.5M72.0 1502.9H76.5M72.0 1505.9H76.5M72.0 1508.9H76.5M72.0 1511.9H76.5M72.0 1514.9H76.5M67.5 1517.9H76.5" stroke-width="1.1"/>
</g>
<g font-family="Liberation Sans, Arial, sans-serif"><text x="74.5" y="1545.9" text-anchor="middle" font-size="10.5">0</text><text x="84.5" y="1540.4" text-anchor="middle" font-size="10.5" textLength="9" lengthAdjust="spacingAndGlyphs">10</text><text x="91.0" y="1533.4" font-size="8.5">1</text><text x="128.6" y="1540.4" text-anchor="middle" font-size="10.5" textLength="9" lengthAdjust="spacingAndGlyphs">10</text><text x="135.1" y="1533.4" font-size="8.5">2</text><text x="180.7" y="1540.4" text-anchor="middle" font-size="10.5" textLength="9" lengthAdjust="spacingAndGlyphs">10</text><text x="187.2" y="1533.4" font-size="8.5">3</text><text x="232.8" y="1540.4" text-anchor="middle" font-size="10.5" textLength="9" lengthAdjust="spacingAndGlyphs">10</text><text x="239.3" y="1533.4" font-size="8.5">4</text><text x="285.0" y="1540.4" text-anchor="middle" font-size="10.5" textLength="9" lengthAdjust="spacingAndGlyphs">10</text><text x="291.5" y="1533.4" font-size="8.5">5</text><text transform="translate(65.7 1329.4) rotate(-90)" font-size="10.5" textLength="9" lengthAdjust="spacingAndGlyphs">10</text><text transform="translate(59.1 1319.8) rotate(-90)" font-size="10">5</text><text transform="translate(65.7 1378.1) rotate(-90)" font-size="10.5" textLength="9" lengthAdjust="spacingAndGlyphs">10</text><text transform="translate(59.1 1368.5) rotate(-90)" font-size="10">4</text><text transform="translate(65.7 1426.7) rotate(-90)" font-size="10.5" textLength="9" lengthAdjust="spacingAndGlyphs">10</text><text transform="translate(59.1 1417.1) rotate(-90)" font-size="10">3</text><text transform="translate(65.7 1476.5) rotate(-90)" font-size="10.5" textLength="9" lengthAdjust="spacingAndGlyphs">10</text><text transform="translate(59.1 1466.9) rotate(-90)" font-size="10">2</text><text transform="translate(66.2 1498.4) rotate(-90)" text-anchor="middle" font-size="10.5">0</text><text transform="translate(56.0 1517.9) rotate(-90)" text-anchor="middle" font-size="10.5">-63</text><text x="193.0" y="1556.9" text-anchor="middle" font-size="13">FITC-A</text><text transform="translate(48.2 1409.7) rotate(-90)" text-anchor="middle" font-size="13">PE-A</text><text x="144.3" y="1358.7" font-size="15.4" fill="#111">P6</text><text x="249.5" y="1461.8" font-size="15.4" fill="#111">P7</text><text x="98.9" y="1402.7" font-size="17" font-weight="bold" fill="#00b050" textLength="42.9" lengthAdjust="spacingAndGlyphs">69.3%</text><text x="250.9" y="1427.1" font-size="17" font-weight="bold" fill="#3300e0" textLength="43.3" lengthAdjust="spacingAndGlyphs">31.1%</text></g>
<text x="384.9" y="1282.0" font-family="Liberation Sans, Arial, sans-serif" font-weight="bold" font-size="16.5" textLength="183.8" lengthAdjust="spacingAndGlyphs">10 µg/mL Apigenin (48 h)</text>
<clipPath id="c6h"><polygon points="374.3,1515.7 374.3,1307.9 596.6,1307.9 596.6,1309.4 375.1,1514.9"/></clipPath>
<clipPath id="c7h"><polygon points="374.3,1515.7 375.1,1514.9 596.6,1309.4 596.6,1307.9 596.6,1515.7"/></clipPath>
<path d="M472 1319.5h1M470 1320.5h1M561 1323.5h1M551 1328.5h1M483 1330.5h1M541 1331.5h1M530 1332.5h1M511 1334.5h1M523 1336.5h1M498 1337.5h1M460 1338.5h2M529 1339.5h1M537 1339.5h1M509 1341.5h1M514 1341.5h1M481 1342.5h1M542 1343.5h1M512 1344.5h1M515 1344.5h1M533 1344.5h1M509 1345.5h1M527 1345.5h1M528 1346.5h1M536 1346.5h1M524 1347.5h1M533 1348.5h1M514 1349.5h1M494 1350.5h1M514 1350.5h1M473 1351.5h1M479 1351.5h1M515 1351.5h1M519 1351.5h1M525 1351.5h1M510 1352.5h1M515 1352.5h1M517 1352.5h1M535 1352.5h1M539 1353.5h1M493 1354.5h1M498 1354.5h1M507 1354.5h1M513 1354.5h1M495 1355.5h1M501 1355.5h1M504 1355.5h1M526 1355.5h1M540 1355.5h1M493 1356.5h2M510 1356.5h1M510 1357.5h1M520 1357.5h1M524 1357.5h1M503 1358.5h1M518 1358.5h2M522 1358.5h1M524 1358.5h1M531 1358.5h1M495 1359.5h1M502 1359.5h1M508 1359.5h1M512 1359.5h1M514 1359.5h4M520 1359.5h1M522 1359.5h1M526 1359.5h1M531 1359.5h1M491 1360.5h1M494 1360.5h1M506 1360.5h2M509 1360.5h1M511 1360.5h1M520 1360.5h2M524 1360.5h1M533 1360.5h2M490 1361.5h1M499 1361.5h1M501 1361.5h1M507 1361.5h1M512 1361.5h2M517 1361.5h2M521 1361.5h1M523 1361.5h3M529 1361.5h1M533 1361.5h1M537 1361.5h1M502 1362.5h1M504 1362.5h2M507 1362.5h1M509 1362.5h3M513 1362.5h7M521 1362.5h1M523 1362.5h1M525 1362.5h2M535 1362.5h3M482 1363.5h1M497 1363.5h1M501 1363.5h3M506 1363.5h3M511 1363.5h2M514 1363.5h1M516 1363.5h7M524 1363.5h3M530 1363.5h1M484 1364.5h1M501 1364.5h2M504 1364.5h5M510 1364.5h1M512 1364.5h1M514 1364.5h1M517 1364.5h1M519 1364.5h2M522 1364.5h3M527 1364.5h1M530 1364.5h2M492 1365.5h1M498 1365.5h1M501 1365.5h4M507 1365.5h1M509 1365.5h1M511 1365.5h1M513 1365.5h3M519 1365.5h1M521 1365.5h2M524 1365.5h2M535 1365.5h1M494 1366.5h1M497 1366.5h1M499 1366.5h16M516 1366.5h4M521 1366.5h3M525 1366.5h2M530 1366.5h2M479 1367.5h1M494 1367.5h1M499 1367.5h1M501 1367.5h10M512 1367.5h1M515 1367.5h6M522 1367.5h2M525 1367.5h1M487 1368.5h2M492 1368.5h1M495 1368.5h2M498 1368.5h6M505 1368.5h4M510 1368.5h14M527 1368.5h3M455 1369.5h1M491 1369.5h4M496 1369.5h1M498 1369.5h8M508 1369.5h1M510 1369.5h6M517 1369.5h2M522 1369.5h3M526 1369.5h1M469 1370.5h1M477 1370.5h1M489 1370.5h1M493 1370.5h1M496 1370.5h3M500 1370.5h1M502 1370.5h4M507 1370.5h1M509 1370.5h4M514 1370.5h8M523 1370.5h2M528 1370.5h2M483 1371.5h1M486 1371.5h2M490 1371.5h2M496 1371.5h5M502 1371.5h5M508 1371.5h1M510 1371.5h2M513 1371.5h3M517 1371.5h8M526 1371.5h3M483 1372.5h1M488 1372.5h1M490 1372.5h1M492 1372.5h1M494 1372.5h12M507 1372.5h3M511 1372.5h6M518 1372.5h3M522 1372.5h1M486 1373.5h1M488 1373.5h1M490 1373.5h1M493 1373.5h19M513 1373.5h5M519 1373.5h5M526 1373.5h1M487 1374.5h1M489 1374.5h3M494 1374.5h3M498 1374.5h12M511 1374.5h3M515 1374.5h7M523 1374.5h1M471 1375.5h1M481 1375.5h4M490 1375.5h3M494 1375.5h2M498 1375.5h1M500 1375.5h20M521 1375.5h3M485 1376.5h1M487 1376.5h9M497 1376.5h2M502 1376.5h3M506 1376.5h3M511 1376.5h5M518 1376.5h4M482 1377.5h1M484 1377.5h1M486 1377.5h1M488 1377.5h1M490 1377.5h3M494 1377.5h2M497 1377.5h10M508 1377.5h5M514 1377.5h4M519 1377.5h3M465 1378.5h1M478 1378.5h1M482 1378.5h23M506 1378.5h1M508 1378.5h1M511 1378.5h10M455 1379.5h1M478 1379.5h1M481 1379.5h1M484 1379.5h1M486 1379.5h1M488 1379.5h9M498 1379.5h10M509 1379.5h2M512 1379.5h2M515 1379.5h5M478 1380.5h3M485 1380.5h2M488 1380.5h2M491 1380.5h23M516 1380.5h3M465 1381.5h1M477 1381.5h1M480 1381.5h1M483 1381.5h5M489 1381.5h4M494 1381.5h9M504 1381.5h1M506 1381.5h4M511 1381.5h3M515 1381.5h1M428 1382.5h1M477 1382.5h1M479 1382.5h1M481 1382.5h5M487 1382.5h2M490 1382.5h12M504 1382.5h5M510 1382.5h2M513 1382.5h1M515 1382.5h2M475 1383.5h2M478 1383.5h4M483 1383.5h1M485 1383.5h25M511 1383.5h4M470 1384.5h1M473 1384.5h2M476 1384.5h1M478 1384.5h20M499 1384.5h3M503 1384.5h7M511 1384.5h4M475 1385.5h1M479 1385.5h14M494 1385.5h14M509 1385.5h5M466 1386.5h1M476 1386.5h2M479 1386.5h15M495 1386.5h8M504 1386.5h7M512 1386.5h1M474 1387.5h1M476 1387.5h2M479 1387.5h9M490 1387.5h9M500 1387.5h6M507 1387.5h4M446 1388.5h1M460 1388.5h1M468 1388.5h1M471 1388.5h2M474 1388.5h1M477 1388.5h1M479 1388.5h7M487 1388.5h16M504 1388.5h6M474 1389.5h3M479 1389.5h2M483 1389.5h1M485 1389.5h18M504 1389.5h5M455 1390.5h1M467 1390.5h2M470 1390.5h1M472 1390.5h10M484 1390.5h8M493 1390.5h6M501 1390.5h6M469 1391.5h4M474 1391.5h21M496 1391.5h4M501 1391.5h7M465 1392.5h1M467 1392.5h1M472 1392.5h4M477 1392.5h10M488 1392.5h2M491 1392.5h15M458 1393.5h1M468 1393.5h1M470 1393.5h5M476 1393.5h1M478 1393.5h1M480 1393.5h8M489 1393.5h7M497 1393.5h3M501 1393.5h4M469 1394.5h4M474 1394.5h4M479 1394.5h1M481 1394.5h14M496 1394.5h4M501 1394.5h3M470 1395.5h13M484 1395.5h5M490 1395.5h1M493 1395.5h10M427 1396.5h1M468 1396.5h1M471 1396.5h1M473 1396.5h3M477 1396.5h6M484 1396.5h5M490 1396.5h12M466 1397.5h1M468 1397.5h1M470 1397.5h1M472 1397.5h9M482 1397.5h3M486 1397.5h15M461 1398.5h1M465 1398.5h2M469 1398.5h1M471 1398.5h1M473 1398.5h1M476 1398.5h4M482 1398.5h5M488 1398.5h6M495 1398.5h5M459 1399.5h2M467 1399.5h2M471 1399.5h2M474 1399.5h7M482 1399.5h1M484 1399.5h4M489 1399.5h9M456 1400.5h1M461 1400.5h1M463 1400.5h1M465 1400.5h1M467 1400.5h2M470 1400.5h2M473 1400.5h3M477 1400.5h1M479 1400.5h5M485 1400.5h6M494 1400.5h1M496 1400.5h1M454 1401.5h1M462 1401.5h1M464 1401.5h3M468 1401.5h2M471 1401.5h1M473 1401.5h1M475 1401.5h13M489 1401.5h4M495 1401.5h1M462 1402.5h2M469 1402.5h1M471 1402.5h6M480 1402.5h1M482 1402.5h1M484 1402.5h3M488 1402.5h1M490 1402.5h5M456 1403.5h1M460 1403.5h1M463 1403.5h1M468 1403.5h12M481 1403.5h1M483 1403.5h11M450 1404.5h1M458 1404.5h1M462 1404.5h1M464 1404.5h2M467 1404.5h6M475 1404.5h14M490 1404.5h1M492 1404.5h1M429 1405.5h1M464 1405.5h1M466 1405.5h1M469 1405.5h1M471 1405.5h12M484 1405.5h4M489 1405.5h1M461 1406.5h1M465 1406.5h1M467 1406.5h1M469 1406.5h2M472 1406.5h7M480 1406.5h3M484 1406.5h7M453 1407.5h1M456 1407.5h2M465 1407.5h1M468 1407.5h2M471 1407.5h1M473 1407.5h3M477 1407.5h8M486 1407.5h4M461 1408.5h1M467 1408.5h14M482 1408.5h6M451 1409.5h1M460 1409.5h1M462 1409.5h1M465 1409.5h2M468 1409.5h1M470 1409.5h1M472 1409.5h1M474 1409.5h5M481 1409.5h1M483 1409.5h1M486 1409.5h1M450 1410.5h1M460 1410.5h1M465 1410.5h1M467 1410.5h6M474 1410.5h3M479 1410.5h1M482 1410.5h2M485 1410.5h2M465 1411.5h2M468 1411.5h2M471 1411.5h2M475 1411.5h4M481 1411.5h1M484 1411.5h1M462 1412.5h1M464 1412.5h1M466 1412.5h2M472 1412.5h1M475 1412.5h1M477 1412.5h3M481 1412.5h1M440 1413.5h1M469 1413.5h1M471 1413.5h2M476 1413.5h3M482 1413.5h1M429 1414.5h1M459 1414.5h1M466 1414.5h1M469 1414.5h1M471 1414.5h1M473 1414.5h1M481 1414.5h1M467 1415.5h1M476 1415.5h1M478 1415.5h2M452 1416.5h1M474 1416.5h1M439 1417.5h1M474 1417.5h1M479 1417.5h1M443 1418.5h1M460 1418.5h1M466 1418.5h2M471 1418.5h1M465 1419.5h1M472 1419.5h1M476 1419.5h1M455 1420.5h1M462 1420.5h1M468 1420.5h1M473 1420.5h1M459 1421.5h1M469 1422.5h1M458 1423.5h1M470 1423.5h1M447 1424.5h1M451 1424.5h1M456 1424.5h1M465 1424.5h1M455 1426.5h1M465 1426.5h1M467 1426.5h1M433 1430.5h1M447 1430.5h1M454 1431.5h1" stroke="#00ff00" stroke-width="1.4" fill="none"/>
<path d="M558 1363.5h1M548 1366.5h2M539 1370.5h1M529 1373.5h1M534 1373.5h1M527 1375.5h1M529 1375.5h1M532 1375.5h1M525 1376.5h1M527 1376.5h1M542 1376.5h1M546 1376.5h1M526 1377.5h1M530 1377.5h1M554 1377.5h1M524 1378.5h1M536 1378.5h1M523 1379.5h1M525 1379.5h1M527 1379.5h1M529 1379.5h1M538 1379.5h1M521 1380.5h2M528 1380.5h2M531 1380.5h2M540 1380.5h1M545 1380.5h1M520 1381.5h1M522 1381.5h2M528 1381.5h1M530 1381.5h1M533 1381.5h1M520 1382.5h1M522 1382.5h3M527 1382.5h5M517 1383.5h1M519 1383.5h1M522 1383.5h3M526 1383.5h1M530 1383.5h1M534 1383.5h1M539 1383.5h1M546 1383.5h1M517 1384.5h3M521 1384.5h5M527 1384.5h1M531 1384.5h2M534 1384.5h1M516 1385.5h2M520 1385.5h1M522 1385.5h1M524 1385.5h2M527 1385.5h3M531 1385.5h1M533 1385.5h1M515 1386.5h10M526 1386.5h6M533 1386.5h2M536 1386.5h1M514 1387.5h15M530 1387.5h4M542 1387.5h1M512 1388.5h17M530 1388.5h2M533 1388.5h1M511 1389.5h19M531 1389.5h2M536 1389.5h1M545 1389.5h1M511 1390.5h19M531 1390.5h1M509 1391.5h25M508 1392.5h8M517 1392.5h14M532 1392.5h1M535 1392.5h1M507 1393.5h13M521 1393.5h9M532 1393.5h2M535 1393.5h1M545 1393.5h1M506 1394.5h26M534 1394.5h1M505 1395.5h30M537 1395.5h1M541 1395.5h1M548 1395.5h1M504 1396.5h24M529 1396.5h3M533 1396.5h1M535 1396.5h1M503 1397.5h14M518 1397.5h14M535 1397.5h1M537 1397.5h1M502 1398.5h31M501 1399.5h1M503 1399.5h23M527 1399.5h3M499 1400.5h15M515 1400.5h18M500 1401.5h2M503 1401.5h27M532 1401.5h2M496 1402.5h2M499 1402.5h14M514 1402.5h18M535 1402.5h1M537 1402.5h1M496 1403.5h11M508 1403.5h20M529 1403.5h1M531 1403.5h1M495 1404.5h1M497 1404.5h34M538 1404.5h1M495 1405.5h33M529 1405.5h2M533 1405.5h1M493 1406.5h30M524 1406.5h4M529 1406.5h3M541 1406.5h1M493 1407.5h34M528 1407.5h2M531 1407.5h1M492 1408.5h5M498 1408.5h20M519 1408.5h6M526 1408.5h2M529 1408.5h2M491 1409.5h36M528 1409.5h2M532 1409.5h1M535 1409.5h1M537 1409.5h1M489 1410.5h1M491 1410.5h8M500 1410.5h27M529 1410.5h1M489 1411.5h1M491 1411.5h16M508 1411.5h2M511 1411.5h8M520 1411.5h9M534 1411.5h2M488 1412.5h1M490 1412.5h10M501 1412.5h20M522 1412.5h3M526 1412.5h2M487 1413.5h2M490 1413.5h3M494 1413.5h31M526 1413.5h3M530 1413.5h1M534 1413.5h1M540 1413.5h1M488 1414.5h1M490 1414.5h12M503 1414.5h22M526 1414.5h2M487 1415.5h1M489 1415.5h36M526 1415.5h2M483 1416.5h1M486 1416.5h1M488 1416.5h1M490 1416.5h33M524 1416.5h4M552 1416.5h1M484 1417.5h41M527 1417.5h1M532 1417.5h1M482 1418.5h1M486 1418.5h23M510 1418.5h13M524 1418.5h1M526 1418.5h1M487 1419.5h38M530 1419.5h1M483 1420.5h1M485 1420.5h17M503 1420.5h14M518 1420.5h3M522 1420.5h3M526 1420.5h1M534 1420.5h1M482 1421.5h1M484 1421.5h40M526 1421.5h1M483 1422.5h6M490 1422.5h34M479 1423.5h1M482 1423.5h1M484 1423.5h28M513 1423.5h6M520 1423.5h2M524 1423.5h1M477 1424.5h1M481 1424.5h1M483 1424.5h3M487 1424.5h35M523 1424.5h1M525 1424.5h3M484 1425.5h37M522 1425.5h1M525 1425.5h1M540 1425.5h1M475 1426.5h1M483 1426.5h7M491 1426.5h17M509 1426.5h13M527 1426.5h1M482 1427.5h2M485 1427.5h32M520 1427.5h1M523 1427.5h2M474 1428.5h1M481 1428.5h37M530 1428.5h1M480 1429.5h1M482 1429.5h1M484 1429.5h34M482 1430.5h18M501 1430.5h16M518 1430.5h1M478 1431.5h1M481 1431.5h1M483 1431.5h36M475 1432.5h1M477 1432.5h1M480 1432.5h35M518 1432.5h1M480 1433.5h8M489 1433.5h21M511 1433.5h4M518 1433.5h1M475 1434.5h1M480 1434.5h1M483 1434.5h29M513 1434.5h1M527 1434.5h1M478 1435.5h1M480 1435.5h33M543 1435.5h1M479 1436.5h26M506 1436.5h5M512 1436.5h4M519 1436.5h1M477 1437.5h1M479 1437.5h14M494 1437.5h17M512 1437.5h1M514 1437.5h1M517 1437.5h1M467 1438.5h1M479 1438.5h2M482 1438.5h6M489 1438.5h17M507 1438.5h3M511 1438.5h1M513 1438.5h4M476 1439.5h1M478 1439.5h2M481 1439.5h30M512 1439.5h1M516 1439.5h1M478 1440.5h1M481 1440.5h27M518 1440.5h1M479 1441.5h27M507 1441.5h2M513 1441.5h1M463 1442.5h1M477 1442.5h1M479 1442.5h3M484 1442.5h21M507 1442.5h1M509 1442.5h1M513 1442.5h1M515 1442.5h1M473 1443.5h1M478 1443.5h3M482 1443.5h15M498 1443.5h4M503 1443.5h1M505 1443.5h1M510 1443.5h1M475 1444.5h1M477 1444.5h1M480 1444.5h23M504 1444.5h1M506 1444.5h2M518 1444.5h1M465 1445.5h2M476 1445.5h2M480 1445.5h25M506 1445.5h2M511 1445.5h1M513 1445.5h1M480 1446.5h1M483 1446.5h1M485 1446.5h12M498 1446.5h2M501 1446.5h1M480 1447.5h1M482 1447.5h1M486 1447.5h1M488 1447.5h3M492 1447.5h9M502 1447.5h3M510 1447.5h1M478 1448.5h1M480 1448.5h2M483 1448.5h15M499 1448.5h1M501 1448.5h1M504 1448.5h1M507 1448.5h1M478 1449.5h1M480 1449.5h1M484 1449.5h1M486 1449.5h4M491 1449.5h3M498 1449.5h1M533 1449.5h1M472 1450.5h1M479 1450.5h1M481 1450.5h1M483 1450.5h2M486 1450.5h1M488 1450.5h4M493 1450.5h1M495 1450.5h6M506 1450.5h1M508 1450.5h1M465 1451.5h1M478 1451.5h1M482 1451.5h4M488 1451.5h2M492 1451.5h2M495 1451.5h3M499 1451.5h1M465 1452.5h1M469 1452.5h1M472 1452.5h1M480 1452.5h1M482 1452.5h1M484 1452.5h2M487 1452.5h6M495 1452.5h3M510 1452.5h2M474 1453.5h1M479 1453.5h1M486 1453.5h1M488 1453.5h2M491 1453.5h1M493 1453.5h1M495 1453.5h1M478 1454.5h1M483 1454.5h2M487 1454.5h2M491 1454.5h2M504 1454.5h1M477 1455.5h1M483 1455.5h3M491 1455.5h1M494 1455.5h2M497 1455.5h1M471 1456.5h1M486 1456.5h1M489 1456.5h2M472 1457.5h1M485 1457.5h2M488 1457.5h3M466 1458.5h1M468 1458.5h1M477 1458.5h1M493 1458.5h1M475 1459.5h1M484 1460.5h1M488 1460.5h1M497 1460.5h1M485 1461.5h2M489 1461.5h3M495 1461.5h1M512 1461.5h1M460 1462.5h1M465 1462.5h1M477 1462.5h1M492 1462.5h1M461 1463.5h1M473 1463.5h1M482 1463.5h2M474 1464.5h1M482 1464.5h1M500 1464.5h1M477 1465.5h1M497 1465.5h1M500 1465.5h1M474 1466.5h1M462 1467.5h1M473 1467.5h1M484 1468.5h1M498 1468.5h1M484 1469.5h1M483 1470.5h1M474 1471.5h1M477 1471.5h1M481 1471.5h1M475 1472.5h1M485 1472.5h1M508 1472.5h1M477 1474.5h1M469 1475.5h1M469 1485.5h1M459 1491.5h1" stroke="#0000ff" stroke-width="1.4" fill="none"/>
<g fill="none" stroke="#000">
<rect x="367.9" y="1303.9" width="233.7" height="214.3" stroke-width="1.4"/>
<rect x="374.3" y="1307.9" width="222.3" height="207.8" stroke-width="1.4"/>
<path d="M375.1 1514.9 L596.6 1309.4" stroke-width="1.1"/>
<path d="M367.9 1518.3V1528.3M380.5 1518.3V1528.3M423.5 1518.3V1528.3M475.4 1518.3V1528.3M527.1 1518.3V1528.3M580.3 1518.3V1528.3M393.4 1518.3V1524.3M401.0 1518.3V1524.3M406.4 1518.3V1524.3M410.5 1518.3V1524.3M413.9 1518.3V1524.3M416.8 1518.3V1524.3M419.3 1518.3V1524.3M421.5 1518.3V1524.3M439.1 1518.3V1524.3M448.2 1518.3V1524.3M454.7 1518.3V1524.3M459.8 1518.3V1524.3M463.9 1518.3V1524.3M467.3 1518.3V1524.3M470.4 1518.3V1524.3M473.0 1518.3V1524.3M491.0 1518.3V1524.3M500.1 1518.3V1524.3M506.5 1518.3V1524.3M511.6 1518.3V1524.3M515.6 1518.3V1524.3M519.1 1518.3V1524.3M522.1 1518.3V1524.3M524.8 1518.3V1524.3M543.1 1518.3V1524.3M552.5 1518.3V1524.3M559.1 1518.3V1524.3M564.3 1518.3V1524.3M568.5 1518.3V1524.3M572.0 1518.3V1524.3M575.1 1518.3V1524.3M577.8 1518.3V1524.3M596.3 1518.3V1524.3M601.1 1518.3V1524.3M358.9 1323.9H367.9M358.9 1371.9H367.9M358.9 1419.8H367.9M358.9 1466.3H367.9M358.9 1505.7H367.9M358.9 1518.3H367.9M363.4 1309.5H367.9M358.9 1308.4H367.9M363.4 1357.4H367.9M363.4 1349.0H367.9M363.4 1343.0H367.9M363.4 1338.3H367.9M363.4 1334.5H367.9M363.4 1331.3H367.9M363.4 1328.6H367.9M363.4 1326.1H367.9M363.4 1405.4H367.9M363.4 1396.9H367.9M363.4 1390.9H367.9M363.4 1386.3H367.9M363.4 1382.5H367.9M363.4 1379.3H367.9M363.4 1376.5H367.9M363.4 1374.0H367.9M363.4 1452.3H367.9M363.4 1444.1H367.9M363.4 1438.3H367.9M363.4 1433.8H367.9M363.4 1430.1H367.9M363.4 1427.0H367.9M363.4 1424.3H367.9M363.4 1421.9H367.9M363.4 1493.8H367.9M363.4 1486.9H367.9M363.4 1482.0H367.9M363.4 1478.2H367.9M363.4 1475.1H367.9M363.4 1472.4H367.9M363.4 1470.2H367.9M363.4 1468.1H367.9M363.4 1508.7H367.9M363.4 1511.7H367.9M363.4 1514.7H367.9M358.9 1518.3H367.9" stroke-width="1.1"/>
</g>
<g font-family="Liberation Sans, Arial, sans-serif"><text x="365.9" y="1546.3" text-anchor="middle" font-size="10.5">0</text><text x="377.0" y="1540.8" text-anchor="middle" font-size="10.5" textLength="9" lengthAdjust="spacingAndGlyphs">10</text><text x="383.5" y="1533.8" font-size="8.5">1</text><text x="420.0" y="1540.8" text-anchor="middle" font-size="10.5" textLength="9" lengthAdjust="spacingAndGlyphs">10</text><text x="426.5" y="1533.8" font-size="8.5">2</text><text x="471.9" y="1540.8" text-anchor="middle" font-size="10.5" textLength="9" lengthAdjust="spacingAndGlyphs">10</text><text x="478.4" y="1533.8" font-size="8.5">3</text><text x="523.6" y="1540.8" text-anchor="middle" font-size="10.5" textLength="9" lengthAdjust="spacingAndGlyphs">10</text><text x="530.1" y="1533.8" font-size="8.5">4</text><text x="576.8" y="1540.8" text-anchor="middle" font-size="10.5" textLength="9" lengthAdjust="spacingAndGlyphs">10</text><text x="583.3" y="1533.8" font-size="8.5">5</text><text transform="translate(357.1 1330.5) rotate(-90)" font-size="10.5" textLength="9" lengthAdjust="spacingAndGlyphs">10</text><text transform="translate(350.5 1320.9) rotate(-90)" font-size="10">5</text><text transform="translate(357.1 1378.5) rotate(-90)" font-size="10.5" textLength="9" lengthAdjust="spacingAndGlyphs">10</text><text transform="translate(350.5 1368.9) rotate(-90)" font-size="10">4</text><text transform="translate(357.1 1426.4) rotate(-90)" font-size="10.5" textLength="9" lengthAdjust="spacingAndGlyphs">10</text><text transform="translate(350.5 1416.8) rotate(-90)" font-size="10">3</text><text transform="translate(357.1 1472.9) rotate(-90)" font-size="10.5" textLength="9" lengthAdjust="spacingAndGlyphs">10</text><text transform="translate(350.5 1463.3) rotate(-90)" font-size="10">2</text><text transform="translate(357.1 1512.3) rotate(-90)" font-size="10.5" textLength="9" lengthAdjust="spacingAndGlyphs">10</text><text transform="translate(350.5 1502.7) rotate(-90)" font-size="10">1</text><text transform="translate(347.4 1518.3) rotate(-90)" text-anchor="middle" font-size="10.5">0</text><text x="484.3" y="1557.3" text-anchor="middle" font-size="13">FITC-A</text><text transform="translate(340.0 1409.8) rotate(-90)" text-anchor="middle" font-size="13">PE-A</text><text x="436.6" y="1367.9" font-size="15.4" fill="#111">P6</text><text x="541.5" y="1471.3" font-size="15.4" fill="#111">P7</text><text x="391.5" y="1402.8" font-size="17" font-weight="bold" fill="#00b050" textLength="43.5" lengthAdjust="spacingAndGlyphs">32.6%</text><text x="539.3" y="1427.4" font-size="17" font-weight="bold" fill="#3300e0" textLength="43.9" lengthAdjust="spacingAndGlyphs">67.8%</text></g>
<text x="678.3" y="1282.0" font-family="Liberation Sans, Arial, sans-serif" font-weight="bold" font-size="16.5" textLength="183.8" lengthAdjust="spacingAndGlyphs">15 µg/mL Apigenin (48 h)</text>
<clipPath id="c6i"><polygon points="677.9,1493.3 677.9,1307.9 887.3,1307.9 887.3,1309.4 733.9,1465.8 731.9,1467.7 729.9,1469.5 727.8,1471.3 725.7,1473.0 723.6,1474.7 721.5,1476.2 719.4,1477.7 717.2,1479.2 715.0,1480.5 712.8,1481.8 710.5,1483.1 708.2,1484.2 705.9,1485.4 703.6,1486.4 701.2,1487.4 698.8,1488.3 696.4,1489.1 693.9,1489.9 691.4,1490.6 688.9,1491.3 686.3,1491.9 683.7,1492.4 681.1,1492.9 678.4,1493.3"/></clipPath>
<clipPath id="c7i"><polygon points="677.9,1493.3 678.4,1493.3 681.1,1492.9 683.7,1492.4 686.3,1491.9 688.9,1491.3 691.4,1490.6 693.9,1489.9 696.4,1489.1 698.8,1488.3 701.2,1487.4 703.6,1486.4 705.9,1485.4 708.2,1484.2 710.5,1483.1 712.8,1481.8 715.0,1480.5 717.2,1479.2 719.4,1477.7 721.5,1476.2 723.6,1474.7 725.7,1473.0 727.8,1471.3 729.9,1469.5 731.9,1467.7 733.9,1465.8 887.3,1309.4 887.3,1307.9 887.3,1493.3"/></clipPath>
<path d="M802 1330.5h1M769 1332.5h1M817 1337.5h1M778 1338.5h1M800 1340.5h1M815 1340.5h1M818 1340.5h1M830 1340.5h1M811 1341.5h1M802 1342.5h1M806 1342.5h1M811 1342.5h1M824 1342.5h1M838 1342.5h1M818 1343.5h1M830 1344.5h1M783 1345.5h1M796 1345.5h1M801 1345.5h1M803 1345.5h1M792 1346.5h1M795 1346.5h1M810 1346.5h1M763 1347.5h1M799 1347.5h1M757 1348.5h1M789 1348.5h1M814 1348.5h1M823 1348.5h1M830 1348.5h1M802 1349.5h1M805 1349.5h1M815 1349.5h1M802 1350.5h1M806 1350.5h1M811 1350.5h1M756 1351.5h1M794 1351.5h1M801 1351.5h1M806 1351.5h1M809 1351.5h1M815 1351.5h1M817 1351.5h1M764 1352.5h1M798 1352.5h1M806 1352.5h1M810 1352.5h1M814 1352.5h1M820 1352.5h1M828 1352.5h1M789 1353.5h1M801 1353.5h1M815 1353.5h1M821 1353.5h1M829 1353.5h1M734 1354.5h1M792 1354.5h2M797 1354.5h3M806 1354.5h1M815 1354.5h1M819 1354.5h1M787 1355.5h1M793 1355.5h1M804 1355.5h2M809 1355.5h1M811 1355.5h1M813 1355.5h1M816 1355.5h2M819 1355.5h1M822 1355.5h1M824 1355.5h1M795 1356.5h1M808 1356.5h1M810 1356.5h1M812 1356.5h3M817 1356.5h3M821 1356.5h1M831 1356.5h1M781 1357.5h1M788 1357.5h1M797 1357.5h1M800 1357.5h1M803 1357.5h2M807 1357.5h1M811 1357.5h2M814 1357.5h1M818 1357.5h1M822 1357.5h1M781 1358.5h1M784 1358.5h1M788 1358.5h1M797 1358.5h1M800 1358.5h3M804 1358.5h1M809 1358.5h5M815 1358.5h1M818 1358.5h1M821 1358.5h1M783 1359.5h1M795 1359.5h1M799 1359.5h1M801 1359.5h1M805 1359.5h2M808 1359.5h2M813 1359.5h1M815 1359.5h6M823 1359.5h2M826 1359.5h1M785 1360.5h2M790 1360.5h2M794 1360.5h1M798 1360.5h2M801 1360.5h8M812 1360.5h2M816 1360.5h2M821 1360.5h2M830 1360.5h1M774 1361.5h1M779 1361.5h1M782 1361.5h1M784 1361.5h1M789 1361.5h2M792 1361.5h1M797 1361.5h1M799 1361.5h2M802 1361.5h1M805 1361.5h1M807 1361.5h6M814 1361.5h2M817 1361.5h1M819 1361.5h1M823 1361.5h1M828 1361.5h1M772 1362.5h1M787 1362.5h1M792 1362.5h4M797 1362.5h1M800 1362.5h3M804 1362.5h3M809 1362.5h1M811 1362.5h3M819 1362.5h1M822 1362.5h1M824 1362.5h1M749 1363.5h1M774 1363.5h1M781 1363.5h1M789 1363.5h3M793 1363.5h2M796 1363.5h7M806 1363.5h4M816 1363.5h2M819 1363.5h1M823 1363.5h2M829 1363.5h1M785 1364.5h1M791 1364.5h1M794 1364.5h3M799 1364.5h1M801 1364.5h2M804 1364.5h3M808 1364.5h3M812 1364.5h4M817 1364.5h4M822 1364.5h1M779 1365.5h1M784 1365.5h1M786 1365.5h2M790 1365.5h1M793 1365.5h1M795 1365.5h1M797 1365.5h2M801 1365.5h3M805 1365.5h3M810 1365.5h1M812 1365.5h1M818 1365.5h2M821 1365.5h2M824 1365.5h1M771 1366.5h1M773 1366.5h1M780 1366.5h1M782 1366.5h2M786 1366.5h1M790 1366.5h1M792 1366.5h5M804 1366.5h3M808 1366.5h6M815 1366.5h1M817 1366.5h3M822 1366.5h1M763 1367.5h1M766 1367.5h1M770 1367.5h1M777 1367.5h1M781 1367.5h1M783 1367.5h2M788 1367.5h4M793 1367.5h2M796 1367.5h2M799 1367.5h5M805 1367.5h4M811 1367.5h1M813 1367.5h6M822 1367.5h1M824 1367.5h1M828 1367.5h1M755 1368.5h1M761 1368.5h1M766 1368.5h1M774 1368.5h1M779 1368.5h1M788 1368.5h7M797 1368.5h1M800 1368.5h2M806 1368.5h2M809 1368.5h1M811 1368.5h2M814 1368.5h1M816 1368.5h1M818 1368.5h1M821 1368.5h1M773 1369.5h1M776 1369.5h1M779 1369.5h1M786 1369.5h4M791 1369.5h6M799 1369.5h4M804 1369.5h3M809 1369.5h2M812 1369.5h1M815 1369.5h4M741 1370.5h1M751 1370.5h1M770 1370.5h2M779 1370.5h1M781 1370.5h1M786 1370.5h6M793 1370.5h4M800 1370.5h2M804 1370.5h1M806 1370.5h6M814 1370.5h3M769 1371.5h1M774 1371.5h2M781 1371.5h6M788 1371.5h10M800 1371.5h9M810 1371.5h1M815 1371.5h5M822 1371.5h1M778 1372.5h2M782 1372.5h1M784 1372.5h2M787 1372.5h13M801 1372.5h2M804 1372.5h3M809 1372.5h1M812 1372.5h3M817 1372.5h1M819 1372.5h1M765 1373.5h1M771 1373.5h1M774 1373.5h1M778 1373.5h2M781 1373.5h1M788 1373.5h12M803 1373.5h2M807 1373.5h4M818 1373.5h1M822 1373.5h1M770 1374.5h1M779 1374.5h1M782 1374.5h20M806 1374.5h1M809 1374.5h1M814 1374.5h2M821 1374.5h1M774 1375.5h2M779 1375.5h2M782 1375.5h2M786 1375.5h1M788 1375.5h13M802 1375.5h1M804 1375.5h1M809 1375.5h4M814 1375.5h2M817 1375.5h1M769 1376.5h3M774 1376.5h1M777 1376.5h4M784 1376.5h1M787 1376.5h13M802 1376.5h1M804 1376.5h1M806 1376.5h3M810 1376.5h2M813 1376.5h1M816 1376.5h1M818 1376.5h1M767 1377.5h1M776 1377.5h1M778 1377.5h1M780 1377.5h1M782 1377.5h3M786 1377.5h1M788 1377.5h12M801 1377.5h1M803 1377.5h4M809 1377.5h1M814 1377.5h1M817 1377.5h2M768 1378.5h1M775 1378.5h1M777 1378.5h2M780 1378.5h8M789 1378.5h10M800 1378.5h2M804 1378.5h3M808 1378.5h4M813 1378.5h2M817 1378.5h1M762 1379.5h1M764 1379.5h1M773 1379.5h1M776 1379.5h8M787 1379.5h13M801 1379.5h3M806 1379.5h1M809 1379.5h4M814 1379.5h1M816 1379.5h1M769 1380.5h1M771 1380.5h2M774 1380.5h1M776 1380.5h13M790 1380.5h14M806 1380.5h3M813 1380.5h2M780 1381.5h2M783 1381.5h4M788 1381.5h13M805 1381.5h4M810 1381.5h2M813 1381.5h1M742 1382.5h1M763 1382.5h1M765 1382.5h1M772 1382.5h7M783 1382.5h4M788 1382.5h4M793 1382.5h5M800 1382.5h4M805 1382.5h1M809 1382.5h2M813 1382.5h1M743 1383.5h1M753 1383.5h1M758 1383.5h1M765 1383.5h1M771 1383.5h3M775 1383.5h1M779 1383.5h4M784 1383.5h1M786 1383.5h4M792 1383.5h2M795 1383.5h2M799 1383.5h4M804 1383.5h2M807 1383.5h2M812 1383.5h2M767 1384.5h1M771 1384.5h5M777 1384.5h1M779 1384.5h8M789 1384.5h5M795 1384.5h2M799 1384.5h2M803 1384.5h1M806 1384.5h2M773 1385.5h7M781 1385.5h1M783 1385.5h9M793 1385.5h1M796 1385.5h2M803 1385.5h2M806 1385.5h2M811 1385.5h1M736 1386.5h1M760 1386.5h1M766 1386.5h2M774 1386.5h2M778 1386.5h1M780 1386.5h1M782 1386.5h4M789 1386.5h3M793 1386.5h1M796 1386.5h12M809 1386.5h1M746 1387.5h1M753 1387.5h2M763 1387.5h1M767 1387.5h5M773 1387.5h4M778 1387.5h2M781 1387.5h6M788 1387.5h1M790 1387.5h3M795 1387.5h2M799 1387.5h1M801 1387.5h1M803 1387.5h1M805 1387.5h3M809 1387.5h1M762 1388.5h1M764 1388.5h1M766 1388.5h1M771 1388.5h11M784 1388.5h2M788 1388.5h2M791 1388.5h1M793 1388.5h5M800 1388.5h1M803 1388.5h3M746 1389.5h1M767 1389.5h1M770 1389.5h6M777 1389.5h4M782 1389.5h1M784 1389.5h2M788 1389.5h1M791 1389.5h2M794 1389.5h3M799 1389.5h7M807 1389.5h1M759 1390.5h1M767 1390.5h4M773 1390.5h2M776 1390.5h7M784 1390.5h4M790 1390.5h1M792 1390.5h1M797 1390.5h1M802 1390.5h5M746 1391.5h1M755 1391.5h1M764 1391.5h1M766 1391.5h1M768 1391.5h4M774 1391.5h2M778 1391.5h7M787 1391.5h2M791 1391.5h9M801 1391.5h2M748 1392.5h1M752 1392.5h1M757 1392.5h1M762 1392.5h1M766 1392.5h1M768 1392.5h7M777 1392.5h1M779 1392.5h2M782 1392.5h8M794 1392.5h5M801 1392.5h1M804 1392.5h1M762 1393.5h1M764 1393.5h2M767 1393.5h4M772 1393.5h1M774 1393.5h3M778 1393.5h2M781 1393.5h2M784 1393.5h3M789 1393.5h2M792 1393.5h5M799 1393.5h1M801 1393.5h1M803 1393.5h1M764 1394.5h1M766 1394.5h1M768 1394.5h2M771 1394.5h1M773 1394.5h1M778 1394.5h1M780 1394.5h2M783 1394.5h5M790 1394.5h3M796 1394.5h1M798 1394.5h1M800 1394.5h2M712 1395.5h1M755 1395.5h1M758 1395.5h2M766 1395.5h3M771 1395.5h4M776 1395.5h1M784 1395.5h15M800 1395.5h1M762 1396.5h3M767 1396.5h4M772 1396.5h5M780 1396.5h5M793 1396.5h1M795 1396.5h3M713 1397.5h1M761 1397.5h1M763 1397.5h1M767 1397.5h1M769 1397.5h1M771 1397.5h1M773 1397.5h1M775 1397.5h2M778 1397.5h1M783 1397.5h2M786 1397.5h2M789 1397.5h3M793 1397.5h2M797 1397.5h3M742 1398.5h1M748 1398.5h1M754 1398.5h2M763 1398.5h1M765 1398.5h1M767 1398.5h3M771 1398.5h2M775 1398.5h2M778 1398.5h5M785 1398.5h3M790 1398.5h2M796 1398.5h2M745 1399.5h1M756 1399.5h2M760 1399.5h1M766 1399.5h2M770 1399.5h3M774 1399.5h3M778 1399.5h2M781 1399.5h11M793 1399.5h5M759 1400.5h1M762 1400.5h2M765 1400.5h1M769 1400.5h1M772 1400.5h2M776 1400.5h1M783 1400.5h5M789 1400.5h2M792 1400.5h5M756 1401.5h2M759 1401.5h2M762 1401.5h2M765 1401.5h1M767 1401.5h2M770 1401.5h1M774 1401.5h1M776 1401.5h3M780 1401.5h3M785 1401.5h2M789 1401.5h2M793 1401.5h1M795 1401.5h1M747 1402.5h1M758 1402.5h2M761 1402.5h1M764 1402.5h1M769 1402.5h3M775 1402.5h2M783 1402.5h1M785 1402.5h2M788 1402.5h1M790 1402.5h4M739 1403.5h1M752 1403.5h1M761 1403.5h1M764 1403.5h1M766 1403.5h2M770 1403.5h2M773 1403.5h2M777 1403.5h1M779 1403.5h2M785 1403.5h1M787 1403.5h2M792 1403.5h2M751 1404.5h1M754 1404.5h1M756 1404.5h1M762 1404.5h3M766 1404.5h3M773 1404.5h2M778 1404.5h1M782 1404.5h1M785 1404.5h1M788 1404.5h1M756 1405.5h1M759 1405.5h4M764 1405.5h3M768 1405.5h4M774 1405.5h1M776 1405.5h2M780 1405.5h1M785 1405.5h4M790 1405.5h2M748 1406.5h1M752 1406.5h2M755 1406.5h2M758 1406.5h1M761 1406.5h1M763 1406.5h2M767 1406.5h3M771 1406.5h2M775 1406.5h4M780 1406.5h1M783 1406.5h6M790 1406.5h1M756 1407.5h1M758 1407.5h1M760 1407.5h1M763 1407.5h2M767 1407.5h3M771 1407.5h4M776 1407.5h3M780 1407.5h4M785 1407.5h3M755 1408.5h1M760 1408.5h3M764 1408.5h2M770 1408.5h1M772 1408.5h3M776 1408.5h1M778 1408.5h2M783 1408.5h2M786 1408.5h2M755 1409.5h4M760 1409.5h1M762 1409.5h3M769 1409.5h3M774 1409.5h1M778 1409.5h2M782 1409.5h3M729 1410.5h1M753 1410.5h1M756 1410.5h2M760 1410.5h2M763 1410.5h7M771 1410.5h1M773 1410.5h1M775 1410.5h3M780 1410.5h4M785 1410.5h1M753 1411.5h1M755 1411.5h1M758 1411.5h2M766 1411.5h1M769 1411.5h1M772 1411.5h3M776 1411.5h3M780 1411.5h2M784 1411.5h1M753 1412.5h1M755 1412.5h3M759 1412.5h1M762 1412.5h1M765 1412.5h4M770 1412.5h1M772 1412.5h2M775 1412.5h1M777 1412.5h2M745 1413.5h1M756 1413.5h2M760 1413.5h6M767 1413.5h2M772 1413.5h2M775 1413.5h1M780 1413.5h1M757 1414.5h4M763 1414.5h7M772 1414.5h2M775 1414.5h2M781 1414.5h1M755 1415.5h4M760 1415.5h1M765 1415.5h3M769 1415.5h5M775 1415.5h1M777 1415.5h1M779 1415.5h1M752 1416.5h1M758 1416.5h1M760 1416.5h1M762 1416.5h1M764 1416.5h1M770 1416.5h2M773 1416.5h1M753 1417.5h1M758 1417.5h2M763 1417.5h1M766 1417.5h1M769 1417.5h4M754 1418.5h2M757 1418.5h2M761 1418.5h1M763 1418.5h1M770 1418.5h1M772 1418.5h2M775 1418.5h1M777 1418.5h1M754 1419.5h2M758 1419.5h3M762 1419.5h2M766 1419.5h3M770 1419.5h1M775 1419.5h1M754 1420.5h1M761 1420.5h6M770 1420.5h2M775 1420.5h1M750 1421.5h2M759 1421.5h3M769 1421.5h1M759 1422.5h2M768 1422.5h1M770 1422.5h2M765 1423.5h2M770 1423.5h1M772 1423.5h1M761 1424.5h1M736 1425.5h1M738 1425.5h1M745 1425.5h1M757 1427.5h1M741 1431.5h1M711 1435.5h1M754 1435.5h1" stroke="#00ff00" stroke-width="1.4" fill="none"/>
<path d="M830 1372.5h1M835 1375.5h1M838 1377.5h1M841 1377.5h1M833 1379.5h1M829 1380.5h1M835 1380.5h1M819 1381.5h1M821 1382.5h1M832 1382.5h1M825 1383.5h1M828 1383.5h1M823 1384.5h1M835 1384.5h1M814 1385.5h1M816 1385.5h1M819 1385.5h3M832 1385.5h1M813 1386.5h2M817 1386.5h4M822 1386.5h1M825 1386.5h1M815 1387.5h2M820 1387.5h1M829 1387.5h1M812 1388.5h2M816 1388.5h1M819 1388.5h1M810 1389.5h6M817 1389.5h2M820 1389.5h2M823 1389.5h3M809 1390.5h7M818 1390.5h3M822 1390.5h2M809 1391.5h1M811 1391.5h3M816 1391.5h1M819 1391.5h1M808 1392.5h2M811 1392.5h7M819 1392.5h1M821 1392.5h2M828 1392.5h1M831 1392.5h1M806 1393.5h15M823 1393.5h1M805 1394.5h17M803 1395.5h19M803 1396.5h10M814 1396.5h6M823 1396.5h1M802 1397.5h17M820 1397.5h1M824 1397.5h1M837 1397.5h1M801 1398.5h3M805 1398.5h4M810 1398.5h10M821 1398.5h1M800 1399.5h19M822 1399.5h1M799 1400.5h23M824 1400.5h1M798 1401.5h19M818 1401.5h5M796 1402.5h23M823 1402.5h1M830 1402.5h1M796 1403.5h24M821 1403.5h1M795 1404.5h22M818 1404.5h3M794 1405.5h24M819 1405.5h2M823 1405.5h2M793 1406.5h23M817 1406.5h5M792 1407.5h26M821 1407.5h1M823 1407.5h2M791 1408.5h28M820 1408.5h3M790 1409.5h23M814 1409.5h7M829 1409.5h1M789 1410.5h10M800 1410.5h12M813 1410.5h5M819 1410.5h1M788 1411.5h25M814 1411.5h5M821 1411.5h1M823 1411.5h1M826 1411.5h1M787 1412.5h29M817 1412.5h3M821 1412.5h1M786 1413.5h20M807 1413.5h12M786 1414.5h21M808 1414.5h9M818 1414.5h1M822 1414.5h1M825 1414.5h1M784 1415.5h9M794 1415.5h7M802 1415.5h15M818 1415.5h1M783 1416.5h33M817 1416.5h3M782 1417.5h1M784 1417.5h36M781 1418.5h4M786 1418.5h30M817 1418.5h1M823 1418.5h1M780 1419.5h35M821 1419.5h1M779 1420.5h5M785 1420.5h29M817 1420.5h1M819 1420.5h1M778 1421.5h35M814 1421.5h3M777 1422.5h39M776 1423.5h36M776 1424.5h3M780 1424.5h30M811 1424.5h1M774 1425.5h1M777 1425.5h3M781 1425.5h21M803 1425.5h11M773 1426.5h36M810 1426.5h3M814 1426.5h1M772 1427.5h1M775 1427.5h31M807 1427.5h4M819 1427.5h1M773 1428.5h7M781 1428.5h30M813 1428.5h1M773 1429.5h1M775 1429.5h33M810 1429.5h1M769 1430.5h1M771 1430.5h36M813 1430.5h1M768 1431.5h3M772 1431.5h35M809 1431.5h1M811 1431.5h3M769 1432.5h11M781 1432.5h11M793 1432.5h1M795 1432.5h6M802 1432.5h4M807 1432.5h1M809 1432.5h2M815 1432.5h1M770 1433.5h36M807 1433.5h1M766 1434.5h1M770 1434.5h24M796 1434.5h8M805 1434.5h2M813 1434.5h1M767 1435.5h1M770 1435.5h21M792 1435.5h1M794 1435.5h11M808 1435.5h1M768 1436.5h20M789 1436.5h14M804 1436.5h1M807 1436.5h1M810 1436.5h1M768 1437.5h34M803 1437.5h1M766 1438.5h2M769 1438.5h37M767 1439.5h2M770 1439.5h23M794 1439.5h6M801 1439.5h4M762 1440.5h1M769 1440.5h1M771 1440.5h28M800 1440.5h2M803 1440.5h1M770 1441.5h3M774 1441.5h3M778 1441.5h21M800 1441.5h2M807 1441.5h1M763 1442.5h1M768 1442.5h1M770 1442.5h19M791 1442.5h9M802 1442.5h1M766 1443.5h1M768 1443.5h1M770 1443.5h26M797 1443.5h1M799 1443.5h1M805 1443.5h1M765 1444.5h1M767 1444.5h1M769 1444.5h29M800 1444.5h1M802 1444.5h1M767 1445.5h24M792 1445.5h4M798 1445.5h1M804 1445.5h1M814 1445.5h1M764 1446.5h1M766 1446.5h1M769 1446.5h8M778 1446.5h16M795 1446.5h1M797 1446.5h2M808 1446.5h1M812 1446.5h1M761 1447.5h1M763 1447.5h3M767 1447.5h1M769 1447.5h11M781 1447.5h14M796 1447.5h1M763 1448.5h1M768 1448.5h25M794 1448.5h1M796 1448.5h1M801 1448.5h1M764 1449.5h1M768 1449.5h1M770 1449.5h18M789 1449.5h1M791 1449.5h2M799 1449.5h1M766 1450.5h1M768 1450.5h1M771 1450.5h4M776 1450.5h2M779 1450.5h11M791 1450.5h1M793 1450.5h2M796 1450.5h2M755 1451.5h1M763 1451.5h1M765 1451.5h4M770 1451.5h3M774 1451.5h17M792 1451.5h2M802 1451.5h1M760 1452.5h1M765 1452.5h2M769 1452.5h1M771 1452.5h14M786 1452.5h3M800 1452.5h1M765 1453.5h1M767 1453.5h1M769 1453.5h9M780 1453.5h4M785 1453.5h3M789 1453.5h1M797 1453.5h1M765 1454.5h1M767 1454.5h2M770 1454.5h3M774 1454.5h1M776 1454.5h4M781 1454.5h1M783 1454.5h3M788 1454.5h1M760 1455.5h1M764 1455.5h1M766 1455.5h1M769 1455.5h10M780 1455.5h1M782 1455.5h3M793 1455.5h2M765 1456.5h11M777 1456.5h1M779 1456.5h1M782 1456.5h2M758 1457.5h1M766 1457.5h1M768 1457.5h2M771 1457.5h1M773 1457.5h1M776 1457.5h2M779 1457.5h2M782 1457.5h3M786 1457.5h1M790 1457.5h1M794 1457.5h1M749 1458.5h1M754 1458.5h1M767 1458.5h1M769 1458.5h3M773 1458.5h1M775 1458.5h2M778 1458.5h1M780 1458.5h3M784 1458.5h1M787 1458.5h2M758 1459.5h1M761 1459.5h1M766 1459.5h1M769 1459.5h1M781 1459.5h1M767 1460.5h1M773 1460.5h3M777 1460.5h1M779 1460.5h1M781 1460.5h1M793 1460.5h1M762 1461.5h1M766 1461.5h2M770 1461.5h1M777 1461.5h3M786 1461.5h1M796 1461.5h1M779 1462.5h1M783 1462.5h1M769 1463.5h1M771 1463.5h1M773 1463.5h1M777 1463.5h1M780 1463.5h1M793 1463.5h1M768 1464.5h1M771 1464.5h1M775 1464.5h1M777 1464.5h1M781 1464.5h1M806 1464.5h1M773 1465.5h1M778 1465.5h1M785 1465.5h1M773 1466.5h1M765 1467.5h1M785 1467.5h1M768 1468.5h1M775 1468.5h1M804 1468.5h1M768 1469.5h1M768 1470.5h1M771 1470.5h1M760 1471.5h1M763 1471.5h1M767 1471.5h1M766 1472.5h1M774 1472.5h1M754 1473.5h1M768 1473.5h1M756 1474.5h1M759 1476.5h2M777 1479.5h1M779 1479.5h1M783 1479.5h1M790 1479.5h1M765 1487.5h1" stroke="#0000ff" stroke-width="1.4" fill="none"/>
<g fill="none" stroke="#000">
<rect x="659.9" y="1303.9" width="233.7" height="213.7" stroke-width="1.4"/>
<rect x="677.9" y="1307.9" width="209.3" height="185.4" stroke-width="1.4"/>
<path d="M678.4 1493.3 L681.1 1492.9 L683.7 1492.4 L686.3 1491.9 L688.9 1491.3 L691.4 1490.6 L693.9 1489.9 L696.4 1489.1 L698.8 1488.3 L701.2 1487.4 L703.6 1486.4 L705.9 1485.4 L708.2 1484.2 L710.5 1483.1 L712.8 1481.8 L715.0 1480.5 L717.2 1479.2 L719.4 1477.7 L721.5 1476.2 L723.6 1474.7 L725.7 1473.0 L727.8 1471.3 L729.9 1469.5 L731.9 1467.7 L733.9 1465.8 L887.3 1309.4" stroke-width="1.1"/>
<path d="M659.9 1517.7V1527.7M674.3 1517.7V1527.7M711.9 1517.7V1527.7M766.8 1517.7V1527.7M819.7 1517.7V1527.7M871.1 1517.7V1527.7M685.6 1517.7V1523.7M692.2 1517.7V1523.7M696.9 1517.7V1523.7M700.6 1517.7V1523.7M703.5 1517.7V1523.7M706.0 1517.7V1523.7M708.2 1517.7V1523.7M710.1 1517.7V1523.7M728.4 1517.7V1523.7M738.1 1517.7V1523.7M744.9 1517.7V1523.7M750.3 1517.7V1523.7M754.6 1517.7V1523.7M758.3 1517.7V1523.7M761.5 1517.7V1523.7M764.3 1517.7V1523.7M782.7 1517.7V1523.7M792.1 1517.7V1523.7M798.7 1517.7V1523.7M803.8 1517.7V1523.7M808.0 1517.7V1523.7M811.5 1517.7V1523.7M814.6 1517.7V1523.7M817.3 1517.7V1523.7M835.2 1517.7V1523.7M844.2 1517.7V1523.7M850.6 1517.7V1523.7M855.6 1517.7V1523.7M859.7 1517.7V1523.7M863.1 1517.7V1523.7M866.1 1517.7V1523.7M868.7 1517.7V1523.7M886.5 1517.7V1523.7M893.1 1517.7V1523.7M650.9 1323.9H659.9M650.9 1371.9H659.9M650.9 1420.8H659.9M650.9 1471.3H659.9M650.9 1493.7H659.9M650.9 1517.7H659.9M655.4 1309.5H659.9M650.9 1308.4H659.9M655.4 1357.4H659.9M655.4 1349.0H659.9M655.4 1343.0H659.9M655.4 1338.3H659.9M655.4 1334.5H659.9M655.4 1331.3H659.9M655.4 1328.6H659.9M655.4 1326.1H659.9M655.4 1406.1H659.9M655.4 1397.4H659.9M655.4 1391.3H659.9M655.4 1386.6H659.9M655.4 1382.7H659.9M655.4 1379.4H659.9M655.4 1376.6H659.9M655.4 1374.1H659.9M655.4 1456.1H659.9M655.4 1447.2H659.9M655.4 1440.9H659.9M655.4 1436.0H659.9M655.4 1432.0H659.9M655.4 1428.6H659.9M655.4 1425.7H659.9M655.4 1423.1H659.9M655.4 1474.3H659.9M655.4 1477.3H659.9M655.4 1480.3H659.9M655.4 1483.3H659.9M655.4 1486.3H659.9M655.4 1489.3H659.9M655.4 1492.3H659.9M655.4 1495.3H659.9M655.4 1498.3H659.9M655.4 1501.3H659.9M655.4 1504.3H659.9M655.4 1507.3H659.9M655.4 1510.3H659.9M655.4 1513.3H659.9M655.4 1516.3H659.9M650.9 1517.7H659.9" stroke-width="1.1"/>
</g>
<g font-family="Liberation Sans, Arial, sans-serif"><text x="657.9" y="1545.7" text-anchor="middle" font-size="10.5">-36</text><text x="672.3" y="1540.2" text-anchor="middle" font-size="10.5">0</text><text x="708.4" y="1540.2" text-anchor="middle" font-size="10.5" textLength="9" lengthAdjust="spacingAndGlyphs">10</text><text x="714.9" y="1533.2" font-size="8.5">2</text><text x="763.3" y="1540.2" text-anchor="middle" font-size="10.5" textLength="9" lengthAdjust="spacingAndGlyphs">10</text><text x="769.8" y="1533.2" font-size="8.5">3</text><text x="816.2" y="1540.2" text-anchor="middle" font-size="10.5" textLength="9" lengthAdjust="spacingAndGlyphs">10</text><text x="822.7" y="1533.2" font-size="8.5">4</text><text x="867.6" y="1540.2" text-anchor="middle" font-size="10.5" textLength="9" lengthAdjust="spacingAndGlyphs">10</text><text x="874.1" y="1533.2" font-size="8.5">5</text><text transform="translate(649.1 1330.5) rotate(-90)" font-size="10.5" textLength="9" lengthAdjust="spacingAndGlyphs">10</text><text transform="translate(642.5 1320.9) rotate(-90)" font-size="10">5</text><text transform="translate(649.1 1378.5) rotate(-90)" font-size="10.5" textLength="9" lengthAdjust="spacingAndGlyphs">10</text><text transform="translate(642.5 1368.9) rotate(-90)" font-size="10">4</text><text transform="translate(649.1 1427.4) rotate(-90)" font-size="10.5" textLength="9" lengthAdjust="spacingAndGlyphs">10</text><text transform="translate(642.5 1417.8) rotate(-90)" font-size="10">3</text><text transform="translate(649.1 1477.9) rotate(-90)" font-size="10.5" textLength="9" lengthAdjust="spacingAndGlyphs">10</text><text transform="translate(642.5 1468.3) rotate(-90)" font-size="10">2</text><text transform="translate(649.6 1493.7) rotate(-90)" text-anchor="middle" font-size="10.5">0</text><text transform="translate(639.4 1517.7) rotate(-90)" text-anchor="middle" font-size="10.5">-111</text><text x="776.3" y="1556.7" text-anchor="middle" font-size="13">FITC-A</text><text transform="translate(632.0 1409.8) rotate(-90)" text-anchor="middle" font-size="13">PE-A</text><text x="734.2" y="1356.5" font-size="15.4" fill="#111">P6</text><text x="838.5" y="1459.7" font-size="15.4" fill="#111">P7</text><text x="688.9" y="1402.8" font-size="17" font-weight="bold" fill="#00b050" textLength="42.9" lengthAdjust="spacingAndGlyphs">15.3%</text><text x="834.7" y="1427.4" font-size="17" font-weight="bold" fill="#3300e0" textLength="42.9" lengthAdjust="spacingAndGlyphs">84.8%</text></g>
<text x="924.0" y="1282.0" font-family="Liberation Sans, Arial, sans-serif" font-weight="bold" font-size="16.5" textLength="274.7" lengthAdjust="spacingAndGlyphs">1.5 µg/mL L-asp + 15 µg/mL api (48 h)</text>
<clipPath id="c6j"><polygon points="958.5,1501.3 958.5,1307.5 1180.1,1307.5 1180.1,1309.0 1014.5,1473.8 1012.5,1475.7 1010.5,1477.5 1008.4,1479.3 1006.3,1481.0 1004.2,1482.6 1002.1,1484.2 1000.0,1485.7 997.8,1487.2 995.6,1488.5 993.4,1489.8 991.1,1491.1 988.8,1492.2 986.5,1493.3 984.2,1494.4 981.8,1495.4 979.4,1496.3 977.0,1497.1 974.5,1497.9 972.0,1498.6 969.5,1499.3 966.9,1499.9 964.3,1500.4 961.7,1500.9 959.0,1501.3"/></clipPath>
<clipPath id="c7j"><polygon points="958.5,1501.3 959.0,1501.3 961.7,1500.9 964.3,1500.4 966.9,1499.9 969.5,1499.3 972.0,1498.6 974.5,1497.9 977.0,1497.1 979.4,1496.3 981.8,1495.4 984.2,1494.4 986.5,1493.3 988.8,1492.2 991.1,1491.1 993.4,1489.8 995.6,1488.5 997.8,1487.2 1000.0,1485.7 1002.1,1484.2 1004.2,1482.6 1006.3,1481.0 1008.4,1479.3 1010.5,1477.5 1012.5,1475.7 1014.5,1473.8 1180.1,1309.0 1180.1,1307.5 1180.1,1501.3"/></clipPath>
<path d="M1036 1330.5h1M1051 1334.5h1M1107 1337.5h1M1059 1343.5h1M1092 1348.5h1M1086 1353.5h1M1055 1355.5h1M1095 1356.5h1M1083 1357.5h1M1107 1357.5h1M1075 1358.5h1M1080 1358.5h1M1061 1359.5h1M1072 1359.5h1M1077 1359.5h1M1087 1359.5h1M1108 1359.5h1M1084 1360.5h1M1095 1360.5h1M1102 1360.5h1M1036 1362.5h1M1064 1363.5h1M1073 1363.5h1M1080 1363.5h1M1087 1364.5h1M1090 1364.5h1M1083 1365.5h1M1077 1366.5h1M1090 1366.5h1M1088 1367.5h1M1098 1367.5h1M1104 1367.5h2M1098 1368.5h2M1089 1369.5h1M1098 1369.5h1M1066 1370.5h1M1075 1370.5h1M1085 1370.5h2M1096 1370.5h1M1103 1370.5h1M1071 1371.5h1M1103 1371.5h1M1105 1371.5h1M1068 1372.5h1M1073 1372.5h1M1091 1372.5h1M1099 1372.5h1M1016 1373.5h1M1036 1373.5h1M1068 1373.5h1M1079 1373.5h1M1097 1373.5h1M1103 1373.5h1M1044 1374.5h1M1066 1374.5h1M1078 1374.5h1M1082 1374.5h1M1086 1374.5h1M1089 1374.5h1M1095 1374.5h1M1040 1375.5h1M1060 1375.5h2M1076 1375.5h2M1083 1375.5h1M1094 1375.5h1M1098 1375.5h1M1103 1375.5h1M1105 1375.5h1M1027 1376.5h1M1075 1376.5h1M1082 1376.5h2M1085 1376.5h1M1091 1376.5h1M1062 1377.5h1M1078 1377.5h1M1082 1377.5h1M1086 1377.5h1M1089 1377.5h1M1091 1377.5h2M1110 1377.5h1M1042 1378.5h1M1058 1378.5h1M1074 1378.5h1M1092 1378.5h1M1095 1378.5h1M1099 1378.5h2M1066 1379.5h1M1069 1379.5h1M1082 1379.5h1M1084 1379.5h2M1087 1379.5h2M1098 1379.5h2M1049 1380.5h1M1069 1380.5h1M1071 1380.5h1M1075 1380.5h1M1079 1380.5h1M1084 1380.5h1M1094 1380.5h1M1102 1380.5h1M1053 1381.5h1M1060 1381.5h1M1068 1381.5h2M1074 1381.5h1M1080 1381.5h1M1089 1381.5h2M999 1382.5h1M1059 1382.5h1M1063 1382.5h1M1071 1382.5h2M1079 1382.5h2M1082 1382.5h1M1086 1382.5h1M1090 1382.5h1M1093 1382.5h2M1098 1382.5h1M1047 1383.5h1M1059 1383.5h1M1062 1383.5h1M1066 1383.5h1M1071 1383.5h1M1077 1383.5h2M1080 1383.5h1M1091 1383.5h1M1093 1383.5h1M1095 1383.5h4M1046 1384.5h1M1058 1384.5h1M1068 1384.5h1M1072 1384.5h1M1078 1384.5h2M1081 1384.5h2M1088 1384.5h5M1094 1384.5h1M1096 1384.5h1M1098 1384.5h1M1100 1384.5h1M1045 1385.5h1M1051 1385.5h1M1070 1385.5h1M1073 1385.5h3M1081 1385.5h1M1086 1385.5h2M1089 1385.5h1M1091 1385.5h4M1096 1385.5h1M1098 1385.5h1M1100 1385.5h1M1046 1386.5h1M1049 1386.5h1M1057 1386.5h1M1064 1386.5h1M1067 1386.5h1M1077 1386.5h1M1079 1386.5h1M1088 1386.5h8M1099 1386.5h1M1052 1387.5h1M1062 1387.5h1M1067 1387.5h1M1070 1387.5h1M1072 1387.5h1M1074 1387.5h1M1077 1387.5h1M1083 1387.5h2M1086 1387.5h2M1089 1387.5h6M1097 1387.5h2M1053 1388.5h1M1062 1388.5h1M1070 1388.5h1M1072 1388.5h1M1077 1388.5h1M1079 1388.5h1M1082 1388.5h3M1086 1388.5h1M1088 1388.5h5M1094 1388.5h3M1098 1388.5h1M1059 1389.5h1M1063 1389.5h2M1067 1389.5h1M1070 1389.5h2M1074 1389.5h1M1076 1389.5h1M1082 1389.5h5M1089 1389.5h2M1092 1389.5h3M1096 1389.5h1M1030 1390.5h1M1038 1390.5h1M1049 1390.5h1M1061 1390.5h1M1063 1390.5h1M1067 1390.5h1M1070 1390.5h1M1075 1390.5h2M1078 1390.5h1M1080 1390.5h1M1082 1390.5h3M1088 1390.5h1M1090 1390.5h7M1035 1391.5h1M1059 1391.5h1M1061 1391.5h1M1068 1391.5h1M1071 1391.5h1M1075 1391.5h1M1081 1391.5h1M1083 1391.5h3M1087 1391.5h2M1090 1391.5h1M1092 1391.5h4M1047 1392.5h1M1054 1392.5h2M1057 1392.5h1M1072 1392.5h1M1075 1392.5h1M1079 1392.5h1M1081 1392.5h10M1092 1392.5h2M1040 1393.5h1M1050 1393.5h1M1060 1393.5h1M1068 1393.5h1M1072 1393.5h1M1078 1393.5h3M1082 1393.5h1M1084 1393.5h2M1087 1393.5h3M1091 1393.5h3M1052 1394.5h1M1070 1394.5h1M1074 1394.5h1M1076 1394.5h2M1080 1394.5h2M1083 1394.5h5M1089 1394.5h4M1032 1395.5h1M1035 1395.5h1M1051 1395.5h1M1055 1395.5h1M1058 1395.5h1M1062 1395.5h1M1064 1395.5h3M1069 1395.5h3M1077 1395.5h5M1083 1395.5h8M1051 1396.5h1M1053 1396.5h1M1061 1396.5h2M1066 1396.5h2M1069 1396.5h1M1073 1396.5h2M1076 1396.5h3M1080 1396.5h10M1055 1397.5h1M1065 1397.5h1M1070 1397.5h1M1077 1397.5h3M1081 1397.5h1M1083 1397.5h2M1087 1397.5h3M1001 1398.5h1M1064 1398.5h2M1073 1398.5h1M1076 1398.5h1M1078 1398.5h2M1082 1398.5h2M1086 1398.5h2M1034 1399.5h1M1054 1399.5h2M1066 1399.5h1M1073 1399.5h1M1075 1399.5h2M1078 1399.5h3M1082 1399.5h3M1086 1399.5h2M1041 1400.5h1M1043 1400.5h1M1052 1400.5h1M1070 1400.5h2M1074 1400.5h2M1078 1400.5h10M1016 1401.5h1M1038 1401.5h1M1066 1401.5h6M1073 1401.5h6M1080 1401.5h1M1082 1401.5h1M1084 1401.5h1M1086 1401.5h1M1057 1402.5h1M1060 1402.5h1M1062 1402.5h1M1067 1402.5h2M1073 1402.5h9M1083 1402.5h2M1038 1403.5h1M1042 1403.5h1M1057 1403.5h3M1066 1403.5h1M1069 1403.5h2M1074 1403.5h1M1077 1403.5h2M1080 1403.5h1M1082 1403.5h1M1021 1404.5h1M1058 1404.5h1M1061 1404.5h1M1068 1404.5h1M1072 1404.5h2M1075 1404.5h4M1080 1404.5h1M1082 1404.5h1M1048 1405.5h1M1055 1405.5h1M1063 1405.5h1M1065 1405.5h1M1068 1405.5h1M1071 1405.5h1M1073 1405.5h2M1076 1405.5h6M1027 1406.5h1M1047 1406.5h1M1057 1406.5h1M1065 1406.5h1M1075 1406.5h5M1038 1407.5h1M1045 1407.5h1M1059 1407.5h4M1069 1407.5h1M1072 1407.5h1M1075 1407.5h3M1003 1408.5h1M1054 1408.5h1M1058 1408.5h1M1063 1408.5h1M1067 1408.5h2M1076 1408.5h2M1044 1409.5h1M1058 1409.5h4M1035 1410.5h1M1037 1410.5h1M1050 1410.5h1M1052 1410.5h1M1054 1410.5h1M1061 1410.5h1M1043 1411.5h1M1047 1411.5h1M1052 1411.5h1M1056 1411.5h1M1059 1411.5h1M1045 1412.5h1M1061 1412.5h2M1065 1412.5h1M1045 1413.5h1M1048 1413.5h2M1052 1413.5h1M1062 1413.5h1M1068 1413.5h1M1071 1413.5h1M1026 1414.5h1M1028 1414.5h1M1044 1414.5h1M1047 1414.5h1M1053 1414.5h1M1057 1414.5h1M1069 1414.5h1M1045 1415.5h1M1051 1415.5h2M1054 1415.5h1M1060 1415.5h1M1064 1415.5h1M1054 1416.5h1M1064 1416.5h1M1035 1418.5h2M1022 1419.5h1M1033 1419.5h1M1050 1419.5h1M1067 1419.5h1M1045 1421.5h1M1052 1421.5h1M1048 1422.5h1M1059 1422.5h1M1036 1423.5h1M1039 1423.5h1M1051 1423.5h1M1041 1424.5h1M1053 1424.5h1M1057 1424.5h1M1057 1427.5h1M1036 1428.5h1M1034 1429.5h1M1037 1429.5h1M1028 1434.5h1" stroke="#00ff00" stroke-width="1.4" fill="none"/>
<path d="M1118 1375.5h1M1123 1377.5h1M1131 1379.5h1M1113 1381.5h1M1133 1381.5h1M1125 1382.5h1M1113 1383.5h1M1114 1384.5h1M1109 1388.5h2M1116 1388.5h1M1106 1390.5h1M1102 1391.5h1M1108 1391.5h1M1099 1392.5h4M1105 1392.5h2M1108 1392.5h1M1112 1392.5h1M1118 1392.5h1M1096 1393.5h2M1102 1393.5h1M1105 1393.5h1M1107 1393.5h1M1098 1394.5h1M1100 1394.5h1M1104 1394.5h1M1107 1394.5h2M1111 1394.5h1M1113 1394.5h1M1115 1394.5h1M1102 1395.5h1M1105 1395.5h3M1109 1395.5h2M1115 1395.5h2M1119 1395.5h1M1121 1395.5h1M1095 1396.5h1M1097 1396.5h3M1102 1396.5h1M1106 1396.5h3M1110 1396.5h2M1129 1396.5h1M1093 1397.5h2M1101 1397.5h1M1103 1397.5h1M1105 1397.5h1M1107 1397.5h4M1113 1397.5h1M1115 1397.5h1M1121 1397.5h1M1126 1397.5h2M1096 1398.5h8M1105 1398.5h1M1109 1398.5h4M1114 1398.5h1M1090 1399.5h1M1095 1399.5h11M1107 1399.5h2M1113 1399.5h2M1118 1399.5h1M1089 1400.5h1M1092 1400.5h1M1094 1400.5h1M1096 1400.5h16M1113 1400.5h1M1092 1401.5h13M1106 1401.5h6M1113 1401.5h1M1088 1402.5h3M1094 1402.5h16M1111 1402.5h4M1117 1402.5h1M1120 1402.5h1M1087 1403.5h2M1090 1403.5h20M1117 1403.5h1M1085 1404.5h2M1088 1404.5h22M1112 1404.5h3M1120 1404.5h1M1130 1404.5h1M1086 1405.5h1M1088 1405.5h21M1110 1405.5h2M1113 1405.5h1M1119 1405.5h1M1083 1406.5h1M1085 1406.5h2M1088 1406.5h18M1107 1406.5h2M1110 1406.5h1M1112 1406.5h1M1114 1406.5h1M1117 1406.5h1M1082 1407.5h4M1087 1407.5h10M1098 1407.5h2M1101 1407.5h10M1112 1407.5h2M1081 1408.5h4M1086 1408.5h23M1110 1408.5h1M1113 1408.5h2M1081 1409.5h30M1119 1409.5h1M1080 1410.5h10M1091 1410.5h19M1078 1411.5h31M1077 1412.5h1M1080 1412.5h1M1082 1412.5h4M1087 1412.5h14M1102 1412.5h3M1106 1412.5h3M1110 1412.5h1M1113 1412.5h1M1077 1413.5h13M1091 1413.5h17M1109 1413.5h2M1116 1413.5h1M1118 1413.5h1M1077 1414.5h32M1110 1414.5h1M1119 1414.5h1M1076 1415.5h33M1075 1416.5h1M1077 1416.5h20M1098 1416.5h10M1111 1416.5h1M1074 1417.5h20M1095 1417.5h13M1109 1417.5h3M1073 1418.5h1M1076 1418.5h29M1107 1418.5h1M1069 1419.5h1M1071 1419.5h1M1073 1419.5h7M1081 1419.5h23M1106 1419.5h1M1108 1419.5h2M1068 1420.5h2M1072 1420.5h10M1083 1420.5h26M1068 1421.5h1M1070 1421.5h35M1108 1421.5h1M1068 1422.5h1M1070 1422.5h11M1082 1422.5h23M1066 1423.5h1M1068 1423.5h4M1073 1423.5h25M1099 1423.5h7M1108 1423.5h1M1066 1424.5h1M1070 1424.5h34M1105 1424.5h2M1066 1425.5h19M1086 1425.5h17M1064 1426.5h2M1067 1426.5h2M1070 1426.5h33M1104 1426.5h2M1064 1427.5h1M1066 1427.5h15M1082 1427.5h4M1087 1427.5h1M1089 1427.5h9M1099 1427.5h6M1066 1428.5h1M1069 1428.5h1M1071 1428.5h31M1104 1428.5h1M1113 1428.5h1M1064 1429.5h26M1091 1429.5h10M1104 1429.5h2M1062 1430.5h6M1069 1430.5h17M1087 1430.5h13M1106 1430.5h1M1064 1431.5h37M1102 1431.5h1M1104 1431.5h1M1061 1432.5h1M1063 1432.5h1M1065 1432.5h35M1061 1433.5h28M1090 1433.5h11M1057 1434.5h1M1062 1434.5h3M1066 1434.5h34M1101 1434.5h1M1054 1435.5h1M1062 1435.5h1M1064 1435.5h15M1080 1435.5h20M1061 1436.5h36M1098 1436.5h1M1100 1436.5h1M1057 1437.5h3M1061 1437.5h29M1091 1437.5h7M1099 1437.5h1M1054 1438.5h1M1059 1438.5h2M1062 1438.5h35M1058 1439.5h1M1060 1439.5h8M1069 1439.5h27M1097 1439.5h1M1051 1440.5h1M1058 1440.5h2M1061 1440.5h34M1096 1440.5h1M1057 1441.5h35M1093 1441.5h1M1050 1442.5h1M1054 1442.5h1M1056 1442.5h36M1096 1442.5h1M1055 1443.5h1M1057 1443.5h31M1089 1443.5h3M1094 1443.5h1M1056 1444.5h33M1092 1444.5h1M1054 1445.5h1M1058 1445.5h7M1066 1445.5h24M1049 1446.5h1M1052 1446.5h1M1055 1446.5h32M1090 1446.5h1M1093 1446.5h1M1096 1446.5h1M1053 1447.5h1M1056 1447.5h1M1059 1447.5h8M1068 1447.5h20M1089 1447.5h1M1052 1448.5h1M1056 1448.5h1M1058 1448.5h12M1071 1448.5h17M1089 1448.5h1M1055 1449.5h1M1057 1449.5h31M1125 1449.5h1M1055 1450.5h30M1090 1450.5h1M1051 1451.5h1M1053 1451.5h1M1056 1451.5h20M1077 1451.5h6M1084 1451.5h2M1087 1451.5h1M1089 1451.5h1M1055 1452.5h1M1057 1452.5h14M1072 1452.5h10M1083 1452.5h1M1085 1452.5h1M1044 1453.5h1M1054 1453.5h31M1086 1453.5h1M1053 1454.5h1M1056 1454.5h13M1070 1454.5h8M1079 1454.5h6M1089 1454.5h1M1091 1454.5h1M1102 1454.5h1M1053 1455.5h1M1055 1455.5h1M1057 1455.5h5M1063 1455.5h18M1046 1456.5h1M1052 1456.5h24M1077 1456.5h2M1081 1456.5h1M1052 1457.5h9M1062 1457.5h12M1075 1457.5h2M1078 1457.5h3M1084 1457.5h1M1051 1458.5h4M1057 1458.5h22M1081 1458.5h1M1052 1459.5h1M1055 1459.5h1M1057 1459.5h19M1077 1459.5h2M1084 1459.5h1M1049 1460.5h2M1054 1460.5h1M1057 1460.5h8M1066 1460.5h4M1072 1460.5h3M1089 1460.5h1M1094 1460.5h1M1046 1461.5h1M1049 1461.5h2M1052 1461.5h1M1055 1461.5h1M1059 1461.5h1M1061 1461.5h4M1067 1461.5h2M1070 1461.5h1M1072 1461.5h2M1075 1461.5h1M1090 1461.5h1M1054 1462.5h3M1058 1462.5h5M1064 1462.5h2M1068 1462.5h3M1074 1462.5h1M1083 1462.5h1M1089 1462.5h1M1032 1463.5h1M1036 1463.5h1M1047 1463.5h1M1049 1463.5h1M1051 1463.5h4M1057 1463.5h4M1063 1463.5h2M1066 1463.5h5M1084 1463.5h1M1040 1464.5h1M1051 1464.5h3M1055 1464.5h2M1059 1464.5h1M1062 1464.5h6M1069 1464.5h3M1089 1464.5h1M1053 1465.5h1M1057 1465.5h2M1060 1465.5h6M1067 1465.5h1M1071 1465.5h1M1075 1465.5h1M1046 1466.5h1M1057 1466.5h1M1059 1466.5h1M1061 1466.5h2M1064 1466.5h1M1069 1466.5h1M1079 1466.5h1M1051 1467.5h1M1055 1467.5h1M1057 1467.5h1M1059 1467.5h1M1065 1467.5h2M1056 1468.5h1M1060 1468.5h3M1064 1468.5h3M1070 1468.5h1M1073 1468.5h1M1052 1469.5h1M1059 1469.5h2M1063 1469.5h3M1071 1470.5h1M1073 1470.5h1M1049 1471.5h1M1044 1472.5h1M1046 1472.5h1M1049 1472.5h1M1055 1472.5h1M1058 1472.5h1M1062 1472.5h1M1074 1472.5h1M1047 1476.5h1M1043 1477.5h1M1048 1477.5h1M1052 1478.5h1M1056 1478.5h1M1067 1478.5h1M1053 1479.5h1M1044 1481.5h1M1056 1481.5h1M1051 1482.5h1M1070 1482.5h1M1070 1484.5h1M1056 1485.5h1M1051 1489.5h1M1055 1493.5h1M1051 1494.5h1M1037 1499.5h1" stroke="#0000ff" stroke-width="1.4" fill="none"/>
<g fill="none" stroke="#000">
<rect x="951.5" y="1303.5" width="234.1" height="214.7" stroke-width="1.4"/>
<rect x="958.5" y="1307.5" width="221.5" height="193.8" stroke-width="1.4"/>
<path d="M959.0 1501.3 L961.7 1500.9 L964.3 1500.4 L966.9 1499.9 L969.5 1499.3 L972.0 1498.6 L974.5 1497.9 L977.0 1497.1 L979.4 1496.3 L981.8 1495.4 L984.2 1494.4 L986.5 1493.3 L988.8 1492.2 L991.1 1491.1 L993.4 1489.8 L995.6 1488.5 L997.8 1487.2 L1000.0 1485.7 L1002.1 1484.2 L1004.2 1482.6 L1006.3 1481.0 L1008.4 1479.3 L1010.5 1477.5 L1012.5 1475.7 L1014.5 1473.8 L1180.1 1309.0" stroke-width="1.1"/>
<path d="M951.5 1518.3V1528.3M963.9 1518.3V1528.3M1006.9 1518.3V1528.3M1058.8 1518.3V1528.3M1110.7 1518.3V1528.3M1163.7 1518.3V1528.3M976.8 1518.3V1524.3M984.4 1518.3V1524.3M989.8 1518.3V1524.3M993.9 1518.3V1524.3M997.3 1518.3V1524.3M1000.2 1518.3V1524.3M1002.7 1518.3V1524.3M1004.9 1518.3V1524.3M1022.5 1518.3V1524.3M1031.6 1518.3V1524.3M1038.1 1518.3V1524.3M1043.2 1518.3V1524.3M1047.3 1518.3V1524.3M1050.8 1518.3V1524.3M1053.8 1518.3V1524.3M1056.4 1518.3V1524.3M1074.4 1518.3V1524.3M1083.6 1518.3V1524.3M1090.1 1518.3V1524.3M1095.1 1518.3V1524.3M1099.2 1518.3V1524.3M1102.7 1518.3V1524.3M1105.7 1518.3V1524.3M1108.4 1518.3V1524.3M1126.7 1518.3V1524.3M1136.0 1518.3V1524.3M1142.6 1518.3V1524.3M1147.7 1518.3V1524.3M1151.9 1518.3V1524.3M1155.5 1518.3V1524.3M1158.5 1518.3V1524.3M1161.2 1518.3V1524.3M1179.6 1518.3V1524.3M1185.1 1518.3V1524.3M942.5 1323.5H951.5M942.5 1371.9H951.5M942.5 1419.4H951.5M942.5 1469.3H951.5M942.5 1502.7H951.5M942.5 1518.3H951.5M947.0 1309.0H951.5M942.5 1308.0H951.5M947.0 1357.3H951.5M947.0 1348.8H951.5M947.0 1342.7H951.5M947.0 1338.1H951.5M947.0 1334.2H951.5M947.0 1331.0H951.5M947.0 1328.2H951.5M947.0 1325.7H951.5M947.0 1405.1H951.5M947.0 1396.7H951.5M947.0 1390.8H951.5M947.0 1386.2H951.5M947.0 1382.4H951.5M947.0 1379.2H951.5M947.0 1376.5H951.5M947.0 1374.0H951.5M947.0 1454.3H951.5M947.0 1445.5H951.5M947.0 1439.3H951.5M947.0 1434.4H951.5M947.0 1430.5H951.5M947.0 1427.1H951.5M947.0 1424.2H951.5M947.0 1421.7H951.5M947.0 1472.3H951.5M947.0 1475.3H951.5M947.0 1478.3H951.5M947.0 1481.3H951.5M947.0 1484.3H951.5M947.0 1487.3H951.5M947.0 1490.3H951.5M947.0 1493.3H951.5M947.0 1496.3H951.5M947.0 1499.3H951.5M947.0 1502.3H951.5M947.0 1505.3H951.5M947.0 1508.3H951.5M947.0 1511.3H951.5M947.0 1514.3H951.5M942.5 1518.3H951.5" stroke-width="1.1"/>
</g>
<g font-family="Liberation Sans, Arial, sans-serif"><text x="949.5" y="1546.3" text-anchor="middle" font-size="10.5">0</text><text x="960.4" y="1540.8" text-anchor="middle" font-size="10.5" textLength="9" lengthAdjust="spacingAndGlyphs">10</text><text x="966.9" y="1533.8" font-size="8.5">1</text><text x="1003.4" y="1540.8" text-anchor="middle" font-size="10.5" textLength="9" lengthAdjust="spacingAndGlyphs">10</text><text x="1009.9" y="1533.8" font-size="8.5">2</text><text x="1055.3" y="1540.8" text-anchor="middle" font-size="10.5" textLength="9" lengthAdjust="spacingAndGlyphs">10</text><text x="1061.8" y="1533.8" font-size="8.5">3</text><text x="1107.2" y="1540.8" text-anchor="middle" font-size="10.5" textLength="9" lengthAdjust="spacingAndGlyphs">10</text><text x="1113.7" y="1533.8" font-size="8.5">4</text><text x="1160.2" y="1540.8" text-anchor="middle" font-size="10.5" textLength="9" lengthAdjust="spacingAndGlyphs">10</text><text x="1166.7" y="1533.8" font-size="8.5">5</text><text transform="translate(940.7 1330.1) rotate(-90)" font-size="10.5" textLength="9" lengthAdjust="spacingAndGlyphs">10</text><text transform="translate(934.1 1320.5) rotate(-90)" font-size="10">5</text><text transform="translate(940.7 1378.5) rotate(-90)" font-size="10.5" textLength="9" lengthAdjust="spacingAndGlyphs">10</text><text transform="translate(934.1 1368.9) rotate(-90)" font-size="10">4</text><text transform="translate(940.7 1426.0) rotate(-90)" font-size="10.5" textLength="9" lengthAdjust="spacingAndGlyphs">10</text><text transform="translate(934.1 1416.4) rotate(-90)" font-size="10">3</text><text transform="translate(940.7 1475.9) rotate(-90)" font-size="10.5" textLength="9" lengthAdjust="spacingAndGlyphs">10</text><text transform="translate(934.1 1466.3) rotate(-90)" font-size="10">2</text><text transform="translate(941.2 1502.7) rotate(-90)" text-anchor="middle" font-size="10.5">0</text><text transform="translate(931.0 1518.3) rotate(-90)" text-anchor="middle" font-size="10.5">-37</text><text x="1068.1" y="1557.3" text-anchor="middle" font-size="13">FITC-A</text><text transform="translate(923.0 1409.8) rotate(-90)" text-anchor="middle" font-size="13">PE-A</text><text x="1019.6" y="1359.5" font-size="15.4" fill="#111">P6</text><text x="1124.5" y="1464.1" font-size="15.4" fill="#111">P7</text><text x="976.9" y="1402.8" font-size="17" font-weight="bold" fill="#00b050" textLength="35.0" lengthAdjust="spacingAndGlyphs">6.3%</text><text x="1123.3" y="1427.4" font-size="17" font-weight="bold" fill="#3300e0" textLength="43.9" lengthAdjust="spacingAndGlyphs">93.8%</text></g>
<text x="1221.0" y="1282.0" font-family="Liberation Sans, Arial, sans-serif" font-weight="bold" font-size="16.5" textLength="275.7" lengthAdjust="spacingAndGlyphs">1.0 µg/mL L-asp + 10 µg/mL api (48 h)</text>
<clipPath id="c6k"><polygon points="1249.9,1493.7 1249.9,1307.9 1471.7,1307.9 1471.7,1309.4 1305.9,1466.2 1303.9,1468.1 1301.9,1469.9 1299.8,1471.7 1297.8,1473.4 1295.7,1475.1 1293.5,1476.6 1291.4,1478.1 1289.2,1479.6 1287.0,1480.9 1284.8,1482.2 1282.5,1483.5 1280.2,1484.6 1277.9,1485.8 1275.6,1486.8 1273.2,1487.8 1270.8,1488.7 1268.4,1489.5 1265.9,1490.3 1263.4,1491.0 1260.9,1491.7 1258.3,1492.3 1255.7,1492.8 1253.1,1493.3 1250.4,1493.7"/></clipPath>
<clipPath id="c7k"><polygon points="1249.9,1493.7 1250.4,1493.7 1253.1,1493.3 1255.7,1492.8 1258.3,1492.3 1260.9,1491.7 1263.4,1491.0 1265.9,1490.3 1268.4,1489.5 1270.8,1488.7 1273.2,1487.8 1275.6,1486.8 1277.9,1485.8 1280.2,1484.6 1282.5,1483.5 1284.8,1482.2 1287.0,1480.9 1289.2,1479.6 1291.4,1478.1 1293.5,1476.6 1295.7,1475.1 1297.8,1473.4 1299.8,1471.7 1301.9,1469.9 1303.9,1468.1 1305.9,1466.2 1471.7,1309.4 1471.7,1307.9 1471.7,1493.7"/></clipPath>
<path d="M1428 1322.5h1M1424 1324.5h1M1350 1329.5h1M1421 1332.5h1M1421 1333.5h1M1370 1334.5h1M1398 1334.5h1M1429 1335.5h1M1415 1336.5h1M1411 1337.5h1M1376 1338.5h1M1419 1338.5h1M1428 1338.5h1M1403 1339.5h1M1426 1339.5h1M1408 1340.5h1M1419 1340.5h1M1397 1341.5h1M1426 1341.5h1M1390 1343.5h1M1395 1343.5h1M1400 1343.5h1M1423 1343.5h1M1389 1344.5h1M1391 1344.5h1M1401 1344.5h1M1413 1344.5h1M1405 1345.5h1M1420 1345.5h1M1429 1346.5h1M1374 1348.5h1M1396 1348.5h1M1415 1348.5h1M1422 1348.5h1M1388 1349.5h1M1394 1349.5h1M1397 1349.5h3M1401 1349.5h1M1420 1349.5h1M1344 1350.5h1M1392 1350.5h1M1396 1350.5h1M1400 1350.5h1M1376 1351.5h1M1385 1351.5h1M1388 1351.5h1M1391 1351.5h1M1397 1351.5h1M1402 1351.5h1M1377 1352.5h1M1387 1352.5h1M1404 1352.5h1M1369 1353.5h1M1384 1353.5h1M1401 1353.5h1M1403 1353.5h2M1406 1353.5h2M1411 1353.5h1M1336 1354.5h2M1358 1354.5h1M1361 1354.5h1M1389 1354.5h1M1402 1354.5h2M1415 1354.5h1M1389 1355.5h2M1394 1355.5h1M1402 1355.5h3M1296 1356.5h1M1357 1356.5h1M1388 1356.5h1M1392 1356.5h3M1400 1356.5h1M1402 1356.5h1M1406 1356.5h1M1409 1356.5h1M1375 1357.5h1M1388 1357.5h2M1391 1357.5h1M1394 1357.5h2M1397 1357.5h1M1400 1357.5h2M1413 1357.5h1M1377 1358.5h1M1389 1358.5h1M1395 1358.5h1M1397 1358.5h1M1406 1358.5h1M1369 1359.5h2M1380 1359.5h1M1385 1359.5h4M1391 1359.5h1M1394 1359.5h1M1399 1359.5h2M1404 1359.5h1M1406 1359.5h1M1358 1360.5h1M1379 1360.5h1M1382 1360.5h1M1385 1360.5h3M1390 1360.5h4M1396 1360.5h2M1400 1360.5h1M1404 1360.5h1M1406 1360.5h1M1408 1360.5h1M1372 1361.5h1M1381 1361.5h1M1383 1361.5h1M1385 1361.5h1M1387 1361.5h4M1393 1361.5h2M1396 1361.5h1M1402 1361.5h1M1404 1361.5h2M1361 1362.5h1M1372 1362.5h1M1381 1362.5h1M1385 1362.5h6M1392 1362.5h1M1395 1362.5h2M1398 1362.5h1M1404 1362.5h2M1373 1363.5h3M1380 1363.5h2M1383 1363.5h1M1385 1363.5h2M1390 1363.5h1M1392 1363.5h2M1395 1363.5h2M1398 1363.5h4M1406 1363.5h2M1307 1364.5h1M1347 1364.5h1M1357 1364.5h1M1365 1364.5h1M1377 1364.5h2M1380 1364.5h4M1385 1364.5h5M1391 1364.5h1M1393 1364.5h2M1397 1364.5h2M1404 1364.5h1M1407 1364.5h1M1324 1365.5h1M1348 1365.5h1M1372 1365.5h2M1377 1365.5h1M1379 1365.5h3M1383 1365.5h3M1388 1365.5h2M1394 1365.5h1M1396 1365.5h2M1400 1365.5h1M1402 1365.5h1M1362 1366.5h1M1372 1366.5h9M1382 1366.5h2M1385 1366.5h2M1388 1366.5h7M1396 1366.5h4M1404 1366.5h2M1407 1366.5h1M1368 1367.5h2M1372 1367.5h12M1385 1367.5h2M1388 1367.5h1M1391 1367.5h1M1393 1367.5h1M1397 1367.5h4M1402 1367.5h1M1406 1367.5h1M1408 1367.5h1M1352 1368.5h1M1358 1368.5h1M1364 1368.5h1M1370 1368.5h5M1376 1368.5h9M1386 1368.5h3M1391 1368.5h1M1394 1368.5h5M1400 1368.5h1M1402 1368.5h1M1367 1369.5h20M1388 1369.5h1M1390 1369.5h1M1392 1369.5h4M1397 1369.5h1M1399 1369.5h3M1366 1370.5h1M1368 1370.5h25M1394 1370.5h1M1396 1370.5h3M1401 1370.5h1M1403 1370.5h1M1349 1371.5h1M1357 1371.5h1M1367 1371.5h1M1369 1371.5h21M1391 1371.5h2M1396 1371.5h2M1399 1371.5h2M1360 1372.5h1M1362 1372.5h1M1365 1372.5h21M1387 1372.5h4M1392 1372.5h1M1394 1372.5h2M1397 1372.5h1M1403 1372.5h1M1361 1373.5h1M1366 1373.5h19M1386 1373.5h2M1390 1373.5h2M1394 1373.5h1M1396 1373.5h1M1342 1374.5h1M1354 1374.5h1M1364 1374.5h2M1368 1374.5h20M1389 1374.5h3M1393 1374.5h3M1398 1374.5h1M1345 1375.5h1M1349 1375.5h1M1353 1375.5h1M1359 1375.5h1M1365 1375.5h2M1368 1375.5h15M1384 1375.5h3M1388 1375.5h1M1390 1375.5h1M1392 1375.5h6M1351 1376.5h1M1358 1376.5h2M1361 1376.5h1M1364 1376.5h2M1368 1376.5h27M1396 1376.5h1M1346 1377.5h1M1353 1377.5h1M1356 1377.5h1M1358 1377.5h1M1363 1377.5h3M1368 1377.5h19M1388 1377.5h2M1391 1377.5h2M1395 1377.5h1M1345 1378.5h1M1348 1378.5h1M1352 1378.5h1M1359 1378.5h2M1363 1378.5h1M1366 1378.5h2M1369 1378.5h18M1389 1378.5h2M1392 1378.5h4M1397 1378.5h1M1258 1379.5h1M1330 1379.5h1M1347 1379.5h1M1354 1379.5h1M1361 1379.5h4M1366 1379.5h21M1388 1379.5h1M1390 1379.5h1M1393 1379.5h4M1342 1380.5h1M1359 1380.5h2M1362 1380.5h1M1366 1380.5h25M1392 1380.5h1M1394 1380.5h1M1333 1381.5h2M1339 1381.5h1M1346 1381.5h1M1349 1381.5h1M1354 1381.5h2M1358 1381.5h2M1361 1381.5h4M1367 1381.5h1M1369 1381.5h19M1389 1381.5h2M1392 1381.5h1M1345 1382.5h1M1351 1382.5h2M1354 1382.5h2M1357 1382.5h1M1363 1382.5h1M1365 1382.5h1M1367 1382.5h4M1372 1382.5h4M1377 1382.5h8M1386 1382.5h2M1389 1382.5h2M1341 1383.5h1M1349 1383.5h1M1355 1383.5h3M1361 1383.5h4M1366 1383.5h1M1368 1383.5h2M1372 1383.5h9M1382 1383.5h1M1384 1383.5h1M1388 1383.5h4M1356 1384.5h2M1359 1384.5h1M1361 1384.5h1M1363 1384.5h11M1375 1384.5h10M1388 1384.5h3M1348 1385.5h1M1350 1385.5h2M1355 1385.5h3M1359 1385.5h7M1369 1385.5h1M1371 1385.5h2M1374 1385.5h2M1377 1385.5h6M1384 1385.5h1M1386 1385.5h2M1389 1385.5h1M1341 1386.5h1M1347 1386.5h1M1355 1386.5h1M1357 1386.5h5M1364 1386.5h3M1368 1386.5h5M1374 1386.5h1M1377 1386.5h6M1384 1386.5h4M1346 1387.5h1M1348 1387.5h1M1354 1387.5h3M1358 1387.5h2M1361 1387.5h8M1370 1387.5h3M1375 1387.5h3M1379 1387.5h1M1381 1387.5h4M1386 1387.5h2M1350 1388.5h1M1353 1388.5h1M1355 1388.5h3M1359 1388.5h9M1369 1388.5h4M1374 1388.5h1M1376 1388.5h1M1378 1388.5h5M1386 1388.5h1M1349 1389.5h1M1351 1389.5h1M1353 1389.5h5M1359 1389.5h9M1369 1389.5h1M1371 1389.5h2M1374 1389.5h7M1382 1389.5h1M1384 1389.5h2M1333 1390.5h1M1348 1390.5h1M1350 1390.5h1M1352 1390.5h1M1354 1390.5h2M1357 1390.5h6M1364 1390.5h12M1377 1390.5h6M1337 1391.5h1M1343 1391.5h2M1347 1391.5h3M1351 1391.5h1M1353 1391.5h1M1355 1391.5h2M1359 1391.5h22M1382 1391.5h2M1336 1392.5h1M1343 1392.5h2M1346 1392.5h2M1350 1392.5h10M1362 1392.5h9M1372 1392.5h2M1376 1392.5h4M1381 1392.5h2M1343 1393.5h1M1345 1393.5h4M1351 1393.5h1M1353 1393.5h6M1360 1393.5h2M1363 1393.5h1M1366 1393.5h1M1368 1393.5h2M1372 1393.5h4M1378 1393.5h2M1381 1393.5h1M1321 1394.5h1M1339 1394.5h1M1342 1394.5h3M1346 1394.5h2M1349 1394.5h4M1355 1394.5h3M1359 1394.5h10M1370 1394.5h5M1376 1394.5h2M1379 1394.5h2M1329 1395.5h1M1331 1395.5h1M1345 1395.5h2M1349 1395.5h2M1352 1395.5h2M1355 1395.5h1M1357 1395.5h3M1361 1395.5h3M1365 1395.5h7M1373 1395.5h3M1377 1395.5h2M1331 1396.5h1M1340 1396.5h1M1346 1396.5h1M1349 1396.5h3M1353 1396.5h12M1366 1396.5h2M1370 1396.5h3M1374 1396.5h1M1376 1396.5h3M1338 1397.5h1M1340 1397.5h1M1343 1397.5h5M1349 1397.5h12M1362 1397.5h2M1365 1397.5h4M1370 1397.5h2M1374 1397.5h2M1333 1398.5h1M1339 1398.5h2M1344 1398.5h1M1346 1398.5h4M1351 1398.5h1M1353 1398.5h1M1355 1398.5h3M1359 1398.5h2M1362 1398.5h1M1364 1398.5h4M1369 1398.5h1M1372 1398.5h3M1376 1398.5h1M1331 1399.5h2M1334 1399.5h1M1339 1399.5h2M1343 1399.5h3M1347 1399.5h4M1352 1399.5h13M1366 1399.5h6M1374 1399.5h1M1341 1400.5h5M1347 1400.5h1M1349 1400.5h1M1351 1400.5h4M1356 1400.5h3M1360 1400.5h9M1370 1400.5h4M1335 1401.5h1M1339 1401.5h4M1344 1401.5h1M1347 1401.5h3M1351 1401.5h2M1354 1401.5h7M1364 1401.5h2M1367 1401.5h1M1369 1401.5h2M1373 1401.5h1M1328 1402.5h1M1330 1402.5h1M1338 1402.5h1M1340 1402.5h2M1343 1402.5h5M1349 1402.5h1M1351 1402.5h5M1357 1402.5h1M1359 1402.5h7M1367 1402.5h1M1326 1403.5h1M1332 1403.5h1M1338 1403.5h1M1341 1403.5h8M1350 1403.5h1M1352 1403.5h2M1357 1403.5h8M1366 1403.5h1M1368 1403.5h2M1331 1404.5h1M1336 1404.5h2M1339 1404.5h1M1344 1404.5h1M1347 1404.5h2M1352 1404.5h5M1358 1404.5h2M1361 1404.5h3M1365 1404.5h4M1323 1405.5h1M1339 1405.5h2M1343 1405.5h2M1349 1405.5h4M1354 1405.5h2M1357 1405.5h4M1366 1405.5h3M1332 1406.5h1M1338 1406.5h5M1344 1406.5h1M1346 1406.5h1M1349 1406.5h1M1352 1406.5h3M1356 1406.5h2M1360 1406.5h2M1364 1406.5h1M1326 1407.5h1M1330 1407.5h1M1332 1407.5h2M1339 1407.5h1M1341 1407.5h2M1348 1407.5h3M1352 1407.5h2M1355 1407.5h5M1361 1407.5h1M1363 1407.5h1M1365 1407.5h1M1301 1408.5h1M1317 1408.5h1M1334 1408.5h3M1339 1408.5h6M1346 1408.5h2M1349 1408.5h1M1351 1408.5h1M1353 1408.5h5M1359 1408.5h3M1363 1408.5h2M1316 1409.5h1M1319 1409.5h1M1322 1409.5h1M1334 1409.5h1M1336 1409.5h3M1340 1409.5h1M1342 1409.5h3M1346 1409.5h1M1348 1409.5h1M1354 1409.5h3M1359 1409.5h1M1361 1409.5h3M1320 1410.5h2M1336 1410.5h1M1338 1410.5h1M1340 1410.5h6M1347 1410.5h2M1351 1410.5h4M1357 1410.5h4M1363 1410.5h1M1325 1411.5h1M1327 1411.5h1M1336 1411.5h4M1341 1411.5h3M1347 1411.5h8M1356 1411.5h3M1360 1411.5h2M1330 1412.5h1M1335 1412.5h2M1338 1412.5h2M1341 1412.5h1M1344 1412.5h4M1349 1412.5h2M1352 1412.5h6M1359 1412.5h3M1326 1413.5h2M1331 1413.5h1M1336 1413.5h6M1345 1413.5h3M1350 1413.5h10M1326 1414.5h2M1335 1414.5h1M1342 1414.5h1M1346 1414.5h4M1351 1414.5h1M1353 1414.5h3M1357 1414.5h1M1309 1415.5h1M1319 1415.5h1M1331 1415.5h1M1334 1415.5h2M1340 1415.5h1M1342 1415.5h1M1345 1415.5h3M1349 1415.5h2M1352 1415.5h1M1355 1415.5h4M1312 1416.5h1M1330 1416.5h2M1334 1416.5h1M1337 1416.5h1M1341 1416.5h1M1343 1416.5h2M1347 1416.5h1M1349 1416.5h1M1352 1416.5h1M1355 1416.5h1M1357 1416.5h1M1323 1417.5h1M1327 1417.5h3M1332 1417.5h1M1339 1417.5h1M1342 1417.5h3M1346 1417.5h2M1356 1417.5h1M1328 1418.5h1M1332 1418.5h1M1334 1418.5h2M1338 1418.5h1M1340 1418.5h2M1346 1418.5h1M1348 1418.5h1M1350 1418.5h3M1325 1419.5h1M1327 1419.5h1M1330 1419.5h1M1334 1419.5h3M1338 1419.5h1M1341 1419.5h2M1344 1419.5h2M1352 1419.5h1M1319 1420.5h1M1321 1420.5h1M1335 1420.5h2M1338 1420.5h1M1341 1420.5h1M1344 1420.5h2M1349 1420.5h1M1308 1421.5h1M1333 1421.5h3M1339 1421.5h1M1344 1421.5h2M1347 1421.5h1M1322 1422.5h1M1333 1422.5h1M1336 1422.5h1M1342 1422.5h1M1347 1422.5h1M1336 1423.5h3M1341 1423.5h1M1344 1423.5h1M1286 1424.5h1M1315 1424.5h1M1330 1424.5h2M1337 1424.5h1M1347 1424.5h1M1327 1425.5h1M1337 1425.5h1M1347 1425.5h1M1323 1426.5h1M1333 1426.5h1M1335 1426.5h1M1315 1427.5h1M1320 1427.5h1M1325 1427.5h1M1337 1427.5h1M1316 1428.5h1M1342 1428.5h1M1333 1429.5h1M1339 1429.5h1M1341 1429.5h1M1343 1429.5h1M1318 1430.5h1M1328 1430.5h1M1322 1434.5h1M1323 1435.5h1M1311 1436.5h1M1325 1436.5h1M1310 1438.5h1M1315 1440.5h1M1320 1442.5h1M1314 1454.5h1" stroke="#00ff00" stroke-width="1.4" fill="none"/>
<path d="M1414 1369.5h1M1407 1375.5h1M1408 1377.5h1M1409 1378.5h1M1417 1378.5h1M1399 1379.5h1M1408 1379.5h1M1413 1379.5h1M1422 1379.5h1M1403 1380.5h1M1410 1380.5h1M1425 1381.5h1M1401 1382.5h1M1404 1382.5h1M1404 1383.5h2M1414 1383.5h1M1396 1384.5h4M1403 1384.5h1M1408 1384.5h1M1394 1385.5h1M1397 1385.5h2M1407 1385.5h1M1392 1386.5h4M1397 1386.5h2M1400 1386.5h2M1403 1386.5h2M1390 1387.5h1M1392 1387.5h3M1397 1387.5h3M1404 1387.5h1M1410 1387.5h1M1417 1387.5h1M1420 1387.5h1M1389 1388.5h1M1392 1388.5h4M1397 1388.5h6M1404 1388.5h2M1391 1389.5h1M1393 1389.5h2M1397 1389.5h4M1402 1389.5h3M1407 1389.5h1M1409 1389.5h1M1411 1389.5h1M1413 1389.5h1M1417 1389.5h1M1388 1390.5h2M1392 1390.5h3M1396 1390.5h1M1398 1390.5h8M1408 1390.5h3M1420 1390.5h1M1386 1391.5h20M1409 1391.5h1M1385 1392.5h1M1390 1392.5h2M1393 1392.5h12M1406 1392.5h1M1408 1392.5h1M1411 1392.5h1M1416 1392.5h1M1383 1393.5h2M1386 1393.5h18M1406 1393.5h3M1413 1393.5h1M1384 1394.5h22M1407 1394.5h1M1411 1394.5h1M1383 1395.5h1M1385 1395.5h23M1410 1395.5h1M1381 1396.5h3M1385 1396.5h8M1394 1396.5h5M1400 1396.5h7M1408 1396.5h4M1381 1397.5h25M1407 1397.5h1M1379 1398.5h4M1384 1398.5h22M1408 1398.5h2M1379 1399.5h26M1406 1399.5h2M1379 1400.5h1M1381 1400.5h19M1401 1400.5h5M1407 1400.5h2M1377 1401.5h2M1380 1401.5h26M1375 1402.5h2M1378 1402.5h29M1408 1402.5h2M1414 1402.5h1M1375 1403.5h32M1408 1403.5h1M1373 1404.5h2M1377 1404.5h20M1398 1404.5h8M1407 1404.5h1M1371 1405.5h1M1374 1405.5h12M1387 1405.5h1M1389 1405.5h1M1391 1405.5h4M1396 1405.5h8M1406 1405.5h2M1412 1405.5h1M1370 1406.5h34M1405 1406.5h1M1370 1407.5h36M1370 1408.5h28M1399 1408.5h7M1408 1408.5h1M1414 1408.5h1M1369 1409.5h1M1372 1409.5h2M1375 1409.5h20M1396 1409.5h9M1409 1409.5h1M1411 1409.5h1M1369 1410.5h2M1372 1410.5h5M1378 1410.5h2M1381 1410.5h23M1405 1410.5h2M1370 1411.5h35M1367 1412.5h2M1371 1412.5h31M1403 1412.5h3M1366 1413.5h37M1367 1414.5h27M1395 1414.5h6M1402 1414.5h1M1409 1414.5h1M1364 1415.5h1M1366 1415.5h2M1369 1415.5h27M1397 1415.5h5M1408 1415.5h1M1368 1416.5h32M1401 1416.5h2M1404 1416.5h1M1364 1417.5h5M1370 1417.5h6M1377 1417.5h9M1387 1417.5h10M1398 1417.5h3M1362 1418.5h1M1365 1418.5h27M1393 1418.5h7M1401 1418.5h1M1405 1418.5h1M1360 1419.5h1M1365 1419.5h23M1389 1419.5h10M1401 1419.5h1M1403 1419.5h2M1358 1420.5h1M1362 1420.5h1M1364 1420.5h3M1368 1420.5h23M1392 1420.5h8M1408 1420.5h1M1364 1421.5h34M1399 1421.5h1M1363 1422.5h1M1365 1422.5h34M1401 1422.5h2M1356 1423.5h1M1361 1423.5h32M1394 1423.5h2M1397 1423.5h2M1360 1424.5h1M1363 1424.5h34M1402 1424.5h1M1357 1425.5h1M1360 1425.5h31M1392 1425.5h1M1394 1425.5h4M1359 1426.5h16M1376 1426.5h9M1386 1426.5h12M1410 1426.5h1M1420 1426.5h1M1358 1427.5h8M1367 1427.5h9M1377 1427.5h6M1384 1427.5h9M1395 1427.5h1M1397 1427.5h1M1349 1428.5h1M1355 1428.5h1M1358 1428.5h1M1360 1428.5h32M1393 1428.5h1M1395 1428.5h1M1355 1429.5h1M1359 1429.5h33M1393 1429.5h3M1401 1429.5h1M1403 1429.5h1M1357 1430.5h1M1359 1430.5h20M1380 1430.5h12M1393 1430.5h1M1400 1430.5h1M1347 1431.5h1M1350 1431.5h1M1356 1431.5h1M1358 1431.5h1M1360 1431.5h33M1400 1431.5h1M1343 1432.5h1M1357 1432.5h33M1391 1432.5h2M1397 1432.5h1M1407 1432.5h1M1359 1433.5h1M1361 1433.5h23M1385 1433.5h4M1390 1433.5h2M1395 1433.5h1M1409 1433.5h1M1352 1434.5h1M1359 1434.5h7M1367 1434.5h25M1393 1434.5h2M1350 1435.5h1M1353 1435.5h1M1356 1435.5h2M1359 1435.5h1M1361 1435.5h28M1391 1435.5h1M1349 1436.5h1M1354 1436.5h1M1357 1436.5h1M1360 1436.5h29M1390 1436.5h1M1392 1436.5h1M1349 1437.5h1M1357 1437.5h31M1389 1437.5h2M1396 1437.5h1M1351 1438.5h1M1356 1438.5h2M1359 1438.5h15M1375 1438.5h11M1387 1438.5h3M1340 1439.5h1M1358 1439.5h19M1378 1439.5h2M1381 1439.5h4M1386 1439.5h1M1389 1439.5h1M1351 1440.5h1M1353 1440.5h1M1358 1440.5h3M1362 1440.5h18M1381 1440.5h4M1356 1441.5h26M1383 1441.5h2M1389 1441.5h1M1396 1441.5h1M1350 1442.5h1M1354 1442.5h3M1358 1442.5h27M1352 1443.5h1M1355 1443.5h1M1358 1443.5h1M1360 1443.5h18M1379 1443.5h3M1384 1443.5h1M1388 1443.5h1M1345 1444.5h1M1350 1444.5h1M1353 1444.5h1M1358 1444.5h18M1378 1444.5h2M1381 1444.5h1M1383 1444.5h2M1389 1444.5h1M1394 1444.5h1M1354 1445.5h3M1358 1445.5h2M1361 1445.5h5M1367 1445.5h7M1375 1445.5h3M1380 1445.5h2M1387 1445.5h2M1394 1445.5h1M1421 1445.5h1M1353 1446.5h22M1376 1446.5h1M1378 1446.5h2M1386 1446.5h1M1392 1446.5h1M1354 1447.5h1M1356 1447.5h5M1362 1447.5h2M1365 1447.5h10M1376 1447.5h2M1350 1448.5h1M1357 1448.5h1M1359 1448.5h2M1362 1448.5h10M1373 1448.5h3M1377 1448.5h1M1387 1448.5h1M1331 1449.5h1M1340 1449.5h1M1345 1449.5h1M1351 1449.5h1M1356 1449.5h3M1361 1449.5h3M1365 1449.5h4M1370 1449.5h4M1375 1449.5h3M1379 1449.5h1M1385 1449.5h1M1350 1450.5h1M1352 1450.5h2M1355 1450.5h1M1358 1450.5h1M1361 1450.5h6M1368 1450.5h2M1372 1450.5h6M1390 1450.5h1M1353 1451.5h1M1357 1451.5h1M1360 1451.5h5M1366 1451.5h6M1373 1451.5h1M1376 1451.5h1M1354 1452.5h2M1357 1452.5h1M1359 1452.5h4M1364 1452.5h2M1368 1452.5h2M1374 1452.5h1M1378 1452.5h1M1380 1452.5h1M1351 1453.5h1M1353 1453.5h2M1359 1453.5h7M1367 1453.5h4M1376 1453.5h1M1378 1453.5h1M1354 1454.5h1M1356 1454.5h1M1358 1454.5h2M1366 1454.5h4M1379 1454.5h1M1383 1454.5h1M1355 1455.5h1M1357 1455.5h1M1359 1455.5h1M1361 1455.5h3M1349 1456.5h1M1361 1456.5h1M1364 1456.5h1M1380 1456.5h1M1389 1456.5h1M1418 1456.5h1M1353 1457.5h1M1355 1457.5h1M1365 1457.5h1M1367 1457.5h2M1381 1457.5h1M1342 1458.5h1M1354 1458.5h1M1357 1458.5h1M1359 1458.5h1M1380 1458.5h1M1382 1458.5h1M1342 1459.5h1M1353 1459.5h1M1355 1459.5h1M1364 1459.5h1M1374 1459.5h1M1384 1459.5h1M1356 1460.5h1M1362 1460.5h2M1368 1460.5h2M1389 1460.5h1M1353 1461.5h3M1360 1461.5h1M1390 1461.5h1M1356 1462.5h2M1363 1462.5h2M1372 1462.5h1M1345 1463.5h1M1362 1463.5h1M1351 1464.5h1M1381 1464.5h1M1353 1465.5h1M1369 1465.5h1M1344 1466.5h1M1347 1466.5h1M1352 1466.5h1M1356 1466.5h1M1371 1466.5h1M1375 1466.5h1M1344 1468.5h1M1353 1468.5h1M1362 1468.5h1M1376 1468.5h1M1335 1469.5h1M1341 1469.5h2M1347 1469.5h1M1349 1469.5h1M1351 1469.5h1M1347 1470.5h1M1343 1471.5h2M1347 1471.5h1M1362 1472.5h1M1352 1473.5h1M1355 1475.5h1M1366 1475.5h1M1368 1476.5h1M1345 1477.5h1M1361 1478.5h1M1364 1482.5h1" stroke="#0000ff" stroke-width="1.4" fill="none"/>
<g fill="none" stroke="#000">
<rect x="1243.5" y="1303.5" width="234.1" height="214.7" stroke-width="1.4"/>
<rect x="1249.9" y="1307.9" width="221.7" height="185.8" stroke-width="1.4"/>
<path d="M1250.4 1493.7 L1253.1 1493.3 L1255.7 1492.8 L1258.3 1492.3 L1260.9 1491.7 L1263.4 1491.0 L1265.9 1490.3 L1268.4 1489.5 L1270.8 1488.7 L1273.2 1487.8 L1275.6 1486.8 L1277.9 1485.8 L1280.2 1484.6 L1282.5 1483.5 L1284.8 1482.2 L1287.0 1480.9 L1289.2 1479.6 L1291.4 1478.1 L1293.5 1476.6 L1295.7 1475.1 L1297.8 1473.4 L1299.8 1471.7 L1301.9 1469.9 L1303.9 1468.1 L1305.9 1466.2 L1471.7 1309.4" stroke-width="1.1"/>
<path d="M1243.5 1518.3V1528.3M1255.9 1518.3V1528.3M1298.9 1518.3V1528.3M1350.8 1518.3V1528.3M1403.3 1518.3V1528.3M1455.7 1518.3V1528.3M1268.8 1518.3V1524.3M1276.4 1518.3V1524.3M1281.8 1518.3V1524.3M1285.9 1518.3V1524.3M1289.3 1518.3V1524.3M1292.2 1518.3V1524.3M1294.7 1518.3V1524.3M1296.9 1518.3V1524.3M1314.5 1518.3V1524.3M1323.6 1518.3V1524.3M1330.1 1518.3V1524.3M1335.2 1518.3V1524.3M1339.3 1518.3V1524.3M1342.8 1518.3V1524.3M1345.8 1518.3V1524.3M1348.4 1518.3V1524.3M1366.6 1518.3V1524.3M1375.9 1518.3V1524.3M1382.4 1518.3V1524.3M1387.5 1518.3V1524.3M1391.7 1518.3V1524.3M1395.2 1518.3V1524.3M1398.3 1518.3V1524.3M1400.9 1518.3V1524.3M1419.1 1518.3V1524.3M1428.3 1518.3V1524.3M1434.9 1518.3V1524.3M1439.9 1518.3V1524.3M1444.1 1518.3V1524.3M1447.6 1518.3V1524.3M1450.6 1518.3V1524.3M1453.3 1518.3V1524.3M1471.4 1518.3V1524.3M1477.2 1518.3V1524.3M1234.5 1323.9H1243.5M1234.5 1371.9H1243.5M1234.5 1420.4H1243.5M1234.5 1471.3H1243.5M1234.5 1494.1H1243.5M1234.5 1518.3H1243.5M1239.0 1309.5H1243.5M1234.5 1308.0H1243.5M1239.0 1357.4H1243.5M1239.0 1349.0H1243.5M1239.0 1343.0H1243.5M1239.0 1338.3H1243.5M1239.0 1334.5H1243.5M1239.0 1331.3H1243.5M1239.0 1328.6H1243.5M1239.0 1326.1H1243.5M1239.0 1405.8H1243.5M1239.0 1397.2H1243.5M1239.0 1391.2H1243.5M1239.0 1386.5H1243.5M1239.0 1382.6H1243.5M1239.0 1379.4H1243.5M1239.0 1376.6H1243.5M1239.0 1374.1H1243.5M1239.0 1456.0H1243.5M1239.0 1447.0H1243.5M1239.0 1440.7H1243.5M1239.0 1435.7H1243.5M1239.0 1431.7H1243.5M1239.0 1428.3H1243.5M1239.0 1425.3H1243.5M1239.0 1422.7H1243.5M1239.0 1474.3H1243.5M1239.0 1477.3H1243.5M1239.0 1480.3H1243.5M1239.0 1483.3H1243.5M1239.0 1486.3H1243.5M1239.0 1489.3H1243.5M1239.0 1492.3H1243.5M1239.0 1495.3H1243.5M1239.0 1498.3H1243.5M1239.0 1501.3H1243.5M1239.0 1504.3H1243.5M1239.0 1507.3H1243.5M1239.0 1510.3H1243.5M1239.0 1513.3H1243.5M1239.0 1516.3H1243.5M1234.5 1518.3H1243.5" stroke-width="1.1"/>
</g>
<g font-family="Liberation Sans, Arial, sans-serif"><text x="1241.5" y="1546.3" text-anchor="middle" font-size="10.5">0</text><text x="1252.4" y="1540.8" text-anchor="middle" font-size="10.5" textLength="9" lengthAdjust="spacingAndGlyphs">10</text><text x="1258.9" y="1533.8" font-size="8.5">1</text><text x="1295.4" y="1540.8" text-anchor="middle" font-size="10.5" textLength="9" lengthAdjust="spacingAndGlyphs">10</text><text x="1301.9" y="1533.8" font-size="8.5">2</text><text x="1347.3" y="1540.8" text-anchor="middle" font-size="10.5" textLength="9" lengthAdjust="spacingAndGlyphs">10</text><text x="1353.8" y="1533.8" font-size="8.5">3</text><text x="1399.8" y="1540.8" text-anchor="middle" font-size="10.5" textLength="9" lengthAdjust="spacingAndGlyphs">10</text><text x="1406.3" y="1533.8" font-size="8.5">4</text><text x="1452.2" y="1540.8" text-anchor="middle" font-size="10.5" textLength="9" lengthAdjust="spacingAndGlyphs">10</text><text x="1458.7" y="1533.8" font-size="8.5">5</text><text transform="translate(1232.7 1330.5) rotate(-90)" font-size="10.5" textLength="9" lengthAdjust="spacingAndGlyphs">10</text><text transform="translate(1226.1 1320.9) rotate(-90)" font-size="10">5</text><text transform="translate(1232.7 1378.5) rotate(-90)" font-size="10.5" textLength="9" lengthAdjust="spacingAndGlyphs">10</text><text transform="translate(1226.1 1368.9) rotate(-90)" font-size="10">4</text><text transform="translate(1232.7 1427.0) rotate(-90)" font-size="10.5" textLength="9" lengthAdjust="spacingAndGlyphs">10</text><text transform="translate(1226.1 1417.4) rotate(-90)" font-size="10">3</text><text transform="translate(1232.7 1477.9) rotate(-90)" font-size="10.5" textLength="9" lengthAdjust="spacingAndGlyphs">10</text><text transform="translate(1226.1 1468.3) rotate(-90)" font-size="10">2</text><text transform="translate(1233.2 1494.1) rotate(-90)" text-anchor="middle" font-size="10.5">0</text><text transform="translate(1223.0 1518.3) rotate(-90)" text-anchor="middle" font-size="10.5">-113</text><text x="1360.1" y="1557.3" text-anchor="middle" font-size="13">FITC-A</text><text transform="translate(1215.6 1409.8) rotate(-90)" text-anchor="middle" font-size="13">PE-A</text><text x="1311.7" y="1356.5" font-size="15.4" fill="#111">P6</text><text x="1416.5" y="1459.7" font-size="15.4" fill="#111">P7</text><text x="1269.9" y="1402.8" font-size="17" font-weight="bold" fill="#00b050" textLength="43.9" lengthAdjust="spacingAndGlyphs">22.6%</text><text x="1417.7" y="1427.4" font-size="17" font-weight="bold" fill="#3300e0" textLength="42.9" lengthAdjust="spacingAndGlyphs">77.9%</text></g>
</svg></body></html>
